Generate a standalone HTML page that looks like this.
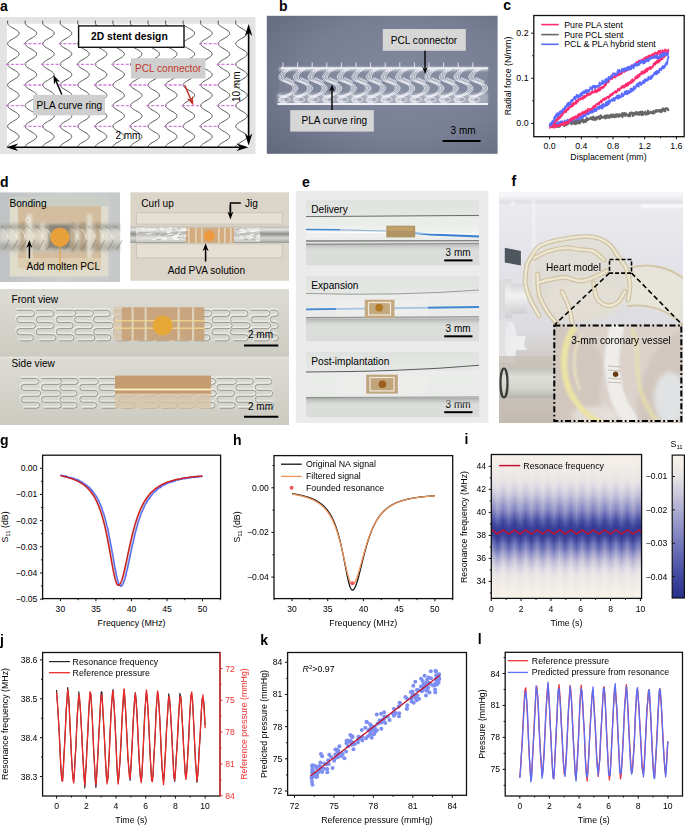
<!DOCTYPE html>
<html><head><meta charset="utf-8"><style>
html,body{margin:0;padding:0;background:#fff;width:685px;height:825px;overflow:hidden}
svg{display:block}
text{font-family:"Liberation Sans",sans-serif}
</style></head><body>
<svg width="685" height="825" viewBox="0 0 685 825">
<defs><radialGradient id="gb" cx="0.6" cy="0.45" r="0.8"><stop offset="0" stop-color="#82889e"/><stop offset="0.55" stop-color="#787e94"/><stop offset="1" stop-color="#62687d"/></radialGradient>
<filter id="bl05" x="-5%" y="-5%" width="110%" height="110%"><feGaussianBlur stdDeviation="0.5"/></filter>
<filter id="bl1" x="-10%" y="-10%" width="120%" height="120%"><feGaussianBlur stdDeviation="1"/></filter>
<filter id="bl2" x="-10%" y="-10%" width="120%" height="120%"><feGaussianBlur stdDeviation="2"/></filter>
<filter id="bl4" x="-20%" y="-20%" width="140%" height="140%"><feGaussianBlur stdDeviation="4"/></filter>
<linearGradient id="gd1" x1="0" y1="0" x2="1" y2="0"><stop offset="0" stop-color="#bfc1c3"/><stop offset="0.5" stop-color="#cdcfcf"/><stop offset="1" stop-color="#c6c8c9"/></linearGradient>
<linearGradient id="rod" x1="0" y1="0" x2="0" y2="1"><stop offset="0" stop-color="#b8b8b6"/><stop offset="0.2" stop-color="#e4e4e0"/><stop offset="0.45" stop-color="#8c8c8a"/><stop offset="0.7" stop-color="#d8d8d4"/><stop offset="1" stop-color="#9a9a98"/></linearGradient>
<linearGradient id="tube1" x1="0" y1="0" x2="0" y2="1"><stop offset="0" stop-color="#c4c4bc"/><stop offset="0.13" stop-color="#8f918a"/><stop offset="0.3" stop-color="#e0ddd0"/><stop offset="0.55" stop-color="#e6e2d4"/><stop offset="0.8" stop-color="#979890"/><stop offset="1" stop-color="#cacac2"/></linearGradient>
<linearGradient id="gd3" x1="0" y1="0" x2="0" y2="1"><stop offset="0" stop-color="#dddcd4"/><stop offset="1" stop-color="#cccbc2"/></linearGradient>
<linearGradient id="ge" x1="0" y1="0" x2="0" y2="1"><stop offset="0" stop-color="#e0e2e0"/><stop offset="0.3" stop-color="#e6e8e6"/><stop offset="0.65" stop-color="#dddfdd"/><stop offset="1" stop-color="#dadcda"/></linearGradient>
<linearGradient id="gtb" x1="0" y1="0" x2="0" y2="1"><stop offset="0" stop-color="#a4a6a4" stop-opacity="0.9"/><stop offset="1" stop-color="#d8dad8" stop-opacity="0"/></linearGradient>
<linearGradient id="gf" x1="0" y1="0" x2="0" y2="1"><stop offset="0" stop-color="#ececf0"/><stop offset="0.3" stop-color="#e3e3e9"/><stop offset="0.6" stop-color="#dcdbe0"/><stop offset="0.72" stop-color="#cfcac6"/><stop offset="1" stop-color="#c3bab2"/></linearGradient>
<linearGradient id="gcyl" x1="0" y1="0" x2="0" y2="1"><stop offset="0" stop-color="#bfc1ba"/><stop offset="0.3" stop-color="#dcdfd8"/><stop offset="0.7" stop-color="#d2d4cc"/><stop offset="1" stop-color="#b4b6ae"/></linearGradient>
<linearGradient id="gwc" x1="0" y1="0" x2="0" y2="1"><stop offset="0" stop-color="#d6d6d8"/><stop offset="0.4" stop-color="#f2f2f2"/><stop offset="1" stop-color="#cfcfd2"/></linearGradient>
<clipPath id="cf"><rect x="499" y="192.2" width="184" height="230.8"/></clipPath>
<clipPath id="cfi"><rect x="553.3" y="324.4" width="128.9" height="97.6"/></clipPath>
<linearGradient id="gi_lo" x1="0" y1="0" x2="0" y2="1"><stop offset="0" stop-color="#f6f1e8"/><stop offset="0.02" stop-color="#f5f0e8"/><stop offset="0.04" stop-color="#f4efe8"/><stop offset="0.06" stop-color="#f3efe8"/><stop offset="0.08" stop-color="#f2eee8"/><stop offset="0.1" stop-color="#f1ede7"/><stop offset="0.12" stop-color="#f0ece7"/><stop offset="0.15" stop-color="#efeae7"/><stop offset="0.17" stop-color="#ede9e7"/><stop offset="0.19" stop-color="#ebe7e7"/><stop offset="0.21" stop-color="#e9e5e7"/><stop offset="0.23" stop-color="#e4e1e5"/><stop offset="0.25" stop-color="#dfdbe3"/><stop offset="0.27" stop-color="#d8d5e1"/><stop offset="0.29" stop-color="#d0cdde"/><stop offset="0.31" stop-color="#c7c5da"/><stop offset="0.33" stop-color="#bdbbd7"/><stop offset="0.35" stop-color="#b2b0d3"/><stop offset="0.38" stop-color="#a5a5ce"/><stop offset="0.4" stop-color="#9798c9"/><stop offset="0.42" stop-color="#8789c3"/><stop offset="0.44" stop-color="#757abd"/><stop offset="0.46" stop-color="#656ab3"/><stop offset="0.48" stop-color="#545baa"/><stop offset="0.5" stop-color="#454da1"/><stop offset="0.52" stop-color="#3a429a"/><stop offset="0.54" stop-color="#343c95"/><stop offset="0.56" stop-color="#323a93"/><stop offset="0.58" stop-color="#353d95"/><stop offset="0.6" stop-color="#3e469c"/><stop offset="0.62" stop-color="#4e55a6"/><stop offset="0.65" stop-color="#6167b1"/><stop offset="0.67" stop-color="#7579bc"/><stop offset="0.69" stop-color="#898cc4"/><stop offset="0.71" stop-color="#9c9dcb"/><stop offset="0.73" stop-color="#acabd1"/><stop offset="0.75" stop-color="#bbb9d6"/><stop offset="0.77" stop-color="#c7c5da"/><stop offset="0.79" stop-color="#d2cfde"/><stop offset="0.81" stop-color="#dbd8e2"/><stop offset="0.83" stop-color="#e3dfe5"/><stop offset="0.85" stop-color="#e9e5e7"/><stop offset="0.88" stop-color="#ece8e7"/><stop offset="0.9" stop-color="#eeeae7"/><stop offset="0.92" stop-color="#f0ebe7"/><stop offset="0.94" stop-color="#f1ede7"/><stop offset="0.96" stop-color="#f3eee8"/><stop offset="0.98" stop-color="#f4f0e8"/><stop offset="1" stop-color="#f5f1e8"/></linearGradient>
<linearGradient id="gi_hi" x1="0" y1="0" x2="0" y2="1"><stop offset="0" stop-color="#f4efe8"/><stop offset="0.02" stop-color="#f3eee8"/><stop offset="0.04" stop-color="#f2ede8"/><stop offset="0.06" stop-color="#f1ece7"/><stop offset="0.08" stop-color="#efebe7"/><stop offset="0.1" stop-color="#eeeae7"/><stop offset="0.12" stop-color="#ece8e7"/><stop offset="0.15" stop-color="#ebe7e7"/><stop offset="0.17" stop-color="#e8e4e7"/><stop offset="0.19" stop-color="#e3dfe5"/><stop offset="0.21" stop-color="#dcd9e2"/><stop offset="0.23" stop-color="#d6d2e0"/><stop offset="0.25" stop-color="#cecbdd"/><stop offset="0.27" stop-color="#c4c2d9"/><stop offset="0.29" stop-color="#bab8d5"/><stop offset="0.31" stop-color="#aeadd1"/><stop offset="0.33" stop-color="#a1a1cc"/><stop offset="0.35" stop-color="#9293c7"/><stop offset="0.38" stop-color="#8184c1"/><stop offset="0.4" stop-color="#7075ba"/><stop offset="0.42" stop-color="#6065b0"/><stop offset="0.44" stop-color="#4f56a7"/><stop offset="0.46" stop-color="#41499e"/><stop offset="0.48" stop-color="#384098"/><stop offset="0.5" stop-color="#333b94"/><stop offset="0.52" stop-color="#323a93"/><stop offset="0.54" stop-color="#373f97"/><stop offset="0.56" stop-color="#424a9f"/><stop offset="0.58" stop-color="#535aa9"/><stop offset="0.6" stop-color="#676cb4"/><stop offset="0.62" stop-color="#7b7fbf"/><stop offset="0.65" stop-color="#8f91c6"/><stop offset="0.67" stop-color="#a1a1cd"/><stop offset="0.69" stop-color="#b1afd2"/><stop offset="0.71" stop-color="#bfbcd7"/><stop offset="0.73" stop-color="#cbc8dc"/><stop offset="0.75" stop-color="#d5d2df"/><stop offset="0.77" stop-color="#dddae3"/><stop offset="0.79" stop-color="#e5e1e5"/><stop offset="0.81" stop-color="#eae6e7"/><stop offset="0.83" stop-color="#ece8e7"/><stop offset="0.85" stop-color="#eeeae7"/><stop offset="0.88" stop-color="#f0ece7"/><stop offset="0.9" stop-color="#f2ede8"/><stop offset="0.92" stop-color="#f3efe8"/><stop offset="0.94" stop-color="#f4f0e8"/><stop offset="0.96" stop-color="#f6f1e8"/><stop offset="0.98" stop-color="#f7f2e8"/><stop offset="1" stop-color="#f7f3e8"/></linearGradient>
<linearGradient id="gcb" x1="0" y1="0" x2="0" y2="1"><stop offset="0" stop-color="#faf5e8"/><stop offset="0.03" stop-color="#f6f1e8"/><stop offset="0.07" stop-color="#f2eee8"/><stop offset="0.1" stop-color="#efeae7"/><stop offset="0.13" stop-color="#ebe7e7"/><stop offset="0.17" stop-color="#e5e1e5"/><stop offset="0.2" stop-color="#dcd9e2"/><stop offset="0.23" stop-color="#d4d1df"/><stop offset="0.27" stop-color="#cbc8dc"/><stop offset="0.3" stop-color="#c3c0d9"/><stop offset="0.33" stop-color="#bab8d6"/><stop offset="0.37" stop-color="#b2b0d3"/><stop offset="0.4" stop-color="#aaa9d0"/><stop offset="0.43" stop-color="#a1a1cd"/><stop offset="0.47" stop-color="#999aca"/><stop offset="0.5" stop-color="#9192c7"/><stop offset="0.53" stop-color="#898bc4"/><stop offset="0.57" stop-color="#8083c1"/><stop offset="0.6" stop-color="#787cbe"/><stop offset="0.63" stop-color="#7175ba"/><stop offset="0.67" stop-color="#696eb5"/><stop offset="0.7" stop-color="#6267b1"/><stop offset="0.73" stop-color="#5a60ad"/><stop offset="0.77" stop-color="#5359a9"/><stop offset="0.8" stop-color="#4b52a4"/><stop offset="0.83" stop-color="#444ba0"/><stop offset="0.87" stop-color="#3d459c"/><stop offset="0.9" stop-color="#373f97"/><stop offset="0.93" stop-color="#323a93"/><stop offset="0.97" stop-color="#2c348e"/><stop offset="1" stop-color="#262e8a"/></linearGradient>
<linearGradient id="gis" x1="491.9" y1="0" x2="503.18" y2="0" gradientUnits="userSpaceOnUse" spreadMethod="repeat"><stop offset="0" stop-color="#fff"/><stop offset="0.5" stop-color="#000"/><stop offset="1" stop-color="#fff"/></linearGradient>
<mask id="mis" maskUnits="userSpaceOnUse" x="491" y="454" width="151" height="145"><rect x="491.3" y="454.5" width="150.3" height="143.9" fill="url(#gis)"/></mask></defs>
<rect x="0" y="0" width="685" height="825" fill="#fff"/>
<text x="0" y="10.6" font-size="14" font-weight="bold" fill="#000">a</text>
<rect x="0" y="17" width="255.5" height="137" fill="#e3e3e3"/>
<rect x="7" y="23.7" width="242" height="123.5" fill="#ffffff"/>
<path d="M7.6 20.6 L7.6 23.05 L7.73 23.75 L8.11 24.45 L8.73 25.15 L9.56 25.85 L10.56 26.55 L11.69 27.25 L12.89 27.95 L14.11 28.65 L15.3 29.35 L16.4 30.05 L17.36 30.75 L18.14 31.45 L18.71 32.15 L19.03 32.85 L19.09 33.55 L18.9 34.25 L18.45 34.95 L17.78 35.65 L16.9 36.35 L15.86 37.05 L14.71 37.75 L13.5 38.45 L12.28 39.15 L11.11 39.85 L10.04 40.55 L9.13 41.25 L8.4 41.95 L7.89 42.65 L7.63 43.35 L7.63 44.05 L7.89 44.75 L8.4 45.45 L9.13 46.15 L10.04 46.85 L11.11 47.55 L12.28 48.25 L13.5 48.95 L14.71 49.65 L15.86 50.35 L16.9 51.05 L17.78 51.75 L18.45 52.45 L18.9 53.15 L19.09 53.85 L19.03 54.55 L18.71 55.25 L18.14 55.95 L17.36 56.65 L16.4 57.35 L15.3 58.05 L14.11 58.75 L12.89 59.45 L11.69 60.15 L10.56 60.85 L9.56 61.55 L8.73 62.25 L8.11 62.95 L7.73 63.65 L7.6 64.35 L7.73 65.05 L8.11 65.75 L8.73 66.45 L9.56 67.15 L10.56 67.85 L11.69 68.55 L12.89 69.25 L14.11 69.95 L15.3 70.65 L16.4 71.35 L17.36 72.05 L18.14 72.75 L18.71 73.45 L19.03 74.15 L19.09 74.85 L18.9 75.55 L18.45 76.25 L17.78 76.95 L16.9 77.65 L15.86 78.35 L14.71 79.05 L13.5 79.75 L12.28 80.45 L11.11 81.15 L10.04 81.85 L9.13 82.55 L8.4 83.25 L7.89 83.95 L7.63 84.65 L7.63 85.35 L7.89 86.05 L8.4 86.75 L9.13 87.45 L10.04 88.15 L11.11 88.85 L12.28 89.55 L13.5 90.25 L14.71 90.95 L15.86 91.65 L16.9 92.35 L17.78 93.05 L18.45 93.75 L18.9 94.45 L19.09 95.15 L19.03 95.85 L18.71 96.55 L18.14 97.25 L17.36 97.95 L16.4 98.65 L15.3 99.35 L14.11 100.05 L12.89 100.75 L11.69 101.45 L10.56 102.15 L9.56 102.85 L8.73 103.55 L8.11 104.25 L7.73 104.95 L7.6 105.65 L7.73 106.35 L8.11 107.05 L8.73 107.75 L9.56 108.45 L10.56 109.15 L11.69 109.85 L12.89 110.55 L14.11 111.25 L15.3 111.95 L16.4 112.65 L17.36 113.35 L18.14 114.05 L18.71 114.75 L19.03 115.45 L19.09 116.15 L18.9 116.85 L18.45 117.55 L17.78 118.25 L16.9 118.95 L15.86 119.65 L14.71 120.35 L13.5 121.05 L12.28 121.75 L11.11 122.45 L10.04 123.15 L9.13 123.85 L8.4 124.55 L7.89 125.25 L7.63 125.95 L7.63 126.65 L7.89 127.35 L8.4 128.05 L9.13 128.75 L10.04 129.45 L11.11 130.15 L12.28 130.85 L13.5 131.55 L14.71 132.25 L15.86 132.95 L16.9 133.65 L17.78 134.35 L18.45 135.05 L18.9 135.75 L19.09 136.45 L19.03 137.15 L18.71 137.85 L18.14 138.55 L17.36 139.25 L16.4 139.95 L15.3 140.65 L14.11 141.35 L12.89 142.05 L11.69 142.75 L10.56 143.45 L9.56 144.15 L8.73 144.85 L8.11 145.55 L7.73 146.25 L7.6 146.95 M25.15 20.6 L25.15 23.05 L25.28 23.75 L25.66 24.45 L26.28 25.15 L27.11 25.85 L28.11 26.55 L29.24 27.25 L30.44 27.95 L31.66 28.65 L32.85 29.35 L33.95 30.05 L34.91 30.75 L35.69 31.45 L36.26 32.15 L36.58 32.85 L36.64 33.55 L36.45 34.25 L36 34.95 L35.33 35.65 L34.45 36.35 L33.41 37.05 L32.26 37.75 L31.05 38.45 L29.83 39.15 L28.66 39.85 L27.59 40.55 L26.68 41.25 L25.95 41.95 L25.44 42.65 L25.18 43.35 L25.18 44.05 L25.44 44.75 L25.95 45.45 L26.68 46.15 L27.59 46.85 L28.66 47.55 L29.83 48.25 L31.05 48.95 L32.26 49.65 L33.41 50.35 L34.45 51.05 L35.33 51.75 L36 52.45 L36.45 53.15 L36.64 53.85 L36.58 54.55 L36.26 55.25 L35.69 55.95 L34.91 56.65 L33.95 57.35 L32.85 58.05 L31.66 58.75 L30.44 59.45 L29.24 60.15 L28.11 60.85 L27.11 61.55 L26.28 62.25 L25.66 62.95 L25.28 63.65 L25.15 64.35 L25.28 65.05 L25.66 65.75 L26.28 66.45 L27.11 67.15 L28.11 67.85 L29.24 68.55 L30.44 69.25 L31.66 69.95 L32.85 70.65 L33.95 71.35 L34.91 72.05 L35.69 72.75 L36.26 73.45 L36.58 74.15 L36.64 74.85 L36.45 75.55 L36 76.25 L35.33 76.95 L34.45 77.65 L33.41 78.35 L32.26 79.05 L31.05 79.75 L29.83 80.45 L28.66 81.15 L27.59 81.85 L26.68 82.55 L25.95 83.25 L25.44 83.95 L25.18 84.65 L25.18 85.35 L25.44 86.05 L25.95 86.75 L26.68 87.45 L27.59 88.15 L28.66 88.85 L29.83 89.55 L31.05 90.25 L32.26 90.95 L33.41 91.65 L34.45 92.35 L35.33 93.05 L36 93.75 L36.45 94.45 L36.64 95.15 L36.58 95.85 L36.26 96.55 L35.69 97.25 L34.91 97.95 L33.95 98.65 L32.85 99.35 L31.66 100.05 L30.44 100.75 L29.24 101.45 L28.11 102.15 L27.11 102.85 L26.28 103.55 L25.66 104.25 L25.28 104.95 L25.15 105.65 L25.28 106.35 L25.66 107.05 L26.28 107.75 L27.11 108.45 L28.11 109.15 L29.24 109.85 L30.44 110.55 L31.66 111.25 L32.85 111.95 L33.95 112.65 L34.91 113.35 L35.69 114.05 L36.26 114.75 L36.58 115.45 L36.64 116.15 L36.45 116.85 L36 117.55 L35.33 118.25 L34.45 118.95 L33.41 119.65 L32.26 120.35 L31.05 121.05 L29.83 121.75 L28.66 122.45 L27.59 123.15 L26.68 123.85 L25.95 124.55 L25.44 125.25 L25.18 125.95 L25.18 126.65 L25.44 127.35 L25.95 128.05 L26.68 128.75 L27.59 129.45 L28.66 130.15 L29.83 130.85 L31.05 131.55 L32.26 132.25 L33.41 132.95 L34.45 133.65 L35.33 134.35 L36 135.05 L36.45 135.75 L36.64 136.45 L36.58 137.15 L36.26 137.85 L35.69 138.55 L34.91 139.25 L33.95 139.95 L32.85 140.65 L31.66 141.35 L30.44 142.05 L29.24 142.75 L28.11 143.45 L27.11 144.15 L26.28 144.85 L25.66 145.55 L25.28 146.25 L25.15 146.95 M42.7 20.6 L42.7 23.05 L42.83 23.75 L43.21 24.45 L43.83 25.15 L44.66 25.85 L45.66 26.55 L46.79 27.25 L47.99 27.95 L49.21 28.65 L50.4 29.35 L51.5 30.05 L52.46 30.75 L53.24 31.45 L53.81 32.15 L54.13 32.85 L54.19 33.55 L54 34.25 L53.55 34.95 L52.88 35.65 L52 36.35 L50.96 37.05 L49.81 37.75 L48.6 38.45 L47.38 39.15 L46.21 39.85 L45.14 40.55 L44.23 41.25 L43.5 41.95 L42.99 42.65 L42.73 43.35 L42.73 44.05 L42.99 44.75 L43.5 45.45 L44.23 46.15 L45.14 46.85 L46.21 47.55 L47.38 48.25 L48.6 48.95 L49.81 49.65 L50.96 50.35 L52 51.05 L52.88 51.75 L53.55 52.45 L54 53.15 L54.19 53.85 L54.13 54.55 L53.81 55.25 L53.24 55.95 L52.46 56.65 L51.5 57.35 L50.4 58.05 L49.21 58.75 L47.99 59.45 L46.79 60.15 L45.66 60.85 L44.66 61.55 L43.83 62.25 L43.21 62.95 L42.83 63.65 L42.7 64.35 L42.83 65.05 L43.21 65.75 L43.83 66.45 L44.66 67.15 L45.66 67.85 L46.79 68.55 L47.99 69.25 L49.21 69.95 L50.4 70.65 L51.5 71.35 L52.46 72.05 L53.24 72.75 L53.81 73.45 L54.13 74.15 L54.19 74.85 L54 75.55 L53.55 76.25 L52.88 76.95 L52 77.65 L50.96 78.35 L49.81 79.05 L48.6 79.75 L47.38 80.45 L46.21 81.15 L45.14 81.85 L44.23 82.55 L43.5 83.25 L42.99 83.95 L42.73 84.65 L42.73 85.35 L42.99 86.05 L43.5 86.75 L44.23 87.45 L45.14 88.15 L46.21 88.85 L47.38 89.55 L48.6 90.25 L49.81 90.95 L50.96 91.65 L52 92.35 L52.88 93.05 L53.55 93.75 L54 94.45 L54.19 95.15 L54.13 95.85 L53.81 96.55 L53.24 97.25 L52.46 97.95 L51.5 98.65 L50.4 99.35 L49.21 100.05 L47.99 100.75 L46.79 101.45 L45.66 102.15 L44.66 102.85 L43.83 103.55 L43.21 104.25 L42.83 104.95 L42.7 105.65 L42.83 106.35 L43.21 107.05 L43.83 107.75 L44.66 108.45 L45.66 109.15 L46.79 109.85 L47.99 110.55 L49.21 111.25 L50.4 111.95 L51.5 112.65 L52.46 113.35 L53.24 114.05 L53.81 114.75 L54.13 115.45 L54.19 116.15 L54 116.85 L53.55 117.55 L52.88 118.25 L52 118.95 L50.96 119.65 L49.81 120.35 L48.6 121.05 L47.38 121.75 L46.21 122.45 L45.14 123.15 L44.23 123.85 L43.5 124.55 L42.99 125.25 L42.73 125.95 L42.73 126.65 L42.99 127.35 L43.5 128.05 L44.23 128.75 L45.14 129.45 L46.21 130.15 L47.38 130.85 L48.6 131.55 L49.81 132.25 L50.96 132.95 L52 133.65 L52.88 134.35 L53.55 135.05 L54 135.75 L54.19 136.45 L54.13 137.15 L53.81 137.85 L53.24 138.55 L52.46 139.25 L51.5 139.95 L50.4 140.65 L49.21 141.35 L47.99 142.05 L46.79 142.75 L45.66 143.45 L44.66 144.15 L43.83 144.85 L43.21 145.55 L42.83 146.25 L42.7 146.95 M60.25 20.6 L60.25 23.05 L60.38 23.75 L60.76 24.45 L61.38 25.15 L62.21 25.85 L63.21 26.55 L64.34 27.25 L65.54 27.95 L66.76 28.65 L67.95 29.35 L69.05 30.05 L70.01 30.75 L70.79 31.45 L71.36 32.15 L71.68 32.85 L71.74 33.55 L71.55 34.25 L71.1 34.95 L70.43 35.65 L69.55 36.35 L68.51 37.05 L67.36 37.75 L66.15 38.45 L64.93 39.15 L63.76 39.85 L62.69 40.55 L61.78 41.25 L61.05 41.95 L60.54 42.65 L60.28 43.35 L60.28 44.05 L60.54 44.75 L61.05 45.45 L61.78 46.15 L62.69 46.85 L63.76 47.55 L64.93 48.25 L66.15 48.95 L67.36 49.65 L68.51 50.35 L69.55 51.05 L70.43 51.75 L71.1 52.45 L71.55 53.15 L71.74 53.85 L71.68 54.55 L71.36 55.25 L70.79 55.95 L70.01 56.65 L69.05 57.35 L67.95 58.05 L66.76 58.75 L65.54 59.45 L64.34 60.15 L63.21 60.85 L62.21 61.55 L61.38 62.25 L60.76 62.95 L60.38 63.65 L60.25 64.35 L60.38 65.05 L60.76 65.75 L61.38 66.45 L62.21 67.15 L63.21 67.85 L64.34 68.55 L65.54 69.25 L66.76 69.95 L67.95 70.65 L69.05 71.35 L70.01 72.05 L70.79 72.75 L71.36 73.45 L71.68 74.15 L71.74 74.85 L71.55 75.55 L71.1 76.25 L70.43 76.95 L69.55 77.65 L68.51 78.35 L67.36 79.05 L66.15 79.75 L64.93 80.45 L63.76 81.15 L62.69 81.85 L61.78 82.55 L61.05 83.25 L60.54 83.95 L60.28 84.65 L60.28 85.35 L60.54 86.05 L61.05 86.75 L61.78 87.45 L62.69 88.15 L63.76 88.85 L64.93 89.55 L66.15 90.25 L67.36 90.95 L68.51 91.65 L69.55 92.35 L70.43 93.05 L71.1 93.75 L71.55 94.45 L71.74 95.15 L71.68 95.85 L71.36 96.55 L70.79 97.25 L70.01 97.95 L69.05 98.65 L67.95 99.35 L66.76 100.05 L65.54 100.75 L64.34 101.45 L63.21 102.15 L62.21 102.85 L61.38 103.55 L60.76 104.25 L60.38 104.95 L60.25 105.65 L60.38 106.35 L60.76 107.05 L61.38 107.75 L62.21 108.45 L63.21 109.15 L64.34 109.85 L65.54 110.55 L66.76 111.25 L67.95 111.95 L69.05 112.65 L70.01 113.35 L70.79 114.05 L71.36 114.75 L71.68 115.45 L71.74 116.15 L71.55 116.85 L71.1 117.55 L70.43 118.25 L69.55 118.95 L68.51 119.65 L67.36 120.35 L66.15 121.05 L64.93 121.75 L63.76 122.45 L62.69 123.15 L61.78 123.85 L61.05 124.55 L60.54 125.25 L60.28 125.95 L60.28 126.65 L60.54 127.35 L61.05 128.05 L61.78 128.75 L62.69 129.45 L63.76 130.15 L64.93 130.85 L66.15 131.55 L67.36 132.25 L68.51 132.95 L69.55 133.65 L70.43 134.35 L71.1 135.05 L71.55 135.75 L71.74 136.45 L71.68 137.15 L71.36 137.85 L70.79 138.55 L70.01 139.25 L69.05 139.95 L67.95 140.65 L66.76 141.35 L65.54 142.05 L64.34 142.75 L63.21 143.45 L62.21 144.15 L61.38 144.85 L60.76 145.55 L60.38 146.25 L60.25 146.95 M77.8 20.6 L77.8 23.05 L77.93 23.75 L78.31 24.45 L78.93 25.15 L79.76 25.85 L80.76 26.55 L81.89 27.25 L83.09 27.95 L84.31 28.65 L85.5 29.35 L86.6 30.05 L87.56 30.75 L88.34 31.45 L88.91 32.15 L89.23 32.85 L89.29 33.55 L89.1 34.25 L88.65 34.95 L87.98 35.65 L87.1 36.35 L86.06 37.05 L84.91 37.75 L83.7 38.45 L82.48 39.15 L81.31 39.85 L80.24 40.55 L79.33 41.25 L78.6 41.95 L78.09 42.65 L77.83 43.35 L77.83 44.05 L78.09 44.75 L78.6 45.45 L79.33 46.15 L80.24 46.85 L81.31 47.55 L82.48 48.25 L83.7 48.95 L84.91 49.65 L86.06 50.35 L87.1 51.05 L87.98 51.75 L88.65 52.45 L89.1 53.15 L89.29 53.85 L89.23 54.55 L88.91 55.25 L88.34 55.95 L87.56 56.65 L86.6 57.35 L85.5 58.05 L84.31 58.75 L83.09 59.45 L81.89 60.15 L80.76 60.85 L79.76 61.55 L78.93 62.25 L78.31 62.95 L77.93 63.65 L77.8 64.35 L77.93 65.05 L78.31 65.75 L78.93 66.45 L79.76 67.15 L80.76 67.85 L81.89 68.55 L83.09 69.25 L84.31 69.95 L85.5 70.65 L86.6 71.35 L87.56 72.05 L88.34 72.75 L88.91 73.45 L89.23 74.15 L89.29 74.85 L89.1 75.55 L88.65 76.25 L87.98 76.95 L87.1 77.65 L86.06 78.35 L84.91 79.05 L83.7 79.75 L82.48 80.45 L81.31 81.15 L80.24 81.85 L79.33 82.55 L78.6 83.25 L78.09 83.95 L77.83 84.65 L77.83 85.35 L78.09 86.05 L78.6 86.75 L79.33 87.45 L80.24 88.15 L81.31 88.85 L82.48 89.55 L83.7 90.25 L84.91 90.95 L86.06 91.65 L87.1 92.35 L87.98 93.05 L88.65 93.75 L89.1 94.45 L89.29 95.15 L89.23 95.85 L88.91 96.55 L88.34 97.25 L87.56 97.95 L86.6 98.65 L85.5 99.35 L84.31 100.05 L83.09 100.75 L81.89 101.45 L80.76 102.15 L79.76 102.85 L78.93 103.55 L78.31 104.25 L77.93 104.95 L77.8 105.65 L77.93 106.35 L78.31 107.05 L78.93 107.75 L79.76 108.45 L80.76 109.15 L81.89 109.85 L83.09 110.55 L84.31 111.25 L85.5 111.95 L86.6 112.65 L87.56 113.35 L88.34 114.05 L88.91 114.75 L89.23 115.45 L89.29 116.15 L89.1 116.85 L88.65 117.55 L87.98 118.25 L87.1 118.95 L86.06 119.65 L84.91 120.35 L83.7 121.05 L82.48 121.75 L81.31 122.45 L80.24 123.15 L79.33 123.85 L78.6 124.55 L78.09 125.25 L77.83 125.95 L77.83 126.65 L78.09 127.35 L78.6 128.05 L79.33 128.75 L80.24 129.45 L81.31 130.15 L82.48 130.85 L83.7 131.55 L84.91 132.25 L86.06 132.95 L87.1 133.65 L87.98 134.35 L88.65 135.05 L89.1 135.75 L89.29 136.45 L89.23 137.15 L88.91 137.85 L88.34 138.55 L87.56 139.25 L86.6 139.95 L85.5 140.65 L84.31 141.35 L83.09 142.05 L81.89 142.75 L80.76 143.45 L79.76 144.15 L78.93 144.85 L78.31 145.55 L77.93 146.25 L77.8 146.95 M95.35 20.6 L95.35 23.05 L95.48 23.75 L95.86 24.45 L96.48 25.15 L97.31 25.85 L98.31 26.55 L99.44 27.25 L100.64 27.95 L101.86 28.65 L103.05 29.35 L104.15 30.05 L105.11 30.75 L105.89 31.45 L106.46 32.15 L106.78 32.85 L106.84 33.55 L106.65 34.25 L106.2 34.95 L105.53 35.65 L104.65 36.35 L103.61 37.05 L102.46 37.75 L101.25 38.45 L100.03 39.15 L98.86 39.85 L97.79 40.55 L96.88 41.25 L96.15 41.95 L95.64 42.65 L95.38 43.35 L95.38 44.05 L95.64 44.75 L96.15 45.45 L96.88 46.15 L97.79 46.85 L98.86 47.55 L100.03 48.25 L101.25 48.95 L102.46 49.65 L103.61 50.35 L104.65 51.05 L105.53 51.75 L106.2 52.45 L106.65 53.15 L106.84 53.85 L106.78 54.55 L106.46 55.25 L105.89 55.95 L105.11 56.65 L104.15 57.35 L103.05 58.05 L101.86 58.75 L100.64 59.45 L99.44 60.15 L98.31 60.85 L97.31 61.55 L96.48 62.25 L95.86 62.95 L95.48 63.65 L95.35 64.35 L95.48 65.05 L95.86 65.75 L96.48 66.45 L97.31 67.15 L98.31 67.85 L99.44 68.55 L100.64 69.25 L101.86 69.95 L103.05 70.65 L104.15 71.35 L105.11 72.05 L105.89 72.75 L106.46 73.45 L106.78 74.15 L106.84 74.85 L106.65 75.55 L106.2 76.25 L105.53 76.95 L104.65 77.65 L103.61 78.35 L102.46 79.05 L101.25 79.75 L100.03 80.45 L98.86 81.15 L97.79 81.85 L96.88 82.55 L96.15 83.25 L95.64 83.95 L95.38 84.65 L95.38 85.35 L95.64 86.05 L96.15 86.75 L96.88 87.45 L97.79 88.15 L98.86 88.85 L100.03 89.55 L101.25 90.25 L102.46 90.95 L103.61 91.65 L104.65 92.35 L105.53 93.05 L106.2 93.75 L106.65 94.45 L106.84 95.15 L106.78 95.85 L106.46 96.55 L105.89 97.25 L105.11 97.95 L104.15 98.65 L103.05 99.35 L101.86 100.05 L100.64 100.75 L99.44 101.45 L98.31 102.15 L97.31 102.85 L96.48 103.55 L95.86 104.25 L95.48 104.95 L95.35 105.65 L95.48 106.35 L95.86 107.05 L96.48 107.75 L97.31 108.45 L98.31 109.15 L99.44 109.85 L100.64 110.55 L101.86 111.25 L103.05 111.95 L104.15 112.65 L105.11 113.35 L105.89 114.05 L106.46 114.75 L106.78 115.45 L106.84 116.15 L106.65 116.85 L106.2 117.55 L105.53 118.25 L104.65 118.95 L103.61 119.65 L102.46 120.35 L101.25 121.05 L100.03 121.75 L98.86 122.45 L97.79 123.15 L96.88 123.85 L96.15 124.55 L95.64 125.25 L95.38 125.95 L95.38 126.65 L95.64 127.35 L96.15 128.05 L96.88 128.75 L97.79 129.45 L98.86 130.15 L100.03 130.85 L101.25 131.55 L102.46 132.25 L103.61 132.95 L104.65 133.65 L105.53 134.35 L106.2 135.05 L106.65 135.75 L106.84 136.45 L106.78 137.15 L106.46 137.85 L105.89 138.55 L105.11 139.25 L104.15 139.95 L103.05 140.65 L101.86 141.35 L100.64 142.05 L99.44 142.75 L98.31 143.45 L97.31 144.15 L96.48 144.85 L95.86 145.55 L95.48 146.25 L95.35 146.95 M112.9 20.6 L112.9 23.05 L113.03 23.75 L113.41 24.45 L114.03 25.15 L114.86 25.85 L115.86 26.55 L116.99 27.25 L118.19 27.95 L119.41 28.65 L120.6 29.35 L121.7 30.05 L122.66 30.75 L123.44 31.45 L124.01 32.15 L124.33 32.85 L124.39 33.55 L124.2 34.25 L123.75 34.95 L123.08 35.65 L122.2 36.35 L121.16 37.05 L120.01 37.75 L118.8 38.45 L117.58 39.15 L116.41 39.85 L115.34 40.55 L114.43 41.25 L113.7 41.95 L113.19 42.65 L112.93 43.35 L112.93 44.05 L113.19 44.75 L113.7 45.45 L114.43 46.15 L115.34 46.85 L116.41 47.55 L117.58 48.25 L118.8 48.95 L120.01 49.65 L121.16 50.35 L122.2 51.05 L123.08 51.75 L123.75 52.45 L124.2 53.15 L124.39 53.85 L124.33 54.55 L124.01 55.25 L123.44 55.95 L122.66 56.65 L121.7 57.35 L120.6 58.05 L119.41 58.75 L118.19 59.45 L116.99 60.15 L115.86 60.85 L114.86 61.55 L114.03 62.25 L113.41 62.95 L113.03 63.65 L112.9 64.35 L113.03 65.05 L113.41 65.75 L114.03 66.45 L114.86 67.15 L115.86 67.85 L116.99 68.55 L118.19 69.25 L119.41 69.95 L120.6 70.65 L121.7 71.35 L122.66 72.05 L123.44 72.75 L124.01 73.45 L124.33 74.15 L124.39 74.85 L124.2 75.55 L123.75 76.25 L123.08 76.95 L122.2 77.65 L121.16 78.35 L120.01 79.05 L118.8 79.75 L117.58 80.45 L116.41 81.15 L115.34 81.85 L114.43 82.55 L113.7 83.25 L113.19 83.95 L112.93 84.65 L112.93 85.35 L113.19 86.05 L113.7 86.75 L114.43 87.45 L115.34 88.15 L116.41 88.85 L117.58 89.55 L118.8 90.25 L120.01 90.95 L121.16 91.65 L122.2 92.35 L123.08 93.05 L123.75 93.75 L124.2 94.45 L124.39 95.15 L124.33 95.85 L124.01 96.55 L123.44 97.25 L122.66 97.95 L121.7 98.65 L120.6 99.35 L119.41 100.05 L118.19 100.75 L116.99 101.45 L115.86 102.15 L114.86 102.85 L114.03 103.55 L113.41 104.25 L113.03 104.95 L112.9 105.65 L113.03 106.35 L113.41 107.05 L114.03 107.75 L114.86 108.45 L115.86 109.15 L116.99 109.85 L118.19 110.55 L119.41 111.25 L120.6 111.95 L121.7 112.65 L122.66 113.35 L123.44 114.05 L124.01 114.75 L124.33 115.45 L124.39 116.15 L124.2 116.85 L123.75 117.55 L123.08 118.25 L122.2 118.95 L121.16 119.65 L120.01 120.35 L118.8 121.05 L117.58 121.75 L116.41 122.45 L115.34 123.15 L114.43 123.85 L113.7 124.55 L113.19 125.25 L112.93 125.95 L112.93 126.65 L113.19 127.35 L113.7 128.05 L114.43 128.75 L115.34 129.45 L116.41 130.15 L117.58 130.85 L118.8 131.55 L120.01 132.25 L121.16 132.95 L122.2 133.65 L123.08 134.35 L123.75 135.05 L124.2 135.75 L124.39 136.45 L124.33 137.15 L124.01 137.85 L123.44 138.55 L122.66 139.25 L121.7 139.95 L120.6 140.65 L119.41 141.35 L118.19 142.05 L116.99 142.75 L115.86 143.45 L114.86 144.15 L114.03 144.85 L113.41 145.55 L113.03 146.25 L112.9 146.95 M130.45 20.6 L130.45 23.05 L130.58 23.75 L130.96 24.45 L131.58 25.15 L132.41 25.85 L133.41 26.55 L134.54 27.25 L135.74 27.95 L136.96 28.65 L138.15 29.35 L139.25 30.05 L140.21 30.75 L140.99 31.45 L141.56 32.15 L141.88 32.85 L141.94 33.55 L141.75 34.25 L141.3 34.95 L140.63 35.65 L139.75 36.35 L138.71 37.05 L137.56 37.75 L136.35 38.45 L135.13 39.15 L133.96 39.85 L132.89 40.55 L131.98 41.25 L131.25 41.95 L130.74 42.65 L130.48 43.35 L130.48 44.05 L130.74 44.75 L131.25 45.45 L131.98 46.15 L132.89 46.85 L133.96 47.55 L135.13 48.25 L136.35 48.95 L137.56 49.65 L138.71 50.35 L139.75 51.05 L140.63 51.75 L141.3 52.45 L141.75 53.15 L141.94 53.85 L141.88 54.55 L141.56 55.25 L140.99 55.95 L140.21 56.65 L139.25 57.35 L138.15 58.05 L136.96 58.75 L135.74 59.45 L134.54 60.15 L133.41 60.85 L132.41 61.55 L131.58 62.25 L130.96 62.95 L130.58 63.65 L130.45 64.35 L130.58 65.05 L130.96 65.75 L131.58 66.45 L132.41 67.15 L133.41 67.85 L134.54 68.55 L135.74 69.25 L136.96 69.95 L138.15 70.65 L139.25 71.35 L140.21 72.05 L140.99 72.75 L141.56 73.45 L141.88 74.15 L141.94 74.85 L141.75 75.55 L141.3 76.25 L140.63 76.95 L139.75 77.65 L138.71 78.35 L137.56 79.05 L136.35 79.75 L135.13 80.45 L133.96 81.15 L132.89 81.85 L131.98 82.55 L131.25 83.25 L130.74 83.95 L130.48 84.65 L130.48 85.35 L130.74 86.05 L131.25 86.75 L131.98 87.45 L132.89 88.15 L133.96 88.85 L135.13 89.55 L136.35 90.25 L137.56 90.95 L138.71 91.65 L139.75 92.35 L140.63 93.05 L141.3 93.75 L141.75 94.45 L141.94 95.15 L141.88 95.85 L141.56 96.55 L140.99 97.25 L140.21 97.95 L139.25 98.65 L138.15 99.35 L136.96 100.05 L135.74 100.75 L134.54 101.45 L133.41 102.15 L132.41 102.85 L131.58 103.55 L130.96 104.25 L130.58 104.95 L130.45 105.65 L130.58 106.35 L130.96 107.05 L131.58 107.75 L132.41 108.45 L133.41 109.15 L134.54 109.85 L135.74 110.55 L136.96 111.25 L138.15 111.95 L139.25 112.65 L140.21 113.35 L140.99 114.05 L141.56 114.75 L141.88 115.45 L141.94 116.15 L141.75 116.85 L141.3 117.55 L140.63 118.25 L139.75 118.95 L138.71 119.65 L137.56 120.35 L136.35 121.05 L135.13 121.75 L133.96 122.45 L132.89 123.15 L131.98 123.85 L131.25 124.55 L130.74 125.25 L130.48 125.95 L130.48 126.65 L130.74 127.35 L131.25 128.05 L131.98 128.75 L132.89 129.45 L133.96 130.15 L135.13 130.85 L136.35 131.55 L137.56 132.25 L138.71 132.95 L139.75 133.65 L140.63 134.35 L141.3 135.05 L141.75 135.75 L141.94 136.45 L141.88 137.15 L141.56 137.85 L140.99 138.55 L140.21 139.25 L139.25 139.95 L138.15 140.65 L136.96 141.35 L135.74 142.05 L134.54 142.75 L133.41 143.45 L132.41 144.15 L131.58 144.85 L130.96 145.55 L130.58 146.25 L130.45 146.95 M148 20.6 L148 23.05 L148.13 23.75 L148.51 24.45 L149.13 25.15 L149.96 25.85 L150.96 26.55 L152.09 27.25 L153.29 27.95 L154.51 28.65 L155.7 29.35 L156.8 30.05 L157.76 30.75 L158.54 31.45 L159.11 32.15 L159.43 32.85 L159.49 33.55 L159.3 34.25 L158.85 34.95 L158.18 35.65 L157.3 36.35 L156.26 37.05 L155.11 37.75 L153.9 38.45 L152.68 39.15 L151.51 39.85 L150.44 40.55 L149.53 41.25 L148.8 41.95 L148.29 42.65 L148.03 43.35 L148.03 44.05 L148.29 44.75 L148.8 45.45 L149.53 46.15 L150.44 46.85 L151.51 47.55 L152.68 48.25 L153.9 48.95 L155.11 49.65 L156.26 50.35 L157.3 51.05 L158.18 51.75 L158.85 52.45 L159.3 53.15 L159.49 53.85 L159.43 54.55 L159.11 55.25 L158.54 55.95 L157.76 56.65 L156.8 57.35 L155.7 58.05 L154.51 58.75 L153.29 59.45 L152.09 60.15 L150.96 60.85 L149.96 61.55 L149.13 62.25 L148.51 62.95 L148.13 63.65 L148 64.35 L148.13 65.05 L148.51 65.75 L149.13 66.45 L149.96 67.15 L150.96 67.85 L152.09 68.55 L153.29 69.25 L154.51 69.95 L155.7 70.65 L156.8 71.35 L157.76 72.05 L158.54 72.75 L159.11 73.45 L159.43 74.15 L159.49 74.85 L159.3 75.55 L158.85 76.25 L158.18 76.95 L157.3 77.65 L156.26 78.35 L155.11 79.05 L153.9 79.75 L152.68 80.45 L151.51 81.15 L150.44 81.85 L149.53 82.55 L148.8 83.25 L148.29 83.95 L148.03 84.65 L148.03 85.35 L148.29 86.05 L148.8 86.75 L149.53 87.45 L150.44 88.15 L151.51 88.85 L152.68 89.55 L153.9 90.25 L155.11 90.95 L156.26 91.65 L157.3 92.35 L158.18 93.05 L158.85 93.75 L159.3 94.45 L159.49 95.15 L159.43 95.85 L159.11 96.55 L158.54 97.25 L157.76 97.95 L156.8 98.65 L155.7 99.35 L154.51 100.05 L153.29 100.75 L152.09 101.45 L150.96 102.15 L149.96 102.85 L149.13 103.55 L148.51 104.25 L148.13 104.95 L148 105.65 L148.13 106.35 L148.51 107.05 L149.13 107.75 L149.96 108.45 L150.96 109.15 L152.09 109.85 L153.29 110.55 L154.51 111.25 L155.7 111.95 L156.8 112.65 L157.76 113.35 L158.54 114.05 L159.11 114.75 L159.43 115.45 L159.49 116.15 L159.3 116.85 L158.85 117.55 L158.18 118.25 L157.3 118.95 L156.26 119.65 L155.11 120.35 L153.9 121.05 L152.68 121.75 L151.51 122.45 L150.44 123.15 L149.53 123.85 L148.8 124.55 L148.29 125.25 L148.03 125.95 L148.03 126.65 L148.29 127.35 L148.8 128.05 L149.53 128.75 L150.44 129.45 L151.51 130.15 L152.68 130.85 L153.9 131.55 L155.11 132.25 L156.26 132.95 L157.3 133.65 L158.18 134.35 L158.85 135.05 L159.3 135.75 L159.49 136.45 L159.43 137.15 L159.11 137.85 L158.54 138.55 L157.76 139.25 L156.8 139.95 L155.7 140.65 L154.51 141.35 L153.29 142.05 L152.09 142.75 L150.96 143.45 L149.96 144.15 L149.13 144.85 L148.51 145.55 L148.13 146.25 L148 146.95 M165.55 20.6 L165.55 23.05 L165.68 23.75 L166.06 24.45 L166.68 25.15 L167.51 25.85 L168.51 26.55 L169.64 27.25 L170.84 27.95 L172.06 28.65 L173.25 29.35 L174.35 30.05 L175.31 30.75 L176.09 31.45 L176.66 32.15 L176.98 32.85 L177.04 33.55 L176.85 34.25 L176.4 34.95 L175.73 35.65 L174.85 36.35 L173.81 37.05 L172.66 37.75 L171.45 38.45 L170.23 39.15 L169.06 39.85 L167.99 40.55 L167.08 41.25 L166.35 41.95 L165.84 42.65 L165.58 43.35 L165.58 44.05 L165.84 44.75 L166.35 45.45 L167.08 46.15 L167.99 46.85 L169.06 47.55 L170.23 48.25 L171.45 48.95 L172.66 49.65 L173.81 50.35 L174.85 51.05 L175.73 51.75 L176.4 52.45 L176.85 53.15 L177.04 53.85 L176.98 54.55 L176.66 55.25 L176.09 55.95 L175.31 56.65 L174.35 57.35 L173.25 58.05 L172.06 58.75 L170.84 59.45 L169.64 60.15 L168.51 60.85 L167.51 61.55 L166.68 62.25 L166.06 62.95 L165.68 63.65 L165.55 64.35 L165.68 65.05 L166.06 65.75 L166.68 66.45 L167.51 67.15 L168.51 67.85 L169.64 68.55 L170.84 69.25 L172.06 69.95 L173.25 70.65 L174.35 71.35 L175.31 72.05 L176.09 72.75 L176.66 73.45 L176.98 74.15 L177.04 74.85 L176.85 75.55 L176.4 76.25 L175.73 76.95 L174.85 77.65 L173.81 78.35 L172.66 79.05 L171.45 79.75 L170.23 80.45 L169.06 81.15 L167.99 81.85 L167.08 82.55 L166.35 83.25 L165.84 83.95 L165.58 84.65 L165.58 85.35 L165.84 86.05 L166.35 86.75 L167.08 87.45 L167.99 88.15 L169.06 88.85 L170.23 89.55 L171.45 90.25 L172.66 90.95 L173.81 91.65 L174.85 92.35 L175.73 93.05 L176.4 93.75 L176.85 94.45 L177.04 95.15 L176.98 95.85 L176.66 96.55 L176.09 97.25 L175.31 97.95 L174.35 98.65 L173.25 99.35 L172.06 100.05 L170.84 100.75 L169.64 101.45 L168.51 102.15 L167.51 102.85 L166.68 103.55 L166.06 104.25 L165.68 104.95 L165.55 105.65 L165.68 106.35 L166.06 107.05 L166.68 107.75 L167.51 108.45 L168.51 109.15 L169.64 109.85 L170.84 110.55 L172.06 111.25 L173.25 111.95 L174.35 112.65 L175.31 113.35 L176.09 114.05 L176.66 114.75 L176.98 115.45 L177.04 116.15 L176.85 116.85 L176.4 117.55 L175.73 118.25 L174.85 118.95 L173.81 119.65 L172.66 120.35 L171.45 121.05 L170.23 121.75 L169.06 122.45 L167.99 123.15 L167.08 123.85 L166.35 124.55 L165.84 125.25 L165.58 125.95 L165.58 126.65 L165.84 127.35 L166.35 128.05 L167.08 128.75 L167.99 129.45 L169.06 130.15 L170.23 130.85 L171.45 131.55 L172.66 132.25 L173.81 132.95 L174.85 133.65 L175.73 134.35 L176.4 135.05 L176.85 135.75 L177.04 136.45 L176.98 137.15 L176.66 137.85 L176.09 138.55 L175.31 139.25 L174.35 139.95 L173.25 140.65 L172.06 141.35 L170.84 142.05 L169.64 142.75 L168.51 143.45 L167.51 144.15 L166.68 144.85 L166.06 145.55 L165.68 146.25 L165.55 146.95 M183.1 20.6 L183.1 23.05 L183.23 23.75 L183.61 24.45 L184.23 25.15 L185.06 25.85 L186.06 26.55 L187.19 27.25 L188.39 27.95 L189.61 28.65 L190.8 29.35 L191.9 30.05 L192.86 30.75 L193.64 31.45 L194.21 32.15 L194.53 32.85 L194.59 33.55 L194.4 34.25 L193.95 34.95 L193.28 35.65 L192.4 36.35 L191.36 37.05 L190.21 37.75 L189 38.45 L187.78 39.15 L186.61 39.85 L185.54 40.55 L184.63 41.25 L183.9 41.95 L183.39 42.65 L183.13 43.35 L183.13 44.05 L183.39 44.75 L183.9 45.45 L184.63 46.15 L185.54 46.85 L186.61 47.55 L187.78 48.25 L189 48.95 L190.21 49.65 L191.36 50.35 L192.4 51.05 L193.28 51.75 L193.95 52.45 L194.4 53.15 L194.59 53.85 L194.53 54.55 L194.21 55.25 L193.64 55.95 L192.86 56.65 L191.9 57.35 L190.8 58.05 L189.61 58.75 L188.39 59.45 L187.19 60.15 L186.06 60.85 L185.06 61.55 L184.23 62.25 L183.61 62.95 L183.23 63.65 L183.1 64.35 L183.23 65.05 L183.61 65.75 L184.23 66.45 L185.06 67.15 L186.06 67.85 L187.19 68.55 L188.39 69.25 L189.61 69.95 L190.8 70.65 L191.9 71.35 L192.86 72.05 L193.64 72.75 L194.21 73.45 L194.53 74.15 L194.59 74.85 L194.4 75.55 L193.95 76.25 L193.28 76.95 L192.4 77.65 L191.36 78.35 L190.21 79.05 L189 79.75 L187.78 80.45 L186.61 81.15 L185.54 81.85 L184.63 82.55 L183.9 83.25 L183.39 83.95 L183.13 84.65 L183.13 85.35 L183.39 86.05 L183.9 86.75 L184.63 87.45 L185.54 88.15 L186.61 88.85 L187.78 89.55 L189 90.25 L190.21 90.95 L191.36 91.65 L192.4 92.35 L193.28 93.05 L193.95 93.75 L194.4 94.45 L194.59 95.15 L194.53 95.85 L194.21 96.55 L193.64 97.25 L192.86 97.95 L191.9 98.65 L190.8 99.35 L189.61 100.05 L188.39 100.75 L187.19 101.45 L186.06 102.15 L185.06 102.85 L184.23 103.55 L183.61 104.25 L183.23 104.95 L183.1 105.65 L183.23 106.35 L183.61 107.05 L184.23 107.75 L185.06 108.45 L186.06 109.15 L187.19 109.85 L188.39 110.55 L189.61 111.25 L190.8 111.95 L191.9 112.65 L192.86 113.35 L193.64 114.05 L194.21 114.75 L194.53 115.45 L194.59 116.15 L194.4 116.85 L193.95 117.55 L193.28 118.25 L192.4 118.95 L191.36 119.65 L190.21 120.35 L189 121.05 L187.78 121.75 L186.61 122.45 L185.54 123.15 L184.63 123.85 L183.9 124.55 L183.39 125.25 L183.13 125.95 L183.13 126.65 L183.39 127.35 L183.9 128.05 L184.63 128.75 L185.54 129.45 L186.61 130.15 L187.78 130.85 L189 131.55 L190.21 132.25 L191.36 132.95 L192.4 133.65 L193.28 134.35 L193.95 135.05 L194.4 135.75 L194.59 136.45 L194.53 137.15 L194.21 137.85 L193.64 138.55 L192.86 139.25 L191.9 139.95 L190.8 140.65 L189.61 141.35 L188.39 142.05 L187.19 142.75 L186.06 143.45 L185.06 144.15 L184.23 144.85 L183.61 145.55 L183.23 146.25 L183.1 146.95 M200.65 20.6 L200.65 23.05 L200.78 23.75 L201.16 24.45 L201.78 25.15 L202.61 25.85 L203.61 26.55 L204.74 27.25 L205.94 27.95 L207.16 28.65 L208.35 29.35 L209.45 30.05 L210.41 30.75 L211.19 31.45 L211.76 32.15 L212.08 32.85 L212.14 33.55 L211.95 34.25 L211.5 34.95 L210.83 35.65 L209.95 36.35 L208.91 37.05 L207.76 37.75 L206.55 38.45 L205.33 39.15 L204.16 39.85 L203.09 40.55 L202.18 41.25 L201.45 41.95 L200.94 42.65 L200.68 43.35 L200.68 44.05 L200.94 44.75 L201.45 45.45 L202.18 46.15 L203.09 46.85 L204.16 47.55 L205.33 48.25 L206.55 48.95 L207.76 49.65 L208.91 50.35 L209.95 51.05 L210.83 51.75 L211.5 52.45 L211.95 53.15 L212.14 53.85 L212.08 54.55 L211.76 55.25 L211.19 55.95 L210.41 56.65 L209.45 57.35 L208.35 58.05 L207.16 58.75 L205.94 59.45 L204.74 60.15 L203.61 60.85 L202.61 61.55 L201.78 62.25 L201.16 62.95 L200.78 63.65 L200.65 64.35 L200.78 65.05 L201.16 65.75 L201.78 66.45 L202.61 67.15 L203.61 67.85 L204.74 68.55 L205.94 69.25 L207.16 69.95 L208.35 70.65 L209.45 71.35 L210.41 72.05 L211.19 72.75 L211.76 73.45 L212.08 74.15 L212.14 74.85 L211.95 75.55 L211.5 76.25 L210.83 76.95 L209.95 77.65 L208.91 78.35 L207.76 79.05 L206.55 79.75 L205.33 80.45 L204.16 81.15 L203.09 81.85 L202.18 82.55 L201.45 83.25 L200.94 83.95 L200.68 84.65 L200.68 85.35 L200.94 86.05 L201.45 86.75 L202.18 87.45 L203.09 88.15 L204.16 88.85 L205.33 89.55 L206.55 90.25 L207.76 90.95 L208.91 91.65 L209.95 92.35 L210.83 93.05 L211.5 93.75 L211.95 94.45 L212.14 95.15 L212.08 95.85 L211.76 96.55 L211.19 97.25 L210.41 97.95 L209.45 98.65 L208.35 99.35 L207.16 100.05 L205.94 100.75 L204.74 101.45 L203.61 102.15 L202.61 102.85 L201.78 103.55 L201.16 104.25 L200.78 104.95 L200.65 105.65 L200.78 106.35 L201.16 107.05 L201.78 107.75 L202.61 108.45 L203.61 109.15 L204.74 109.85 L205.94 110.55 L207.16 111.25 L208.35 111.95 L209.45 112.65 L210.41 113.35 L211.19 114.05 L211.76 114.75 L212.08 115.45 L212.14 116.15 L211.95 116.85 L211.5 117.55 L210.83 118.25 L209.95 118.95 L208.91 119.65 L207.76 120.35 L206.55 121.05 L205.33 121.75 L204.16 122.45 L203.09 123.15 L202.18 123.85 L201.45 124.55 L200.94 125.25 L200.68 125.95 L200.68 126.65 L200.94 127.35 L201.45 128.05 L202.18 128.75 L203.09 129.45 L204.16 130.15 L205.33 130.85 L206.55 131.55 L207.76 132.25 L208.91 132.95 L209.95 133.65 L210.83 134.35 L211.5 135.05 L211.95 135.75 L212.14 136.45 L212.08 137.15 L211.76 137.85 L211.19 138.55 L210.41 139.25 L209.45 139.95 L208.35 140.65 L207.16 141.35 L205.94 142.05 L204.74 142.75 L203.61 143.45 L202.61 144.15 L201.78 144.85 L201.16 145.55 L200.78 146.25 L200.65 146.95 M218.2 20.6 L218.2 23.05 L218.33 23.75 L218.71 24.45 L219.33 25.15 L220.16 25.85 L221.16 26.55 L222.29 27.25 L223.49 27.95 L224.71 28.65 L225.9 29.35 L227 30.05 L227.96 30.75 L228.74 31.45 L229.31 32.15 L229.63 32.85 L229.69 33.55 L229.5 34.25 L229.05 34.95 L228.38 35.65 L227.5 36.35 L226.46 37.05 L225.31 37.75 L224.1 38.45 L222.88 39.15 L221.71 39.85 L220.64 40.55 L219.73 41.25 L219 41.95 L218.49 42.65 L218.23 43.35 L218.23 44.05 L218.49 44.75 L219 45.45 L219.73 46.15 L220.64 46.85 L221.71 47.55 L222.88 48.25 L224.1 48.95 L225.31 49.65 L226.46 50.35 L227.5 51.05 L228.38 51.75 L229.05 52.45 L229.5 53.15 L229.69 53.85 L229.63 54.55 L229.31 55.25 L228.74 55.95 L227.96 56.65 L227 57.35 L225.9 58.05 L224.71 58.75 L223.49 59.45 L222.29 60.15 L221.16 60.85 L220.16 61.55 L219.33 62.25 L218.71 62.95 L218.33 63.65 L218.2 64.35 L218.33 65.05 L218.71 65.75 L219.33 66.45 L220.16 67.15 L221.16 67.85 L222.29 68.55 L223.49 69.25 L224.71 69.95 L225.9 70.65 L227 71.35 L227.96 72.05 L228.74 72.75 L229.31 73.45 L229.63 74.15 L229.69 74.85 L229.5 75.55 L229.05 76.25 L228.38 76.95 L227.5 77.65 L226.46 78.35 L225.31 79.05 L224.1 79.75 L222.88 80.45 L221.71 81.15 L220.64 81.85 L219.73 82.55 L219 83.25 L218.49 83.95 L218.23 84.65 L218.23 85.35 L218.49 86.05 L219 86.75 L219.73 87.45 L220.64 88.15 L221.71 88.85 L222.88 89.55 L224.1 90.25 L225.31 90.95 L226.46 91.65 L227.5 92.35 L228.38 93.05 L229.05 93.75 L229.5 94.45 L229.69 95.15 L229.63 95.85 L229.31 96.55 L228.74 97.25 L227.96 97.95 L227 98.65 L225.9 99.35 L224.71 100.05 L223.49 100.75 L222.29 101.45 L221.16 102.15 L220.16 102.85 L219.33 103.55 L218.71 104.25 L218.33 104.95 L218.2 105.65 L218.33 106.35 L218.71 107.05 L219.33 107.75 L220.16 108.45 L221.16 109.15 L222.29 109.85 L223.49 110.55 L224.71 111.25 L225.9 111.95 L227 112.65 L227.96 113.35 L228.74 114.05 L229.31 114.75 L229.63 115.45 L229.69 116.15 L229.5 116.85 L229.05 117.55 L228.38 118.25 L227.5 118.95 L226.46 119.65 L225.31 120.35 L224.1 121.05 L222.88 121.75 L221.71 122.45 L220.64 123.15 L219.73 123.85 L219 124.55 L218.49 125.25 L218.23 125.95 L218.23 126.65 L218.49 127.35 L219 128.05 L219.73 128.75 L220.64 129.45 L221.71 130.15 L222.88 130.85 L224.1 131.55 L225.31 132.25 L226.46 132.95 L227.5 133.65 L228.38 134.35 L229.05 135.05 L229.5 135.75 L229.69 136.45 L229.63 137.15 L229.31 137.85 L228.74 138.55 L227.96 139.25 L227 139.95 L225.9 140.65 L224.71 141.35 L223.49 142.05 L222.29 142.75 L221.16 143.45 L220.16 144.15 L219.33 144.85 L218.71 145.55 L218.33 146.25 L218.2 146.95 M235.75 20.6 L235.75 23.05 L235.88 23.75 L236.26 24.45 L236.88 25.15 L237.71 25.85 L238.71 26.55 L239.84 27.25 L241.04 27.95 L242.26 28.65 L243.45 29.35 L244.55 30.05 L245.51 30.75 L246.29 31.45 L246.86 32.15 L247.18 32.85 L247.24 33.55 L247.05 34.25 L246.6 34.95 L245.93 35.65 L245.05 36.35 L244.01 37.05 L242.86 37.75 L241.65 38.45 L240.43 39.15 L239.26 39.85 L238.19 40.55 L237.28 41.25 L236.55 41.95 L236.04 42.65 L235.78 43.35 L235.78 44.05 L236.04 44.75 L236.55 45.45 L237.28 46.15 L238.19 46.85 L239.26 47.55 L240.43 48.25 L241.65 48.95 L242.86 49.65 L244.01 50.35 L245.05 51.05 L245.93 51.75 L246.6 52.45 L247.05 53.15 L247.24 53.85 L247.18 54.55 L246.86 55.25 L246.29 55.95 L245.51 56.65 L244.55 57.35 L243.45 58.05 L242.26 58.75 L241.04 59.45 L239.84 60.15 L238.71 60.85 L237.71 61.55 L236.88 62.25 L236.26 62.95 L235.88 63.65 L235.75 64.35 L235.88 65.05 L236.26 65.75 L236.88 66.45 L237.71 67.15 L238.71 67.85 L239.84 68.55 L241.04 69.25 L242.26 69.95 L243.45 70.65 L244.55 71.35 L245.51 72.05 L246.29 72.75 L246.86 73.45 L247.18 74.15 L247.24 74.85 L247.05 75.55 L246.6 76.25 L245.93 76.95 L245.05 77.65 L244.01 78.35 L242.86 79.05 L241.65 79.75 L240.43 80.45 L239.26 81.15 L238.19 81.85 L237.28 82.55 L236.55 83.25 L236.04 83.95 L235.78 84.65 L235.78 85.35 L236.04 86.05 L236.55 86.75 L237.28 87.45 L238.19 88.15 L239.26 88.85 L240.43 89.55 L241.65 90.25 L242.86 90.95 L244.01 91.65 L245.05 92.35 L245.93 93.05 L246.6 93.75 L247.05 94.45 L247.24 95.15 L247.18 95.85 L246.86 96.55 L246.29 97.25 L245.51 97.95 L244.55 98.65 L243.45 99.35 L242.26 100.05 L241.04 100.75 L239.84 101.45 L238.71 102.15 L237.71 102.85 L236.88 103.55 L236.26 104.25 L235.88 104.95 L235.75 105.65 L235.88 106.35 L236.26 107.05 L236.88 107.75 L237.71 108.45 L238.71 109.15 L239.84 109.85 L241.04 110.55 L242.26 111.25 L243.45 111.95 L244.55 112.65 L245.51 113.35 L246.29 114.05 L246.86 114.75 L247.18 115.45 L247.24 116.15 L247.05 116.85 L246.6 117.55 L245.93 118.25 L245.05 118.95 L244.01 119.65 L242.86 120.35 L241.65 121.05 L240.43 121.75 L239.26 122.45 L238.19 123.15 L237.28 123.85 L236.55 124.55 L236.04 125.25 L235.78 125.95 L235.78 126.65 L236.04 127.35 L236.55 128.05 L237.28 128.75 L238.19 129.45 L239.26 130.15 L240.43 130.85 L241.65 131.55 L242.86 132.25 L244.01 132.95 L245.05 133.65 L245.93 134.35 L246.6 135.05 L247.05 135.75 L247.24 136.45 L247.18 137.15 L246.86 137.85 L246.29 138.55 L245.51 139.25 L244.55 139.95 L243.45 140.65 L242.26 141.35 L241.04 142.05 L239.84 142.75 L238.71 143.45 L237.71 144.15 L236.88 144.85 L236.26 145.55 L235.88 146.25 L235.75 146.95" fill="none" stroke="#4a4a4a" stroke-width="0.95"/>
<path d="M23.55 43.7 H43.9 M58.65 43.7 H79 M93.75 43.7 H114.1 M128.85 43.7 H149.2 M163.95 43.7 H184.3 M199.05 43.7 H219.4 M6 64.35 H26.35 M41.1 64.35 H61.45 M76.2 64.35 H96.55 M111.3 64.35 H131.65 M146.4 64.35 H166.75 M181.5 64.35 H201.85 M216.6 64.35 H236.95 M23.55 85 H43.9 M58.65 85 H79 M93.75 85 H114.1 M128.85 85 H149.2 M163.95 85 H184.3 M199.05 85 H219.4 M6 105.65 H26.35 M41.1 105.65 H61.45 M76.2 105.65 H96.55 M111.3 105.65 H131.65 M146.4 105.65 H166.75 M181.5 105.65 H201.85 M216.6 105.65 H236.95 M23.55 126.3 H43.9 M58.65 126.3 H79 M93.75 126.3 H114.1 M128.85 126.3 H149.2 M163.95 126.3 H184.3 M199.05 126.3 H219.4" stroke="#d57ddf" stroke-width="1.3" stroke-dasharray="3.2 1.6" fill="none"/>
<rect x="78.6" y="25.9" width="105.4" height="21.4" fill="#fff" stroke="#111" stroke-width="1.4"/>
<text x="91" y="40.4" font-size="10.3" font-weight="bold">2D stent design</text>
<rect x="131" y="58.2" width="74.5" height="20.3" fill="#cfcfcf"/>
<text x="135" y="71.8" font-size="10.1" fill="#c0392b">PCL connector</text>
<rect x="33" y="94.8" width="72" height="20.5" fill="#cfcfcf"/>
<text x="36.6" y="108.7" font-size="10.1">PLA curve ring</text>
<line x1="61.8" y1="94.5" x2="55.61" y2="79.97" stroke="#000" stroke-width="1.5"/>
<path d="M53.5 75 L60.06 81.99 L55.97 80.8 L53.99 84.57 Z" fill="#000"/>
<line x1="184.7" y1="85.1" x2="191.27" y2="100.44" stroke="#c0392b" stroke-width="1.5"/>
<path d="M193.4 105.4 L186.82 98.43 L190.92 99.61 L192.89 95.83 Z" fill="#c0392b"/>
<line x1="128" y1="147.2" x2="13.4" y2="147.2" stroke="#000" stroke-width="1.6"/>
<path d="M6.2 147.2 L18.2 143.5 L14.6 147.2 L18.2 150.9 Z" fill="#000"/>
<line x1="128" y1="147.2" x2="241.3" y2="147.2" stroke="#000" stroke-width="1.6"/>
<path d="M248.5 147.2 L236.5 150.9 L240.1 147.2 L236.5 143.5 Z" fill="#000"/>
<line x1="248.6" y1="85" x2="248.6" y2="31.2" stroke="#000" stroke-width="1.6"/>
<path d="M248.6 24 L252.3 36 L248.6 32.4 L244.9 36 Z" fill="#000"/>
<line x1="248.6" y1="85" x2="248.6" y2="138.3" stroke="#000" stroke-width="1.6"/>
<path d="M248.6 145.5 L244.9 133.5 L248.6 137.1 L252.3 133.5 Z" fill="#000"/>
<text x="115.4" y="138.7" font-size="10">2 mm</text>
<text x="239.6" y="86.8" font-size="10" text-anchor="middle" transform="rotate(-90 239.6 86.8)">10 mm</text>
<text x="279" y="10.5" font-size="14" font-weight="bold" fill="#000">b</text>
<rect x="266.8" y="15.8" width="230.8" height="138" fill="url(#gb)"/>
<rect x="279" y="68" width="209" height="37" fill="#ffffff" opacity="0.06"/>
<g filter="url(#bl1)" opacity="0.5">
<rect x="279" y="67" width="209" height="4" fill="#ffffff"/>
<rect x="277" y="93" width="211" height="11" fill="#ffffff" opacity="0.6"/>
</g>
<path d="M287.1 69 C282.1 71 278.1 75 279.1 78.5 C280.1 82 293.1 83 293.1 88 C293.1 93 285.1 95 281.1 97 C278.1 98.5 278.1 100 281.1 103 M288.7 69 C283.7 71 279.7 75 280.7 78.5 C281.7 82 294.7 83 294.7 88 C294.7 93 286.7 95 282.7 97 C279.7 98.5 279.7 100 282.7 103 M290.3 69 C285.3 71 281.3 75 282.3 78.5 C283.3 82 296.3 83 296.3 88 C296.3 93 288.3 95 284.3 97 C281.3 98.5 281.3 100 284.3 103 M291.9 69 C286.9 71 282.9 75 283.9 78.5 C284.9 82 297.9 83 297.9 88 C297.9 93 289.9 95 285.9 97 C282.9 98.5 282.9 100 285.9 103 M283 67.5 V62.5 M301.7 69 C296.7 71 292.7 75 293.7 78.5 C294.7 82 307.7 83 307.7 88 C307.7 93 299.7 95 295.7 97 C292.7 98.5 292.7 100 295.7 103 M303.3 69 C298.3 71 294.3 75 295.3 78.5 C296.3 82 309.3 83 309.3 88 C309.3 93 301.3 95 297.3 97 C294.3 98.5 294.3 100 297.3 103 M304.9 69 C299.9 71 295.9 75 296.9 78.5 C297.9 82 310.9 83 310.9 88 C310.9 93 302.9 95 298.9 97 C295.9 98.5 295.9 100 298.9 103 M306.5 69 C301.5 71 297.5 75 298.5 78.5 C299.5 82 312.5 83 312.5 88 C312.5 93 304.5 95 300.5 97 C297.5 98.5 297.5 100 300.5 103 M297.6 67.5 V62.5 M316.3 69 C311.3 71 307.3 75 308.3 78.5 C309.3 82 322.3 83 322.3 88 C322.3 93 314.3 95 310.3 97 C307.3 98.5 307.3 100 310.3 103 M317.9 69 C312.9 71 308.9 75 309.9 78.5 C310.9 82 323.9 83 323.9 88 C323.9 93 315.9 95 311.9 97 C308.9 98.5 308.9 100 311.9 103 M319.5 69 C314.5 71 310.5 75 311.5 78.5 C312.5 82 325.5 83 325.5 88 C325.5 93 317.5 95 313.5 97 C310.5 98.5 310.5 100 313.5 103 M321.1 69 C316.1 71 312.1 75 313.1 78.5 C314.1 82 327.1 83 327.1 88 C327.1 93 319.1 95 315.1 97 C312.1 98.5 312.1 100 315.1 103 M312.2 67.5 V62.5 M330.9 69 C325.9 71 321.9 75 322.9 78.5 C323.9 82 336.9 83 336.9 88 C336.9 93 328.9 95 324.9 97 C321.9 98.5 321.9 100 324.9 103 M332.5 69 C327.5 71 323.5 75 324.5 78.5 C325.5 82 338.5 83 338.5 88 C338.5 93 330.5 95 326.5 97 C323.5 98.5 323.5 100 326.5 103 M334.1 69 C329.1 71 325.1 75 326.1 78.5 C327.1 82 340.1 83 340.1 88 C340.1 93 332.1 95 328.1 97 C325.1 98.5 325.1 100 328.1 103 M335.7 69 C330.7 71 326.7 75 327.7 78.5 C328.7 82 341.7 83 341.7 88 C341.7 93 333.7 95 329.7 97 C326.7 98.5 326.7 100 329.7 103 M326.8 67.5 V62.5 M345.5 69 C340.5 71 336.5 75 337.5 78.5 C338.5 82 351.5 83 351.5 88 C351.5 93 343.5 95 339.5 97 C336.5 98.5 336.5 100 339.5 103 M347.1 69 C342.1 71 338.1 75 339.1 78.5 C340.1 82 353.1 83 353.1 88 C353.1 93 345.1 95 341.1 97 C338.1 98.5 338.1 100 341.1 103 M348.7 69 C343.7 71 339.7 75 340.7 78.5 C341.7 82 354.7 83 354.7 88 C354.7 93 346.7 95 342.7 97 C339.7 98.5 339.7 100 342.7 103 M350.3 69 C345.3 71 341.3 75 342.3 78.5 C343.3 82 356.3 83 356.3 88 C356.3 93 348.3 95 344.3 97 C341.3 98.5 341.3 100 344.3 103 M341.4 67.5 V62.5 M360.1 69 C355.1 71 351.1 75 352.1 78.5 C353.1 82 366.1 83 366.1 88 C366.1 93 358.1 95 354.1 97 C351.1 98.5 351.1 100 354.1 103 M361.7 69 C356.7 71 352.7 75 353.7 78.5 C354.7 82 367.7 83 367.7 88 C367.7 93 359.7 95 355.7 97 C352.7 98.5 352.7 100 355.7 103 M363.3 69 C358.3 71 354.3 75 355.3 78.5 C356.3 82 369.3 83 369.3 88 C369.3 93 361.3 95 357.3 97 C354.3 98.5 354.3 100 357.3 103 M364.9 69 C359.9 71 355.9 75 356.9 78.5 C357.9 82 370.9 83 370.9 88 C370.9 93 362.9 95 358.9 97 C355.9 98.5 355.9 100 358.9 103 M356 67.5 V62.5 M374.7 69 C369.7 71 365.7 75 366.7 78.5 C367.7 82 380.7 83 380.7 88 C380.7 93 372.7 95 368.7 97 C365.7 98.5 365.7 100 368.7 103 M376.3 69 C371.3 71 367.3 75 368.3 78.5 C369.3 82 382.3 83 382.3 88 C382.3 93 374.3 95 370.3 97 C367.3 98.5 367.3 100 370.3 103 M377.9 69 C372.9 71 368.9 75 369.9 78.5 C370.9 82 383.9 83 383.9 88 C383.9 93 375.9 95 371.9 97 C368.9 98.5 368.9 100 371.9 103 M379.5 69 C374.5 71 370.5 75 371.5 78.5 C372.5 82 385.5 83 385.5 88 C385.5 93 377.5 95 373.5 97 C370.5 98.5 370.5 100 373.5 103 M370.6 67.5 V62.5 M389.3 69 C384.3 71 380.3 75 381.3 78.5 C382.3 82 395.3 83 395.3 88 C395.3 93 387.3 95 383.3 97 C380.3 98.5 380.3 100 383.3 103 M390.9 69 C385.9 71 381.9 75 382.9 78.5 C383.9 82 396.9 83 396.9 88 C396.9 93 388.9 95 384.9 97 C381.9 98.5 381.9 100 384.9 103 M392.5 69 C387.5 71 383.5 75 384.5 78.5 C385.5 82 398.5 83 398.5 88 C398.5 93 390.5 95 386.5 97 C383.5 98.5 383.5 100 386.5 103 M394.1 69 C389.1 71 385.1 75 386.1 78.5 C387.1 82 400.1 83 400.1 88 C400.1 93 392.1 95 388.1 97 C385.1 98.5 385.1 100 388.1 103 M385.2 67.5 V62.5 M403.9 69 C398.9 71 394.9 75 395.9 78.5 C396.9 82 409.9 83 409.9 88 C409.9 93 401.9 95 397.9 97 C394.9 98.5 394.9 100 397.9 103 M405.5 69 C400.5 71 396.5 75 397.5 78.5 C398.5 82 411.5 83 411.5 88 C411.5 93 403.5 95 399.5 97 C396.5 98.5 396.5 100 399.5 103 M407.1 69 C402.1 71 398.1 75 399.1 78.5 C400.1 82 413.1 83 413.1 88 C413.1 93 405.1 95 401.1 97 C398.1 98.5 398.1 100 401.1 103 M408.7 69 C403.7 71 399.7 75 400.7 78.5 C401.7 82 414.7 83 414.7 88 C414.7 93 406.7 95 402.7 97 C399.7 98.5 399.7 100 402.7 103 M399.8 67.5 V62.5 M418.5 69 C413.5 71 409.5 75 410.5 78.5 C411.5 82 424.5 83 424.5 88 C424.5 93 416.5 95 412.5 97 C409.5 98.5 409.5 100 412.5 103 M420.1 69 C415.1 71 411.1 75 412.1 78.5 C413.1 82 426.1 83 426.1 88 C426.1 93 418.1 95 414.1 97 C411.1 98.5 411.1 100 414.1 103 M421.7 69 C416.7 71 412.7 75 413.7 78.5 C414.7 82 427.7 83 427.7 88 C427.7 93 419.7 95 415.7 97 C412.7 98.5 412.7 100 415.7 103 M423.3 69 C418.3 71 414.3 75 415.3 78.5 C416.3 82 429.3 83 429.3 88 C429.3 93 421.3 95 417.3 97 C414.3 98.5 414.3 100 417.3 103 M414.4 67.5 V62.5 M433.1 69 C428.1 71 424.1 75 425.1 78.5 C426.1 82 439.1 83 439.1 88 C439.1 93 431.1 95 427.1 97 C424.1 98.5 424.1 100 427.1 103 M434.7 69 C429.7 71 425.7 75 426.7 78.5 C427.7 82 440.7 83 440.7 88 C440.7 93 432.7 95 428.7 97 C425.7 98.5 425.7 100 428.7 103 M436.3 69 C431.3 71 427.3 75 428.3 78.5 C429.3 82 442.3 83 442.3 88 C442.3 93 434.3 95 430.3 97 C427.3 98.5 427.3 100 430.3 103 M437.9 69 C432.9 71 428.9 75 429.9 78.5 C430.9 82 443.9 83 443.9 88 C443.9 93 435.9 95 431.9 97 C428.9 98.5 428.9 100 431.9 103 M429 67.5 V62.5 M447.7 69 C442.7 71 438.7 75 439.7 78.5 C440.7 82 453.7 83 453.7 88 C453.7 93 445.7 95 441.7 97 C438.7 98.5 438.7 100 441.7 103 M449.3 69 C444.3 71 440.3 75 441.3 78.5 C442.3 82 455.3 83 455.3 88 C455.3 93 447.3 95 443.3 97 C440.3 98.5 440.3 100 443.3 103 M450.9 69 C445.9 71 441.9 75 442.9 78.5 C443.9 82 456.9 83 456.9 88 C456.9 93 448.9 95 444.9 97 C441.9 98.5 441.9 100 444.9 103 M452.5 69 C447.5 71 443.5 75 444.5 78.5 C445.5 82 458.5 83 458.5 88 C458.5 93 450.5 95 446.5 97 C443.5 98.5 443.5 100 446.5 103 M443.6 67.5 V62.5 M462.3 69 C457.3 71 453.3 75 454.3 78.5 C455.3 82 468.3 83 468.3 88 C468.3 93 460.3 95 456.3 97 C453.3 98.5 453.3 100 456.3 103 M463.9 69 C458.9 71 454.9 75 455.9 78.5 C456.9 82 469.9 83 469.9 88 C469.9 93 461.9 95 457.9 97 C454.9 98.5 454.9 100 457.9 103 M465.5 69 C460.5 71 456.5 75 457.5 78.5 C458.5 82 471.5 83 471.5 88 C471.5 93 463.5 95 459.5 97 C456.5 98.5 456.5 100 459.5 103 M467.1 69 C462.1 71 458.1 75 459.1 78.5 C460.1 82 473.1 83 473.1 88 C473.1 93 465.1 95 461.1 97 C458.1 98.5 458.1 100 461.1 103 M458.2 67.5 V62.5 M476.9 69 C471.9 71 467.9 75 468.9 78.5 C469.9 82 482.9 83 482.9 88 C482.9 93 474.9 95 470.9 97 C467.9 98.5 467.9 100 470.9 103 M478.5 69 C473.5 71 469.5 75 470.5 78.5 C471.5 82 484.5 83 484.5 88 C484.5 93 476.5 95 472.5 97 C469.5 98.5 469.5 100 472.5 103 M480.1 69 C475.1 71 471.1 75 472.1 78.5 C473.1 82 486.1 83 486.1 88 C486.1 93 478.1 95 474.1 97 C471.1 98.5 471.1 100 474.1 103 M481.7 69 C476.7 71 472.7 75 473.7 78.5 C474.7 82 487.7 83 487.7 88 C487.7 93 479.7 95 475.7 97 C472.7 98.5 472.7 100 475.7 103 M472.8 67.5 V62.5" fill="none" stroke="#f2f3f8" stroke-width="0.9" opacity="0.95"/>
<path d="M285.5 78 L294.5 82 M278.5 95.5 L286.5 96.5 M300.1 78 L309.1 82 M293.1 95.5 L301.1 96.5 M314.7 78 L323.7 82 M307.7 95.5 L315.7 96.5 M329.3 78 L338.3 82 M322.3 95.5 L330.3 96.5 M343.9 78 L352.9 82 M336.9 95.5 L344.9 96.5 M358.5 78 L367.5 82 M351.5 95.5 L359.5 96.5 M373.1 78 L382.1 82 M366.1 95.5 L374.1 96.5 M387.7 78 L396.7 82 M380.7 95.5 L388.7 96.5 M402.3 78 L411.3 82 M395.3 95.5 L403.3 96.5 M416.9 78 L425.9 82 M409.9 95.5 L417.9 96.5 M431.5 78 L440.5 82 M424.5 95.5 L432.5 96.5 M446.1 78 L455.1 82 M439.1 95.5 L447.1 96.5 M460.7 78 L469.7 82 M453.7 95.5 L461.7 96.5 M475.3 78 L484.3 82 M468.3 95.5 L476.3 96.5" fill="none" stroke="#f6f7fb" stroke-width="2.2" opacity="0.6" filter="url(#bl05)"/>
<g fill="none" stroke="#eef0f6" stroke-width="1" opacity="0.85"><ellipse cx="284.5" cy="99.5" rx="5.5" ry="2.6"/><ellipse cx="299.1" cy="99.5" rx="5.5" ry="2.6"/><ellipse cx="313.7" cy="99.5" rx="5.5" ry="2.6"/><ellipse cx="328.3" cy="99.5" rx="5.5" ry="2.6"/><ellipse cx="342.9" cy="99.5" rx="5.5" ry="2.6"/><ellipse cx="357.5" cy="99.5" rx="5.5" ry="2.6"/><ellipse cx="372.1" cy="99.5" rx="5.5" ry="2.6"/><ellipse cx="386.7" cy="99.5" rx="5.5" ry="2.6"/><ellipse cx="401.3" cy="99.5" rx="5.5" ry="2.6"/><ellipse cx="415.9" cy="99.5" rx="5.5" ry="2.6"/><ellipse cx="430.5" cy="99.5" rx="5.5" ry="2.6"/><ellipse cx="445.1" cy="99.5" rx="5.5" ry="2.6"/><ellipse cx="459.7" cy="99.5" rx="5.5" ry="2.6"/><ellipse cx="474.3" cy="99.5" rx="5.5" ry="2.6"/></g>
<line x1="281" y1="68.3" x2="488" y2="68.3" stroke="#eef0f6" stroke-width="2.0"/>
<line x1="277.5" y1="104" x2="488" y2="104" stroke="#eef0f6" stroke-width="2.2"/>
<rect x="382.8" y="29" width="83" height="21.8" fill="#d6d6d6"/>
<text x="390.8" y="43.8" font-size="10.1">PCL connector</text>
<line x1="425" y1="50.8" x2="425" y2="69.6" stroke="#000" stroke-width="1.4"/>
<path d="M425 73.8 L422.2 66.8 L425 68.9 L427.8 66.8 Z" fill="#000"/>
<rect x="290.2" y="110.1" width="83.6" height="21.5" fill="#d6d6d6"/>
<text x="301.5" y="124.2" font-size="10.1">PLA curve ring</text>
<line x1="332" y1="110.1" x2="332" y2="88.6" stroke="#000" stroke-width="1.4"/>
<path d="M332 84.4 L334.8 91.4 L332 89.3 L329.2 91.4 Z" fill="#000"/>
<text x="450.6" y="133.7" font-size="10">3 mm</text>
<line x1="442.6" y1="141" x2="480.6" y2="141" stroke="#000" stroke-width="2.0"/>
<text x="503.3" y="10.3" font-size="14" font-weight="bold" fill="#000">c</text>
<polyline points="549.6,126.26 550,125.02 550.39,125.73 550.79,124.78 551.19,124.69 551.58,126.96 551.98,127.17 552.38,123.83 552.77,126.17 553.17,126.28 553.56,123.19 553.96,125.32 554.36,123.83 554.75,125.29 555.15,124.63 555.55,126.62 555.94,124.65 556.34,123.7 556.73,125.1 557.13,124.22 557.53,124.5 557.92,126.92 558.32,124.06 558.72,124.69 559.11,125.82 559.51,126.88 559.9,123.44 560.3,124.99 560.7,123.95 561.09,123.25 561.49,123.88 561.89,122.99 562.28,125.08 562.68,123.39 563.07,124.79 563.47,122.75 563.87,122.94 564.26,126.07 564.66,125.86 565.06,125.49 565.45,122.41 565.85,124.48 566.24,123.62 566.64,124.87 567.04,123.95 567.43,124.36 567.83,124.43 568.23,123.4 568.62,123.32 569.02,121.94 569.41,122.77 569.81,121.69 570.21,121.9 570.6,121.28 571,122.5 571.4,124.48 571.79,121.57 572.19,121.07 572.58,121.23 572.98,122.52 573.38,121.85 573.77,123.81 574.17,121.21 574.57,122.18 574.96,123.27 575.36,124.09 575.75,120.81 576.15,120.18 576.55,123.76 576.94,120.79 577.34,122.29 577.74,123.27 578.13,122.61 578.53,120.6 578.92,120.1 579.32,123.38 579.72,120.99 580.11,123.22 580.51,120.41 580.91,121.9 581.3,119.59 581.7,119.1 582.09,120.94 582.49,118.84 582.89,121.55 583.28,122.4 583.68,120.19 584.08,122.41 584.47,121.65 584.87,120.7 585.26,119.79 585.66,121.54 586.06,121.91 586.45,118.47 586.85,120.63 587.25,117.92 587.64,118.08 588.04,120.1 588.43,119.68 588.83,119.34 589.23,118.75 589.62,118.86 590.02,118.91 590.42,118.58 590.81,117.18 591.21,118.85 591.6,119.07 592,117.81 592.4,119.68 592.79,119.33 593.19,116.49 593.59,118.26 593.98,118.06 594.38,120.14 594.77,118.42 595.17,117.66 595.57,119.84 595.96,117.33 596.36,117.17 596.76,119.41 597.15,117.01 597.55,117.63 597.94,116.72 598.34,118 598.74,116.52 599.13,116.36 599.53,119.22 599.93,119.02 600.32,116.48 600.72,115.28 601.11,118.13 601.51,117.25 601.91,116.66 602.3,117.72 602.7,117.5 603.1,117.67 603.49,117.4 603.89,116.44 604.28,117.59 604.68,117.24 605.08,115.59 605.47,118.58 605.87,116.34 606.27,115.62 606.66,117.3 607.06,117.62 607.45,115.22 607.85,117.47 608.25,117.64 608.64,116.59 609.04,115.48 609.44,117.86 609.83,116.92 610.23,116.84 610.62,114.77 611.02,116.34 611.42,114.62 611.81,117.37 612.21,116.65 612.61,115.34 613,114.36 613.4,116.08 613.79,116.97 614.19,117.35 614.59,115.66 614.98,117 615.38,114.47 615.78,114.3 616.17,116.93 616.57,116.51 616.96,114.33 617.36,114.96 617.76,114.26 618.15,116.1 618.55,116.94 618.95,116.24 619.34,114.17 619.74,116.26 620.13,115.92 620.53,115.6 620.93,115.55 621.32,115.56 621.72,113.45 622.12,116.52 622.51,117.1 622.91,113.25 623.3,113.48 623.7,113.01 624.1,115.21 624.49,113.09 624.89,113.14 625.29,115.97 625.68,113.81 626.08,113.41 626.47,114.08 626.87,114.63 627.27,115.53 627.66,115.28 628.06,115.71 628.46,116.32 628.85,114.17 629.25,115.36 629.64,113.2 630.04,116.27 630.44,112.75 630.83,113.57 631.23,112.59 631.63,112.66 632.02,112.6 632.42,113.87 632.81,116.11 633.21,113.1 633.61,115.38 634,114.82 634.4,113.3 634.8,113.82 635.19,114.23 635.59,112.05 635.98,113.34 636.38,114.39 636.78,114.71 637.17,112.19 637.57,113.71 637.97,112.43 638.36,114.13 638.76,114.72 639.15,113.3 639.55,112.11 639.95,114.69 640.34,112.13 640.74,111.56 641.14,111.99 641.53,111.87 641.93,115.14 642.32,112.58 642.72,111.58 643.12,114.84 643.51,113.9 643.91,113.86 644.31,112.77 644.7,113.15 645.1,112.9 645.49,111.63 645.89,114.73 646.29,114.47 646.68,114.14 647.08,114.1 647.48,114.29 647.87,110.56 648.27,111.01 648.66,114.08 649.06,112.35 649.46,113.06 649.85,113.03 650.25,112.83 650.65,111.59 651.04,111.79 651.44,112.66 651.83,113.28 652.23,112.66 652.63,113.43 653.02,111.62 653.42,110.9 653.82,112.2 654.21,113.36 654.61,112.9 655,112.05 655.4,111.04 655.8,110.26 656.19,111.83 656.59,110.06 656.99,110.72 657.38,111.43 657.78,111.61 658.17,111.05 658.57,110.15 658.97,111.23 659.36,110.06 659.76,110.94 660.16,111.76 660.55,110.51 660.95,109.8 661.34,112.27 661.74,110.78 662.14,110.71 662.53,108.8 662.93,108.51 663.33,110.73 663.72,108.54 664.12,108.92 664.51,111 664.91,110.12 665.31,111.44 665.7,108.58 666.1,109.13 666.5,108.15 666.89,108.47 667.29,108.92 667.68,108.59 668.08,109.21 668.48,111.02" fill="none" stroke="#666666" stroke-width="2.0" stroke-linejoin="round"/>
<polyline points="668.48,55.9 668.11,58.37 667.73,59.1 667.36,62 666.99,64.28 666.62,64.36 666.25,62.62 665.88,63.46 665.51,63.96 665.13,66.52 664.76,65.6 664.39,67.02 664.02,67.8 663.65,68.42 663.28,68.34 662.9,65.81 662.53,66.56 662.16,67.01 661.79,67.4 661.42,70.19 661.05,70.01 660.68,69.01 660.3,68.88 659.93,68.68 659.56,68.87 659.19,72.38 658.82,70.56 658.45,70.59 658.08,71.55 657.7,73.18 657.33,72.27 656.96,74.12 656.59,70.99 656.22,71.56 655.85,73.14 655.47,74.44 655.1,72.26 654.73,73.92 654.36,72.95 653.99,73.39 653.62,75.06 653.25,75.73 652.87,75.28 652.5,76.25 652.13,77.64 651.76,77.35 651.39,75.58 651.02,78.95 650.65,79.16 650.27,77.04 649.9,78.67 649.53,77.87 649.16,78.35 648.79,79.1 648.42,76.67 648.05,80.15 647.67,79.5 647.3,80.58 646.93,79.06 646.56,80.74 646.19,80.64 645.82,79.28 645.44,81.24 645.07,80.5 644.7,79.32 644.33,82.81 643.96,83.2 643.59,82.75 643.22,80.8 642.84,81.64 642.47,83.4 642.1,83.25 641.73,84.1 641.36,83.18 640.99,85.1 640.62,82.7 640.24,82.16 639.87,82.18 639.5,83.33 639.13,82.68 638.76,86.76 638.39,85.92 638.02,83.43 637.64,84.47 637.27,86.21 636.9,84.31 636.53,85.88 636.16,85.33 635.79,87.72 635.41,88.4 635.04,87.63 634.67,89.14 634.3,88.41 633.93,86.31 633.56,89.13 633.19,90.7 632.81,90.82 632.44,90.57 632.07,88.34 631.7,90.31 631.33,90.86 630.96,91.9 630.59,88.56 630.21,91.02 629.84,92.09 629.47,92.89 629.1,93.1 628.73,92.83 628.36,90.97 627.99,93.3 627.61,93.94 627.24,92.31 626.87,93.48 626.5,90.64 626.13,94.39 625.76,92.93 625.38,92.13 625.01,93.81 624.64,91.66 624.27,93.92 623.9,95.07 623.53,94.58 623.16,96.3 622.78,94.93 622.41,95.83 622.04,93.42 621.67,93.85 621.3,95.4 620.93,97.49 620.56,96.78 620.18,97.03 619.81,97.38 619.44,97.5 619.07,95.12 618.7,98.29 618.33,98.86 617.96,95.52 617.58,97.2 617.21,95.69 616.84,98.28 616.47,96.47 616.1,97.69 615.73,97.34 615.35,97.74 614.98,98.97 614.61,100.81 614.24,100.54 613.87,98.06 613.5,98.17 613.13,98.28 612.75,100.88 612.38,99.79 612.01,99.42 611.64,100.27 611.27,99.78 610.9,101.16 610.53,100.86 610.15,100.94 609.78,102.85 609.41,100.42 609.04,100.5 608.67,104.31 608.3,100.89 607.93,101.15 607.55,102.56 607.18,105.31 606.81,102.07 606.44,105.42 606.07,102.23 605.7,103.67 605.32,106.36 604.95,106.14 604.58,104.47 604.21,104.96 603.84,104.46 603.47,103.94 603.1,107.04 602.72,108.14 602.35,104.63 601.98,108.54 601.61,105.24 601.24,108.49 600.87,105.83 600.5,106.1 600.12,105.88 599.75,107.37 599.38,106.2 599.01,109.11 598.64,107.37 598.27,108.92 597.9,106.8 597.52,107.44 597.15,108.83 596.78,108.77 596.41,110.96 596.04,111.1 595.67,108.98 595.29,109.58 594.92,108.21 594.55,109.42 594.18,111.48 593.81,110.74 593.44,109.26 593.07,110.41 592.69,112.66 592.32,109.46 591.95,109.66 591.58,112.84 591.21,111.17 590.84,112.04 590.47,110.61 590.09,112.75 589.72,113.28 589.35,112.46 588.98,110.73 588.61,114.47 588.24,114.61 587.87,112.76 587.49,111.9 587.12,113.63 586.75,114.16 586.38,112.65 586.01,113.19 585.64,116.28 585.26,113.19 584.89,116.18 584.52,115.96 584.15,114 583.78,115.89 583.41,114.58 583.04,117.35 582.66,114.69 582.29,117.74 581.92,118.06 581.55,116.87 581.18,117.71 580.81,117.01 580.44,115.66 580.06,116.56 579.69,119.53 579.32,118.4 578.95,117.57 578.58,117.92 578.21,117.1 577.84,118.16 577.46,119.93 577.09,119.35 576.72,117.02 576.35,119.13 575.98,117.58 575.61,116.8 575.23,118.38 574.86,118.29 574.49,118.67 574.12,119.99 573.75,117.67 573.38,119.59 573.01,117.9 572.63,120.48 572.26,118.31 571.89,118.75 571.52,119.57 571.15,120.38 570.78,121.71 570.41,119.27 570.03,121.04 569.66,119.94 569.29,122.2 568.92,122.52 568.55,122.38 568.18,119.8 567.81,122.48 567.43,119.65 567.06,121.91 566.69,121.2 566.32,122.23 565.95,121.25 565.58,123.5 565.2,122.36 564.83,120.31 564.46,123.49 564.09,121.68 563.72,123.12 563.35,123.34 562.98,124.58 562.6,124.71 562.23,121.05 561.86,121.65 561.49,121.88 561.12,121.97 560.75,121.49 560.38,124.82 560,123.19 559.63,123.65 559.26,123.42 558.89,122.04 558.52,122.86 558.15,122.11 557.78,125.66 557.4,123.59 557.03,123.59 556.66,123.4 556.29,124.01 555.92,123.24 555.55,125.49 555.17,123.04 554.8,125.26 554.43,124.57 554.06,123.46 553.69,124.34 553.32,125.97 552.95,126.29 552.57,125.9 552.2,124.68 551.83,123.18 551.46,123.58 551.09,125.6 550.72,125.6 550.35,123.91 549.97,126.08 549.6,125.56" fill="none" stroke="#5a6cff" stroke-width="1.8" stroke-linejoin="round"/>
<polyline points="668.48,51.74 668.11,51.7 667.73,51.87 667.36,51.75 666.99,52.73 666.62,52.49 666.25,55.65 665.88,54.62 665.51,53.45 665.13,54.72 664.76,54.26 664.39,57.09 664.02,56.31 663.65,57.35 663.28,56.75 662.9,57 662.53,59.11 662.16,58.8 661.79,58.95 661.42,57.26 661.05,58.05 660.68,60.27 660.3,58.57 659.93,60.95 659.56,59.75 659.19,61.61 658.82,62.31 658.45,59.88 658.08,62.28 657.7,62.57 657.33,60.45 656.96,61.11 656.59,63.26 656.22,61.45 655.85,63.09 655.47,62.96 655.1,64.76 654.73,62.75 654.36,63.85 653.99,63.28 653.62,63.82 653.25,66.01 652.87,66.12 652.5,67.05 652.13,67.42 651.76,67.98 651.39,67.55 651.02,66.86 650.65,69 650.27,67.11 649.9,68.43 649.53,68.76 649.16,67.4 648.79,68.71 648.42,69.47 648.05,69.19 647.67,68.73 647.3,71.02 646.93,68.37 646.56,71.62 646.19,69.57 645.82,69.51 645.44,72.36 645.07,70.18 644.7,71.75 644.33,71.33 643.96,73.37 643.59,73.49 643.22,73.31 642.84,71.11 642.47,73.75 642.1,72.23 641.73,71.93 641.36,72.13 640.99,74.26 640.62,74.54 640.24,74.31 639.87,73.83 639.5,76.24 639.13,74.53 638.76,74.68 638.39,74.8 638.02,77.7 637.64,75.14 637.27,78.15 636.9,77.67 636.53,77.13 636.16,76.47 635.79,78.6 635.41,77.06 635.04,78.57 634.67,79.61 634.3,79.91 633.93,80.66 633.56,81.28 633.19,81.37 632.81,79.97 632.44,79.31 632.07,82.25 631.7,82.92 631.33,80.27 630.96,82.01 630.59,82.7 630.21,83.46 629.84,82.56 629.47,82.05 629.1,83.45 628.73,83.79 628.36,85.17 627.99,82.68 627.61,85.7 627.24,84.47 626.87,83.61 626.5,86.07 626.13,84.4 625.76,83.94 625.38,85.18 625.01,84.91 624.64,87.29 624.27,86.48 623.9,87.61 623.53,85.64 623.16,87.6 622.78,87.33 622.41,85.83 622.04,86.53 621.67,86.36 621.3,88.24 620.93,88.36 620.56,87.83 620.18,88.86 619.81,89.71 619.44,89.62 619.07,90.69 618.7,90.22 618.33,88.55 617.96,88.9 617.58,90.21 617.21,90.88 616.84,91.65 616.47,92.69 616.1,92.38 615.73,91.03 615.35,91.02 614.98,92.87 614.61,91.79 614.24,92.09 613.87,92.6 613.5,92.96 613.13,92.92 612.75,94.43 612.38,93.61 612.01,95.21 611.64,94.82 611.27,94.19 610.9,94.7 610.53,96.21 610.15,94.41 609.78,95.6 609.41,96.06 609.04,98.11 608.67,96.66 608.3,97.85 607.93,96.76 607.55,97.67 607.18,96.8 606.81,97.58 606.44,97.36 606.07,99.02 605.7,98.34 605.32,98.29 604.95,98.25 604.58,100.01 604.21,98.7 603.84,98.86 603.47,99.68 603.1,99.02 602.72,99.33 602.35,100.96 601.98,101.17 601.61,102.56 601.24,100.7 600.87,100.62 600.5,102.32 600.12,101.9 599.75,102.05 599.38,102.27 599.01,104.28 598.64,102.6 598.27,103.48 597.9,103.46 597.52,104.48 597.15,104.09 596.78,103.86 596.41,104.53 596.04,104.5 595.67,106.91 595.29,106.72 594.92,106.06 594.55,105.63 594.18,107.22 593.81,105.97 593.44,106.38 593.07,108.46 592.69,107.33 592.32,108.34 591.95,109.11 591.58,109.08 591.21,108.73 590.84,109.39 590.47,109.58 590.09,110.3 589.72,109.18 589.35,109.67 588.98,109.17 588.61,109.46 588.24,110.8 587.87,108.93 587.49,112.01 587.12,110.96 586.75,111.59 586.38,111.4 586.01,112.55 585.64,110.5 585.26,112.15 584.89,113.43 584.52,111.82 584.15,113.67 583.78,112.46 583.41,113.32 583.04,112.77 582.66,111.79 582.29,112.44 581.92,113.91 581.55,112.88 581.18,113.63 580.81,114.71 580.44,115.63 580.06,114.41 579.69,114.73 579.32,113.7 578.95,113.87 578.58,115.22 578.21,116.24 577.84,114.74 577.46,117.77 577.09,117.65 576.72,116.41 576.35,116.47 575.98,118.18 575.61,116.86 575.23,116.26 574.86,118.11 574.49,118.17 574.12,119.04 573.75,119.06 573.38,117.14 573.01,119.24 572.63,117.63 572.26,118.01 571.89,119.24 571.52,120.53 571.15,118.48 570.78,120.24 570.41,120.72 570.03,121.25 569.66,119.38 569.29,121.16 568.92,122.04 568.55,121.67 568.18,123.01 567.81,121.66 567.43,122.45 567.06,123.16 566.69,121.84 566.32,121.93 565.95,124.72 565.58,123.3 565.2,124.22 564.83,122.24 564.46,122.82 564.09,124.62 563.72,124.66 563.35,125.12 562.98,122.59 562.6,124.89 562.23,124 561.86,124.52 561.49,124.09 561.12,124.32 560.75,123.98 560.38,126.06 560,124.14 559.63,125.69 559.26,125.06 558.89,125.79 558.52,126.01 558.15,125.38 557.78,125.69 557.4,126.11 557.03,124.96 556.66,125.51 556.29,127.32 555.92,126.71 555.55,126.13 555.17,124.74 554.8,124.89 554.43,126.03 554.06,127.77 553.69,125.43 553.32,126.6 552.95,126.19 552.57,125.84 552.2,126.14 551.83,126.68 551.46,125.39 551.09,127.11 550.72,127.15 550.35,125.76 549.97,127.9 549.6,127.64" fill="none" stroke="#ff2d6f" stroke-width="1.8" stroke-linejoin="round"/>
<polyline points="549.6,126.08 549.97,125.62 550.35,126.32 550.72,126.67 551.09,127.13 551.46,124.67 551.83,124.92 552.2,123.64 552.57,124.5 552.95,122.88 553.32,124.09 553.69,122.06 554.06,121.92 554.43,122.55 554.8,121.8 555.17,120.98 555.55,122.16 555.92,120.66 556.29,119.5 556.66,120.84 557.03,118.78 557.4,118.79 557.78,117.92 558.15,119.15 558.52,119.54 558.89,116.93 559.26,116.54 559.63,117.3 560,118.03 560.38,117.33 560.75,115.58 561.12,116.29 561.49,113.83 561.86,114.6 562.23,115.44 562.6,113.63 562.98,114.19 563.35,112.01 563.72,111.71 564.09,112.58 564.46,111.79 564.83,111.25 565.2,110.53 565.58,109.62 565.95,112.24 566.32,110.81 566.69,109.67 567.06,110.24 567.43,108.96 567.81,110.17 568.18,107.29 568.55,108.04 568.92,108.95 569.29,106.85 569.66,107.59 570.03,107.58 570.41,106.29 570.78,107.01 571.15,106.51 571.52,104.19 571.89,104.47 572.26,106.38 572.63,103.71 573.01,105.87 573.38,104.62 573.75,102.56 574.12,103.21 574.49,103.95 574.86,103.48 575.23,103.19 575.61,103.77 575.98,100.76 576.35,103.49 576.72,102.08 577.09,100.81 577.46,101.66 577.84,99.56 578.21,101.64 578.58,99.07 578.95,99.09 579.32,99.54 579.69,98.6 580.06,99.75 580.44,98.28 580.81,98.14 581.18,98.77 581.55,98.67 581.92,97.68 582.29,98.36 582.66,99.13 583.04,96.8 583.41,98.06 583.78,97.11 584.15,95.92 584.52,97.61 584.89,97.83 585.26,97.26 585.64,95.54 586.01,96.01 586.38,96.12 586.75,95.33 587.12,93.66 587.49,95.61 587.87,94.94 588.24,93.29 588.61,93.96 588.98,94.88 589.35,94.05 589.72,93.87 590.09,94.76 590.47,93.84 590.84,93.89 591.21,92.15 591.58,93.49 591.95,92.26 592.32,91.1 592.69,91.08 593.07,92.64 593.44,91.75 593.81,92.47 594.18,92.05 594.55,91.59 594.92,90.46 595.29,89.83 595.67,91.7 596.04,92.42 596.41,90.85 596.78,91.92 597.15,91.83 597.52,89.31 597.9,91.23 598.27,89.14 598.64,90.09 599.01,88.1 599.38,88.19 599.75,90.52 600.12,89.94 600.5,87.38 600.87,88.26 601.24,88.69 601.61,87.38 601.98,86.97 602.35,87.58 602.72,87.25 603.1,88.01 603.47,86.78 603.84,87.07 604.21,85.15 604.58,84.8 604.95,85.86 605.32,83.93 605.7,85.2 606.07,84.77 606.44,82.67 606.81,82.84 607.18,81.06 607.55,81.51 607.93,80.88 608.3,82.29 608.67,79.66 609.04,81.62 609.41,79.53 609.78,78.2 610.15,77.85 610.53,77.67 610.9,78.83 611.27,77.84 611.64,77.31 612.01,79.15 612.38,76.37 612.75,76.25 613.13,77.5 613.5,76.21 613.87,77.03 614.24,77.34 614.61,75.73 614.98,77.56 615.35,75 615.73,74.21 616.1,76.17 616.47,73.88 616.84,76.35 617.21,73.68 617.58,75.28 617.96,72.88 618.33,74.35 618.7,72.57 619.07,75.15 619.44,74.75 619.81,72.22 620.18,72.55 620.56,72.66 620.93,74.03 621.3,73.38 621.67,72.55 622.04,73.34 622.41,70.16 622.78,70.66 623.16,69.87 623.53,70.45 623.9,71.36 624.27,71.99 624.64,69.71 625.01,71.45 625.38,69.87 625.76,69.92 626.13,69.62 626.5,70.73 626.87,70.52 627.24,68.9 627.61,70.24 627.99,68.46 628.36,69.43 628.73,68.81 629.1,69.01 629.47,67.48 629.84,67.84 630.21,68.15 630.59,67.94 630.96,66.64 631.33,65.31 631.7,66.64 632.07,67.22 632.44,66.51 632.81,66.52 633.19,65.24 633.56,64.34 633.93,64.8 634.3,65.77 634.67,65.11 635.04,64.71 635.41,64.29 635.79,64.2 636.16,62.08 636.53,63.26 636.9,62.68 637.27,62.28 637.64,62.28 638.02,61.55 638.39,62.69 638.76,61.53 639.13,60.34 639.5,62.66 639.87,60.98 640.24,61.51 640.62,62.3 640.99,62.14 641.36,59.69 641.73,61.55 642.1,59.49 642.47,61.24 642.84,60.21 643.22,61.1 643.59,59.3 643.96,58.36 644.33,59.95 644.7,58.7 645.07,57.39 645.44,59.2 645.82,58.46 646.19,57.48 646.56,56.86 646.93,58.88 647.3,57.14 647.67,58.67 648.05,58.52 648.42,55.59 648.79,58.36 649.16,55.43 649.53,55.79 649.9,55.84 650.27,55.49 650.65,55.56 651.02,56.53 651.39,55.87 651.76,56.46 652.13,54.23 652.5,54.32 652.87,54.13 653.25,55.78 653.62,54.42 653.99,55.32 654.36,53.47 654.73,53.45 655.1,52.5 655.47,53.24 655.85,53.15 656.22,52.7 656.59,54.69 656.96,52.95 657.33,54.56 657.7,53.34 658.08,53.97 658.45,51.18 658.82,53.92 659.19,50.94 659.56,50.69 659.93,52.15 660.3,50.73 660.68,53.04 661.05,52.6 661.42,52.84 661.79,52.57 662.16,52.76 662.53,50.13 662.9,52.44 663.28,50.83 663.65,51.8 664.02,52.23 664.39,51.3 664.76,52.02 665.13,49.48 665.51,51.33 665.88,50.65 666.25,50.72 666.62,50.49 666.99,50.93 667.36,51.57 667.73,51.97 668.11,49.57 668.48,51.74" fill="none" stroke="#ff2d6f" stroke-width="1.8" stroke-linejoin="round"/>
<polyline points="549.6,125.91 549.97,126.09 550.34,123.53 550.71,125.35 551.09,122.94 551.46,123.11 551.83,123.83 552.2,121.48 552.57,122.86 552.94,120.72 553.31,121.67 553.68,121.06 554.05,119.17 554.42,117.01 554.79,119.34 555.16,118.41 555.53,116.34 555.9,114.69 556.28,115.83 556.65,116.21 557.02,113.5 557.39,116.92 557.76,113.26 558.13,115.22 558.5,115.45 558.87,115.2 559.24,114.07 559.61,111.65 559.98,113.87 560.35,111.89 560.72,111.3 561.1,112.02 561.47,110.95 561.84,112.57 562.21,112.22 562.58,111.27 562.95,108.99 563.32,109.66 563.69,109.76 564.06,108.3 564.43,108.48 564.8,108.75 565.17,106.38 565.54,106.41 565.91,107.9 566.29,106.2 566.66,106.05 567.03,104.27 567.4,104.5 567.77,105.94 568.14,102.77 568.51,105.91 568.88,104.34 569.25,102.6 569.62,104.7 569.99,102.98 570.36,104.45 570.73,101.54 571.11,100.79 571.48,101.21 571.85,99.62 572.22,101.55 572.59,99.64 572.96,99.69 573.33,99.4 573.7,99.54 574.07,97.63 574.44,96.84 574.81,98.4 575.18,97.27 575.55,99.36 575.92,96.41 576.3,96.42 576.67,94.8 577.04,95.29 577.41,97.26 577.78,96.63 578.15,95.27 578.52,97.69 578.89,95.69 579.26,96.67 579.63,96.67 580,96.69 580.37,93.6 580.74,95.99 581.12,95.3 581.49,94.5 581.86,92.34 582.23,95.34 582.6,93.63 582.97,93.02 583.34,91.45 583.71,91.5 584.08,91.11 584.45,93.27 584.82,92.51 585.19,92.52 585.56,90.18 585.93,89.67 586.31,92.73 586.68,92.42 587.05,91.98 587.42,91.77 587.79,90.53 588.16,89.9 588.53,91.01 588.9,91.85 589.27,89.96 589.64,89.95 590.01,88.94 590.38,87.16 590.75,88.01 591.13,88.51 591.5,87.89 591.87,87.44 592.24,89.75 592.61,86.11 592.98,86.38 593.35,85.79 593.72,85.89 594.09,87.32 594.46,87.09 594.83,88.07 595.2,85.71 595.57,87.82 595.94,87.59 596.32,86.8 596.69,86.79 597.06,85.88 597.43,86.85 597.8,86.87 598.17,86.07 598.54,86.08 598.91,84.82 599.28,86 599.65,82.36 600.02,83.23 600.39,84.93 600.76,84.31 601.14,83.74 601.51,83.48 601.88,84.26 602.25,81.12 602.62,80.35 602.99,82.29 603.36,82.03 603.73,83.45 604.1,83.2 604.47,82.03 604.84,82.15 605.21,79.67 605.58,82.19 605.95,82.56 606.33,78.6 606.7,80.12 607.07,81.46 607.44,79.56 607.81,81.37 608.18,79.05 608.55,76.93 608.92,77.11 609.29,77.51 609.66,78.99 610.03,78.27 610.4,78.79 610.77,76.05 611.15,76.74 611.52,75.45 611.89,76.99 612.26,77.13 612.63,74.46 613,73.47 613.37,73.72 613.74,73.62 614.11,73.28 614.48,73.31 614.85,75.11 615.22,73.66 615.59,74.13 615.96,75.26 616.34,75.08 616.71,73.86 617.08,73.75 617.45,71.8 617.82,70.54 618.19,72.41 618.56,70.23 618.93,69.84 619.3,69.78 619.67,71.98 620.04,72.38 620.41,72.17 620.78,72.18 621.16,72.03 621.53,70.21 621.9,68.98 622.27,69.11 622.64,70.46 623.01,69.64 623.38,68.93 623.75,71.72 624.12,69.27 624.49,68.14 624.86,68.55 625.23,68.57 625.6,69.56 625.97,70.66 626.35,68.07 626.72,69.81 627.09,67.79 627.46,66.98 627.83,69.21 628.2,69.07 628.57,66.74 628.94,67.53 629.31,69.67 629.68,69.73 630.05,69.52 630.42,66.35 630.79,66.61 631.17,69.09 631.54,66.14 631.91,65.32 632.28,66.43 632.65,67.48 633.02,66.48 633.39,67.98 633.76,68.26 634.13,64.19 634.5,65.29 634.87,65.6 635.24,63.75 635.61,65.59 635.98,63.61 636.36,63.6 636.73,65.91 637.1,65.55 637.47,65.18 637.84,65.2 638.21,63.6 638.58,64.74 638.95,63.89 639.32,64.87 639.69,61.51 640.06,63.57 640.43,62.96 640.8,62.25 641.18,60.78 641.55,62.6 641.92,60.43 642.29,61.98 642.66,61.71 643.03,61.6 643.4,63.5 643.77,61.64 644.14,62.54 644.51,63.12 644.88,59.75 645.25,62.15 645.62,60.78 645.99,59.61 646.37,60.15 646.74,60.94 647.11,60.01 647.48,59.71 647.85,58.64 648.22,61.25 648.59,59.26 648.96,60.38 649.33,60.11 649.7,57.96 650.07,58.89 650.44,58.52 650.81,57.57 651.19,56.8 651.56,58.6 651.93,57.81 652.3,58.15 652.67,58.03 653.04,57.2 653.41,58.07 653.78,57.65 654.15,57.78 654.52,55.8 654.89,56.68 655.26,55.87 655.63,55.5 656,58.18 656.38,56.86 656.75,55.21 657.12,55.53 657.49,58.28 657.86,58.25 658.23,56.85 658.6,58.25 658.97,57.47 659.34,58.06 659.71,55.54 660.08,54.98 660.45,54.42 660.82,57.34 661.2,54.96 661.57,55.09 661.94,57.04 662.31,53.89 662.68,53.39 663.05,56.28 663.42,53.15 663.79,55.25 664.16,54.74 664.53,52.55 664.9,53.04 665.27,55.61 665.64,54.36 666.01,53.87 666.39,54.43 666.76,54.87 667.13,54.22 667.5,52.43 667.87,55.13 668.24,52.81" fill="none" stroke="#5a6cff" stroke-width="1.8" stroke-linejoin="round"/>
<rect x="533.8" y="15.5" width="150.4" height="121.2" fill="none" stroke="#111" stroke-width="1.3"/>
<line x1="549.6" y1="136.7" x2="549.6" y2="139.3" stroke="#111" stroke-width="1.0"/>
<line x1="581.3" y1="136.7" x2="581.3" y2="139.3" stroke="#111" stroke-width="1.0"/>
<line x1="613" y1="136.7" x2="613" y2="139.3" stroke="#111" stroke-width="1.0"/>
<line x1="644.7" y1="136.7" x2="644.7" y2="139.3" stroke="#111" stroke-width="1.0"/>
<line x1="676.4" y1="136.7" x2="676.4" y2="139.3" stroke="#111" stroke-width="1.0"/>
<line x1="565.45" y1="136.7" x2="565.45" y2="138.26" stroke="#111" stroke-width="1.0"/>
<line x1="597.15" y1="136.7" x2="597.15" y2="138.26" stroke="#111" stroke-width="1.0"/>
<line x1="628.85" y1="136.7" x2="628.85" y2="138.26" stroke="#111" stroke-width="1.0"/>
<line x1="660.55" y1="136.7" x2="660.55" y2="138.26" stroke="#111" stroke-width="1.0"/>
<text x="549.6" y="148.6" font-size="8.8" text-anchor="middle">0.0</text>
<text x="581.3" y="148.6" font-size="8.8" text-anchor="middle">0.4</text>
<text x="613" y="148.6" font-size="8.8" text-anchor="middle">0.8</text>
<text x="644.7" y="148.6" font-size="8.8" text-anchor="middle">1.2</text>
<text x="676.4" y="148.6" font-size="8.8" text-anchor="middle">1.6</text>
<line x1="531.2" y1="123.39" x2="533.8" y2="123.39" stroke="#111" stroke-width="1.0"/>
<line x1="531.2" y1="78.29" x2="533.8" y2="78.29" stroke="#111" stroke-width="1.0"/>
<line x1="531.2" y1="33.18" x2="533.8" y2="33.18" stroke="#111" stroke-width="1.0"/>
<line x1="532.24" y1="100.84" x2="533.8" y2="100.84" stroke="#111" stroke-width="1.0"/>
<line x1="532.24" y1="55.73" x2="533.8" y2="55.73" stroke="#111" stroke-width="1.0"/>
<text x="528.6" y="126.47" font-size="8.8" text-anchor="end">0.0</text>
<text x="528.6" y="81.37" font-size="8.8" text-anchor="end">0.1</text>
<text x="528.6" y="36.26" font-size="8.8" text-anchor="end">0.2</text>
<text x="608.5" y="160.3" font-size="8.8" text-anchor="middle">Displacement (mm)</text>
<text x="510.6" y="76" font-size="8.8" text-anchor="middle" transform="rotate(-90 510.6 76)">Radial force (N/mm)</text>
<line x1="541.2" y1="24.6" x2="558.7" y2="24.6" stroke="#ff2d6f" stroke-width="1.6"/>
<line x1="541.2" y1="34.6" x2="558.7" y2="34.6" stroke="#666666" stroke-width="1.6"/>
<line x1="541.2" y1="44.3" x2="558.7" y2="44.3" stroke="#5a6cff" stroke-width="1.6"/>
<text x="564.2" y="27.9" font-size="8.8">Pure PLA stent</text>
<text x="564.2" y="37.6" font-size="8.8">Pure PCL stent</text>
<text x="564.2" y="47.4" font-size="8.8">PCL &amp; PLA hybrid stent</text>
<text x="0" y="187" font-size="14" font-weight="bold" fill="#000">d</text>
<rect x="0" y="192.4" width="120" height="89.6" fill="url(#gd1)"/>
<g filter="url(#bl05)">
<rect x="9.8" y="197.5" width="98.7" height="78.9" fill="#e0dccb"/>
<rect x="9.8" y="197.5" width="98.7" height="8.6" fill="#c9cfc6"/>
<rect x="17.9" y="206.1" width="83.1" height="52" fill="#d3bd9e"/>
<rect x="17.9" y="258" width="83.1" height="10.3" fill="#dccdb0"/>
</g>
<g filter="url(#bl1)">
<rect x="0" y="222.8" width="120" height="29.9" fill="url(#tube1)" opacity="0.62"/>
<rect x="27" y="214" width="5.3" height="45" fill="#e6e2d4" opacity="0.8"/>
<rect x="87.2" y="214" width="4.6" height="44" fill="#e6e2d4" opacity="0.8"/>
<rect x="40.3" y="223" width="4.7" height="27" fill="#e6e2d4" opacity="0.6"/>
<rect x="20.5" y="222" width="4" height="30" fill="#a88e6c" opacity="0.55"/>
<rect x="71" y="222" width="4" height="30" fill="#a88e6c" opacity="0.55"/>
<rect x="79.8" y="222" width="6.2" height="30" fill="#a88e6c" opacity="0.55"/>
<rect x="95.3" y="222" width="4.6" height="30" fill="#a88e6c" opacity="0.55"/>
<rect x="48.4" y="224.5" width="21.9" height="23.7" fill="#8a8274" opacity="0.9"/>
</g>
<circle cx="28" cy="220" r="2.3" fill="none" stroke="#f0f0ea" stroke-width="1"/>
<path d="M1 226 q4 2 6 8 M3 250 q3 -3 6 -10 M9.7 226 q4 2 6 8 M11.7 250 q3 -3 6 -10 M18.4 226 q4 2 6 8 M20.4 250 q3 -3 6 -10 M27.1 226 q4 2 6 8 M29.1 250 q3 -3 6 -10 M35.8 226 q4 2 6 8 M37.8 250 q3 -3 6 -10 M44.5 226 q4 2 6 8 M46.5 250 q3 -3 6 -10 M53.2 226 q4 2 6 8 M55.2 250 q3 -3 6 -10 M61.9 226 q4 2 6 8 M63.9 250 q3 -3 6 -10 M70.6 226 q4 2 6 8 M72.6 250 q3 -3 6 -10 M79.3 226 q4 2 6 8 M81.3 250 q3 -3 6 -10 M88 226 q4 2 6 8 M90 250 q3 -3 6 -10 M96.7 226 q4 2 6 8 M98.7 250 q3 -3 6 -10 M105.4 226 q4 2 6 8 M107.4 250 q3 -3 6 -10 M114.1 226 q4 2 6 8 M116.1 250 q3 -3 6 -10" stroke="#6f6f68" stroke-width="0.9" fill="none" opacity="0.55"/>
<path d="M3 229 q4 3 5 9 M11.7 229 q4 3 5 9 M20.4 229 q4 3 5 9 M29.1 229 q4 3 5 9 M37.8 229 q4 3 5 9 M46.5 229 q4 3 5 9 M55.2 229 q4 3 5 9 M63.9 229 q4 3 5 9 M72.6 229 q4 3 5 9 M81.3 229 q4 3 5 9 M90 229 q4 3 5 9 M98.7 229 q4 3 5 9 M107.4 229 q4 3 5 9 M116.1 229 q4 3 5 9" stroke="#fafaf6" stroke-width="1.2" fill="none" opacity="0.6"/>
<line x1="59.9" y1="246" x2="59.9" y2="272" stroke="#e2a23c" stroke-width="1.0"/>
<circle cx="59.9" cy="237.3" r="9.6" fill="#e8a13a"/>
<text x="9.5" y="206.8" font-size="10.1">Bonding</text>
<text x="26.5" y="270.1" font-size="10.1">Add molten PCL</text>
<line x1="29.4" y1="258.4" x2="29.4" y2="244.8" stroke="#000" stroke-width="1.5"/>
<path d="M29.4 240 L32.4 248 L29.4 245.6 L26.4 248 Z" fill="#000"/>
<rect x="130.4" y="192.3" width="158.6" height="88.5" fill="#dbd4c8"/>
<g filter="url(#bl05)">
<rect x="136.4" y="212.8" width="145.8" height="11.3" fill="#e6e0d4" stroke="#cbc3b6" stroke-width="1"/>
<rect x="136.4" y="243.9" width="145.8" height="14" fill="#e6e0d4" stroke="#cbc3b6" stroke-width="1"/>
<rect x="130.4" y="226.5" width="158.6" height="16.5" fill="url(#rod)"/>
<rect x="136" y="227.5" width="124" height="14.5" fill="#f2f0ec" opacity="0.45"/>
<rect x="185.8" y="227.5" width="48.2" height="15.5" fill="#d2ab80"/>
<rect x="188" y="227.5" width="1.6" height="15.5" fill="#eadfcc" opacity="0.75"/>
<rect x="195" y="227.5" width="1.6" height="15.5" fill="#eadfcc" opacity="0.75"/>
<rect x="201" y="227.5" width="1.6" height="15.5" fill="#eadfcc" opacity="0.75"/>
<rect x="218" y="227.5" width="1.6" height="15.5" fill="#eadfcc" opacity="0.75"/>
<rect x="224" y="227.5" width="1.6" height="15.5" fill="#eadfcc" opacity="0.75"/>
<rect x="230" y="227.5" width="1.6" height="15.5" fill="#eadfcc" opacity="0.75"/>
</g>
<path d="M160.41 230.32 h2.99 M166.64 232.98 h4.74 M250.48 234.36 h3.69 M162.44 239.73 h3.5 M183.35 236.87 h2.61 M239.7 232.4 h5.79 M168.87 228.1 h2.82 M256.73 234.95 h3.85 M245.83 235.87 h5.91 M179.62 230.81 h5.68 M155.62 238.29 h4.38 M255.91 240.27 h4.64 M140.52 228.3 h3.89 M236 229.06 h3.7 M146.49 232.03 h2.02 M176.22 234.8 h2.8 M142.76 230.75 h3.03 M179.16 237.03 h5.69 M151.97 239.23 h4.4 M147.77 229.87 h2.7 M157.67 229.89 h2.83 M239.23 229.52 h5.29 M158.69 228.94 h3.15 M141.82 230.81 h3.6 M236.33 233.19 h3.66 M181.26 229.2 h5.52 M248.61 237.38 h3.59 M173.99 236.51 h4.61 M173.9 239.36 h4.88 M162.67 238.52 h4.7 M166.47 231.85 h5.01 M145.78 233.69 h5.86 M167.26 234.54 h5.63 M242.7 238.25 h4.13 M249.44 231.34 h5.53 M170.44 236.82 h4.42 M256.45 236.67 h3.76 M182.34 239.54 h3.38 M253.69 230.51 h4.66 M156.94 236.32 h4.63 M241.69 231.01 h5.44 M178.16 233.2 h2.45 M136.16 232.04 h4.69 M156.42 238.2 h3.78 M161.05 237.73 h4.96 M160.43 228.27 h2.42 M173.52 235.55 h5.84 M181.05 235.24 h5.79 M172.01 237.84 h5.97 M184.61 230.24 h3.84 M151.67 229.7 h3.79 M239.73 237.12 h3.67 M252.43 230.32 h3" stroke="#ffffff" stroke-width="1.1" opacity="0.8" fill="none"/>
<path d="M169.38 235.44 h4.67 M182.68 238.75 h4.81 M244.94 239.56 h3.43 M156.68 228.97 h2.72 M137.88 232.29 h3.48 M176.96 237.54 h3.71 M156.25 235.65 h2.14 M140.41 232.45 h2.69 M155.34 233.71 h4.09 M234.25 229.52 h2.52 M169.61 232.75 h3.68 M160.19 235.27 h4.11 M235.45 229.06 h4.03 M236.66 229.95 h2.26 M156.32 239.32 h4.15 M177.49 228.69 h3.03 M158.93 230.33 h2.33 M253.93 237.5 h2.04 M181.97 236.87 h2.29 M164.71 233.77 h4.38 M242.65 229.04 h4.45 M242.8 238.9 h4.32 M181.52 232.07 h2.14 M184.38 231.91 h2.48 M251.12 239.45 h4.43 M172.08 229.61 h3.28 M144.82 232.6 h3.82 M174.71 232.35 h2.98 M237.14 228.45 h4.44" stroke="#8a8a86" stroke-width="0.8" opacity="0.6" fill="none"/>
<circle cx="209.4" cy="235.7" r="5.2" fill="#ee9a3a"/>
<text x="141.3" y="207.3" font-size="10.1">Curl up</text>
<text x="244.9" y="207.3" font-size="10.1">Jig</text>
<text x="167.8" y="273.5" font-size="10.1">Add PVA solution</text>
<path d="M240.8 203 H230.4 V213" fill="none" stroke="#000" stroke-width="1.4"/>
<line x1="230.4" y1="205" x2="230.4" y2="214.7" stroke="#000" stroke-width="1.5"/>
<path d="M230.4 219.5 L227.4 211.5 L230.4 213.9 L233.4 211.5 Z" fill="#000"/>
<line x1="205.6" y1="261.5" x2="205.6" y2="248" stroke="#000" stroke-width="1.5"/>
<path d="M205.6 243.2 L208.6 251.2 L205.6 248.8 L202.6 251.2 Z" fill="#000"/>
<rect x="0" y="289" width="289" height="68" fill="url(#gd3)"/>
<rect x="0" y="357" width="289" height="68" fill="url(#gd3)"/>
<line x1="0" y1="357.2" x2="289" y2="357.2" stroke="#e6e6e2" stroke-width="1.0"/>
<g filter="url(#bl05)">
<rect x="15.9" y="307.2" width="260.8" height="34.5" fill="#deded8" opacity="0.35" rx="4"/>
<path d="M16.18 309.2 H30.88 A3.05 3.05 0 0 1 30.88 315.3 H19.18 A3.05 3.05 0 0 0 19.18 321.4 H31.76 A3.05 3.05 0 0 1 31.76 327.5 H19.18 A3.05 3.05 0 0 0 19.18 333.6 H29.75 A3.05 3.05 0 0 1 29.75 339.7 H19.18 M35.65 309.2 H49.98 A3.05 3.05 0 0 1 49.98 315.3 H38.65 A3.05 3.05 0 0 0 38.65 321.4 H49.98 A3.05 3.05 0 0 1 49.98 327.5 H38.65 A3.05 3.05 0 0 0 38.65 333.6 H52.13 A3.05 3.05 0 0 1 52.13 339.7 H38.65 M55.72 309.2 H72.06 A3.05 3.05 0 0 1 72.06 315.3 H58.72 A3.05 3.05 0 0 0 58.72 321.4 H69.4 A3.05 3.05 0 0 1 69.4 327.5 H58.72 A3.05 3.05 0 0 0 58.72 333.6 H70.22 A3.05 3.05 0 0 1 70.22 339.7 H58.72 M74.19 309.2 H89.73 A3.05 3.05 0 0 1 89.73 315.3 H77.19 A3.05 3.05 0 0 0 77.19 321.4 H88.96 A3.05 3.05 0 0 1 88.96 327.5 H77.19 A3.05 3.05 0 0 0 77.19 333.6 H91.23 A3.05 3.05 0 0 1 91.23 339.7 H77.19 M92.93 309.2 H106.55 A3.05 3.05 0 0 1 106.55 315.3 H95.93 A3.05 3.05 0 0 0 95.93 321.4 H109.47 A3.05 3.05 0 0 1 109.47 327.5 H95.93 A3.05 3.05 0 0 0 95.93 333.6 H107.29 A3.05 3.05 0 0 1 107.29 339.7 H95.93 M112.68 309.2 H129.35 A3.05 3.05 0 0 1 129.35 315.3 H115.68 A3.05 3.05 0 0 0 115.68 321.4 H129.38 A3.05 3.05 0 0 1 129.38 327.5 H115.68 A3.05 3.05 0 0 0 115.68 333.6 H127.35 A3.05 3.05 0 0 1 127.35 339.7 H115.68 M133.73 309.2 H150.19 A3.05 3.05 0 0 1 150.19 315.3 H136.73 A3.05 3.05 0 0 0 136.73 321.4 H148.38 A3.05 3.05 0 0 1 148.38 327.5 H136.73 A3.05 3.05 0 0 0 136.73 333.6 H150.13 A3.05 3.05 0 0 1 150.13 339.7 H136.73 M152.68 309.2 H168.38 A3.05 3.05 0 0 1 168.38 315.3 H155.68 A3.05 3.05 0 0 0 155.68 321.4 H170.06 A3.05 3.05 0 0 1 170.06 327.5 H155.68 A3.05 3.05 0 0 0 155.68 333.6 H166.85 A3.05 3.05 0 0 1 166.85 339.7 H155.68 M170.92 309.2 H188.03 A3.05 3.05 0 0 1 188.03 315.3 H173.92 A3.05 3.05 0 0 0 173.92 321.4 H188.38 A3.05 3.05 0 0 1 188.38 327.5 H173.92 A3.05 3.05 0 0 0 173.92 333.6 H187.71 A3.05 3.05 0 0 1 187.71 339.7 H173.92 M190.59 309.2 H208.07 A3.05 3.05 0 0 1 208.07 315.3 H193.59 A3.05 3.05 0 0 0 193.59 321.4 H207.84 A3.05 3.05 0 0 1 207.84 327.5 H193.59 A3.05 3.05 0 0 0 193.59 333.6 H206.2 A3.05 3.05 0 0 1 206.2 339.7 H193.59 M211.4 309.2 H226.1 A3.05 3.05 0 0 1 226.1 315.3 H214.4 A3.05 3.05 0 0 0 214.4 321.4 H228.54 A3.05 3.05 0 0 1 228.54 327.5 H214.4 A3.05 3.05 0 0 0 214.4 333.6 H225.67 A3.05 3.05 0 0 1 225.67 339.7 H214.4 M229.87 309.2 H244.2 A3.05 3.05 0 0 1 244.2 315.3 H232.87 A3.05 3.05 0 0 0 232.87 321.4 H246.31 A3.05 3.05 0 0 1 246.31 327.5 H232.87 A3.05 3.05 0 0 0 232.87 333.6 H244.55 A3.05 3.05 0 0 1 244.55 339.7 H232.87 M250.43 309.2 H266.24 A3.05 3.05 0 0 1 266.24 315.3 H253.43 A3.05 3.05 0 0 0 253.43 321.4 H267.01 A3.05 3.05 0 0 1 267.01 327.5 H253.43 A3.05 3.05 0 0 0 253.43 333.6 H265.96 A3.05 3.05 0 0 1 265.96 339.7 H253.43 M269.68 309.2 H274.7 A3.05 3.05 0 0 1 274.7 315.3 H272.68 A3.05 3.05 0 0 0 272.68 321.4 H274.7 A3.05 3.05 0 0 1 274.7 327.5 H272.68 A3.05 3.05 0 0 0 272.68 333.6 H274.7 A3.05 3.05 0 0 1 274.7 339.7 H272.68" stroke="#f4f4f0" stroke-width="2.0" fill="none" opacity="0.7"/>
<path d="M16.18 309.2 H30.88 A3.05 3.05 0 0 1 30.88 315.3 H19.18 A3.05 3.05 0 0 0 19.18 321.4 H31.76 A3.05 3.05 0 0 1 31.76 327.5 H19.18 A3.05 3.05 0 0 0 19.18 333.6 H29.75 A3.05 3.05 0 0 1 29.75 339.7 H19.18 M35.65 309.2 H49.98 A3.05 3.05 0 0 1 49.98 315.3 H38.65 A3.05 3.05 0 0 0 38.65 321.4 H49.98 A3.05 3.05 0 0 1 49.98 327.5 H38.65 A3.05 3.05 0 0 0 38.65 333.6 H52.13 A3.05 3.05 0 0 1 52.13 339.7 H38.65 M55.72 309.2 H72.06 A3.05 3.05 0 0 1 72.06 315.3 H58.72 A3.05 3.05 0 0 0 58.72 321.4 H69.4 A3.05 3.05 0 0 1 69.4 327.5 H58.72 A3.05 3.05 0 0 0 58.72 333.6 H70.22 A3.05 3.05 0 0 1 70.22 339.7 H58.72 M74.19 309.2 H89.73 A3.05 3.05 0 0 1 89.73 315.3 H77.19 A3.05 3.05 0 0 0 77.19 321.4 H88.96 A3.05 3.05 0 0 1 88.96 327.5 H77.19 A3.05 3.05 0 0 0 77.19 333.6 H91.23 A3.05 3.05 0 0 1 91.23 339.7 H77.19 M92.93 309.2 H106.55 A3.05 3.05 0 0 1 106.55 315.3 H95.93 A3.05 3.05 0 0 0 95.93 321.4 H109.47 A3.05 3.05 0 0 1 109.47 327.5 H95.93 A3.05 3.05 0 0 0 95.93 333.6 H107.29 A3.05 3.05 0 0 1 107.29 339.7 H95.93 M112.68 309.2 H129.35 A3.05 3.05 0 0 1 129.35 315.3 H115.68 A3.05 3.05 0 0 0 115.68 321.4 H129.38 A3.05 3.05 0 0 1 129.38 327.5 H115.68 A3.05 3.05 0 0 0 115.68 333.6 H127.35 A3.05 3.05 0 0 1 127.35 339.7 H115.68 M133.73 309.2 H150.19 A3.05 3.05 0 0 1 150.19 315.3 H136.73 A3.05 3.05 0 0 0 136.73 321.4 H148.38 A3.05 3.05 0 0 1 148.38 327.5 H136.73 A3.05 3.05 0 0 0 136.73 333.6 H150.13 A3.05 3.05 0 0 1 150.13 339.7 H136.73 M152.68 309.2 H168.38 A3.05 3.05 0 0 1 168.38 315.3 H155.68 A3.05 3.05 0 0 0 155.68 321.4 H170.06 A3.05 3.05 0 0 1 170.06 327.5 H155.68 A3.05 3.05 0 0 0 155.68 333.6 H166.85 A3.05 3.05 0 0 1 166.85 339.7 H155.68 M170.92 309.2 H188.03 A3.05 3.05 0 0 1 188.03 315.3 H173.92 A3.05 3.05 0 0 0 173.92 321.4 H188.38 A3.05 3.05 0 0 1 188.38 327.5 H173.92 A3.05 3.05 0 0 0 173.92 333.6 H187.71 A3.05 3.05 0 0 1 187.71 339.7 H173.92 M190.59 309.2 H208.07 A3.05 3.05 0 0 1 208.07 315.3 H193.59 A3.05 3.05 0 0 0 193.59 321.4 H207.84 A3.05 3.05 0 0 1 207.84 327.5 H193.59 A3.05 3.05 0 0 0 193.59 333.6 H206.2 A3.05 3.05 0 0 1 206.2 339.7 H193.59 M211.4 309.2 H226.1 A3.05 3.05 0 0 1 226.1 315.3 H214.4 A3.05 3.05 0 0 0 214.4 321.4 H228.54 A3.05 3.05 0 0 1 228.54 327.5 H214.4 A3.05 3.05 0 0 0 214.4 333.6 H225.67 A3.05 3.05 0 0 1 225.67 339.7 H214.4 M229.87 309.2 H244.2 A3.05 3.05 0 0 1 244.2 315.3 H232.87 A3.05 3.05 0 0 0 232.87 321.4 H246.31 A3.05 3.05 0 0 1 246.31 327.5 H232.87 A3.05 3.05 0 0 0 232.87 333.6 H244.55 A3.05 3.05 0 0 1 244.55 339.7 H232.87 M250.43 309.2 H266.24 A3.05 3.05 0 0 1 266.24 315.3 H253.43 A3.05 3.05 0 0 0 253.43 321.4 H267.01 A3.05 3.05 0 0 1 267.01 327.5 H253.43 A3.05 3.05 0 0 0 253.43 333.6 H265.96 A3.05 3.05 0 0 1 265.96 339.7 H253.43 M269.68 309.2 H274.7 A3.05 3.05 0 0 1 274.7 315.3 H272.68 A3.05 3.05 0 0 0 272.68 321.4 H274.7 A3.05 3.05 0 0 1 274.7 327.5 H272.68 A3.05 3.05 0 0 0 272.68 333.6 H274.7 A3.05 3.05 0 0 1 274.7 339.7 H272.68" stroke="#6e6e6a" stroke-width="0.85" fill="none" opacity="0.75" transform="translate(0.6 1.1)"/>
<rect x="21" y="375.3" width="253.3" height="33.8" fill="#deded8" opacity="0.35" rx="4"/>
<path d="M20.47 377.3 H34.97 A2.98 2.98 0 0 1 34.97 383.26 H23.47 A2.98 2.98 0 0 0 23.47 389.22 H37.08 A2.98 2.98 0 0 1 37.08 395.18 H23.47 A2.98 2.98 0 0 0 23.47 401.14 H36.05 A2.98 2.98 0 0 1 36.05 407.1 H23.47 M40.73 377.3 H57.75 A2.98 2.98 0 0 1 57.75 383.26 H43.73 A2.98 2.98 0 0 0 43.73 389.22 H56.92 A2.98 2.98 0 0 1 56.92 395.18 H43.73 A2.98 2.98 0 0 0 43.73 401.14 H57.62 A2.98 2.98 0 0 1 57.62 407.1 H43.73 M59.17 377.3 H74.51 A2.98 2.98 0 0 1 74.51 383.26 H62.17 A2.98 2.98 0 0 0 62.17 389.22 H73.1 A2.98 2.98 0 0 1 73.1 395.18 H62.17 A2.98 2.98 0 0 0 62.17 401.14 H73.55 A2.98 2.98 0 0 1 73.55 407.1 H62.17 M79.16 377.3 H94.78 A2.98 2.98 0 0 1 94.78 383.26 H82.16 A2.98 2.98 0 0 0 82.16 389.22 H94.23 A2.98 2.98 0 0 1 94.23 395.18 H82.16 A2.98 2.98 0 0 0 82.16 401.14 H92.9 A2.98 2.98 0 0 1 92.9 407.1 H82.16 M98.28 377.3 H114.66 A2.98 2.98 0 0 1 114.66 383.26 H101.28 A2.98 2.98 0 0 0 101.28 389.22 H112.14 A2.98 2.98 0 0 1 112.14 395.18 H101.28 A2.98 2.98 0 0 0 101.28 401.14 H114.99 A2.98 2.98 0 0 1 114.99 407.1 H101.28 M118.06 377.3 H133.56 A2.98 2.98 0 0 1 133.56 383.26 H121.06 A2.98 2.98 0 0 0 121.06 389.22 H132.35 A2.98 2.98 0 0 1 132.35 395.18 H121.06 A2.98 2.98 0 0 0 121.06 401.14 H131.64 A2.98 2.98 0 0 1 131.64 407.1 H121.06 M138.83 377.3 H155.64 A2.98 2.98 0 0 1 155.64 383.26 H141.83 A2.98 2.98 0 0 0 141.83 389.22 H154.72 A2.98 2.98 0 0 1 154.72 395.18 H141.83 A2.98 2.98 0 0 0 141.83 401.14 H155.36 A2.98 2.98 0 0 1 155.36 407.1 H141.83 M158.25 377.3 H175.52 A2.98 2.98 0 0 1 175.52 383.26 H161.25 A2.98 2.98 0 0 0 161.25 389.22 H172.83 A2.98 2.98 0 0 1 172.83 395.18 H161.25 A2.98 2.98 0 0 0 161.25 401.14 H173.46 A2.98 2.98 0 0 1 173.46 407.1 H161.25 M176.28 377.3 H193.53 A2.98 2.98 0 0 1 193.53 383.26 H179.28 A2.98 2.98 0 0 0 179.28 389.22 H190.59 A2.98 2.98 0 0 1 190.59 395.18 H179.28 A2.98 2.98 0 0 0 179.28 401.14 H191.29 A2.98 2.98 0 0 1 191.29 407.1 H179.28 M197 377.3 H211.93 A2.98 2.98 0 0 1 211.93 383.26 H200 A2.98 2.98 0 0 0 200 389.22 H212.68 A2.98 2.98 0 0 1 212.68 395.18 H200 A2.98 2.98 0 0 0 200 401.14 H211.28 A2.98 2.98 0 0 1 211.28 407.1 H200 M216.35 377.3 H232.77 A2.98 2.98 0 0 1 232.77 383.26 H219.35 A2.98 2.98 0 0 0 219.35 389.22 H230.81 A2.98 2.98 0 0 1 230.81 395.18 H219.35 A2.98 2.98 0 0 0 219.35 401.14 H231.53 A2.98 2.98 0 0 1 231.53 407.1 H219.35 M235.1 377.3 H249.6 A2.98 2.98 0 0 1 249.6 383.26 H238.1 A2.98 2.98 0 0 0 238.1 389.22 H252.49 A2.98 2.98 0 0 1 252.49 395.18 H238.1 A2.98 2.98 0 0 0 238.1 401.14 H249.01 A2.98 2.98 0 0 1 249.01 407.1 H238.1 M254.57 377.3 H268.16 A2.98 2.98 0 0 1 268.16 383.26 H257.57 A2.98 2.98 0 0 0 257.57 389.22 H269.16 A2.98 2.98 0 0 1 269.16 395.18 H257.57 A2.98 2.98 0 0 0 257.57 401.14 H270.19 A2.98 2.98 0 0 1 270.19 407.1 H257.57" stroke="#f4f4f0" stroke-width="2.0" fill="none" opacity="0.7"/>
<path d="M20.47 377.3 H34.97 A2.98 2.98 0 0 1 34.97 383.26 H23.47 A2.98 2.98 0 0 0 23.47 389.22 H37.08 A2.98 2.98 0 0 1 37.08 395.18 H23.47 A2.98 2.98 0 0 0 23.47 401.14 H36.05 A2.98 2.98 0 0 1 36.05 407.1 H23.47 M40.73 377.3 H57.75 A2.98 2.98 0 0 1 57.75 383.26 H43.73 A2.98 2.98 0 0 0 43.73 389.22 H56.92 A2.98 2.98 0 0 1 56.92 395.18 H43.73 A2.98 2.98 0 0 0 43.73 401.14 H57.62 A2.98 2.98 0 0 1 57.62 407.1 H43.73 M59.17 377.3 H74.51 A2.98 2.98 0 0 1 74.51 383.26 H62.17 A2.98 2.98 0 0 0 62.17 389.22 H73.1 A2.98 2.98 0 0 1 73.1 395.18 H62.17 A2.98 2.98 0 0 0 62.17 401.14 H73.55 A2.98 2.98 0 0 1 73.55 407.1 H62.17 M79.16 377.3 H94.78 A2.98 2.98 0 0 1 94.78 383.26 H82.16 A2.98 2.98 0 0 0 82.16 389.22 H94.23 A2.98 2.98 0 0 1 94.23 395.18 H82.16 A2.98 2.98 0 0 0 82.16 401.14 H92.9 A2.98 2.98 0 0 1 92.9 407.1 H82.16 M98.28 377.3 H114.66 A2.98 2.98 0 0 1 114.66 383.26 H101.28 A2.98 2.98 0 0 0 101.28 389.22 H112.14 A2.98 2.98 0 0 1 112.14 395.18 H101.28 A2.98 2.98 0 0 0 101.28 401.14 H114.99 A2.98 2.98 0 0 1 114.99 407.1 H101.28 M118.06 377.3 H133.56 A2.98 2.98 0 0 1 133.56 383.26 H121.06 A2.98 2.98 0 0 0 121.06 389.22 H132.35 A2.98 2.98 0 0 1 132.35 395.18 H121.06 A2.98 2.98 0 0 0 121.06 401.14 H131.64 A2.98 2.98 0 0 1 131.64 407.1 H121.06 M138.83 377.3 H155.64 A2.98 2.98 0 0 1 155.64 383.26 H141.83 A2.98 2.98 0 0 0 141.83 389.22 H154.72 A2.98 2.98 0 0 1 154.72 395.18 H141.83 A2.98 2.98 0 0 0 141.83 401.14 H155.36 A2.98 2.98 0 0 1 155.36 407.1 H141.83 M158.25 377.3 H175.52 A2.98 2.98 0 0 1 175.52 383.26 H161.25 A2.98 2.98 0 0 0 161.25 389.22 H172.83 A2.98 2.98 0 0 1 172.83 395.18 H161.25 A2.98 2.98 0 0 0 161.25 401.14 H173.46 A2.98 2.98 0 0 1 173.46 407.1 H161.25 M176.28 377.3 H193.53 A2.98 2.98 0 0 1 193.53 383.26 H179.28 A2.98 2.98 0 0 0 179.28 389.22 H190.59 A2.98 2.98 0 0 1 190.59 395.18 H179.28 A2.98 2.98 0 0 0 179.28 401.14 H191.29 A2.98 2.98 0 0 1 191.29 407.1 H179.28 M197 377.3 H211.93 A2.98 2.98 0 0 1 211.93 383.26 H200 A2.98 2.98 0 0 0 200 389.22 H212.68 A2.98 2.98 0 0 1 212.68 395.18 H200 A2.98 2.98 0 0 0 200 401.14 H211.28 A2.98 2.98 0 0 1 211.28 407.1 H200 M216.35 377.3 H232.77 A2.98 2.98 0 0 1 232.77 383.26 H219.35 A2.98 2.98 0 0 0 219.35 389.22 H230.81 A2.98 2.98 0 0 1 230.81 395.18 H219.35 A2.98 2.98 0 0 0 219.35 401.14 H231.53 A2.98 2.98 0 0 1 231.53 407.1 H219.35 M235.1 377.3 H249.6 A2.98 2.98 0 0 1 249.6 383.26 H238.1 A2.98 2.98 0 0 0 238.1 389.22 H252.49 A2.98 2.98 0 0 1 252.49 395.18 H238.1 A2.98 2.98 0 0 0 238.1 401.14 H249.01 A2.98 2.98 0 0 1 249.01 407.1 H238.1 M254.57 377.3 H268.16 A2.98 2.98 0 0 1 268.16 383.26 H257.57 A2.98 2.98 0 0 0 257.57 389.22 H269.16 A2.98 2.98 0 0 1 269.16 395.18 H257.57 A2.98 2.98 0 0 0 257.57 401.14 H270.19 A2.98 2.98 0 0 1 270.19 407.1 H257.57" stroke="#6e6e6a" stroke-width="0.85" fill="none" opacity="0.75" transform="translate(0.6 1.1)"/>
<rect x="113.5" y="307.3" width="9" height="33.2" fill="#d8c6ac" opacity="0.8"/>
<rect x="121.8" y="307.3" width="82.6" height="33.2" fill="#c8a57e"/>
<rect x="131.5" y="307.3" width="2.2" height="33.2" fill="#e2d8c6" opacity="0.85"/>
<rect x="144.5" y="307.3" width="2.2" height="33.2" fill="#e2d8c6" opacity="0.85"/>
<rect x="177.5" y="307.3" width="2.2" height="33.2" fill="#e2d8c6" opacity="0.85"/>
<rect x="192" y="307.3" width="2.2" height="33.2" fill="#e2d8c6" opacity="0.85"/>
<rect x="115" y="320" width="90" height="1.5" fill="#f2d890" opacity="0.8"/>
<rect x="115" y="327.5" width="90" height="1.5" fill="#f2d890" opacity="0.8"/>
<rect x="115" y="375.6" width="96" height="18.1" fill="#c49c70"/>
<rect x="115" y="393.7" width="96" height="15" fill="#d8c4a8" opacity="0.8"/>
<rect x="115" y="388.6" width="97" height="1.8" fill="#fff0c8"/>
</g>
<circle cx="162.6" cy="325.4" r="9.9" fill="#e8a838"/>
<text x="11.6" y="303.3" font-size="10.1">Front view</text>
<text x="11.6" y="367.4" font-size="10.1">Side view</text>
<text x="248" y="338" font-size="10">2 mm</text>
<line x1="244" y1="345.4" x2="278.3" y2="345.4" stroke="#000" stroke-width="2"/>
<text x="248" y="410.4" font-size="10">2 mm</text>
<line x1="244" y1="416.7" x2="278.3" y2="416.7" stroke="#000" stroke-width="2"/>
<text x="301.9" y="186.9" font-size="14" font-weight="bold" fill="#000">e</text>
<rect x="295.8" y="190.8" width="192.7" height="232.2" fill="#ebebeb"/>
<rect x="306" y="200.2" width="173.2" height="65.1" fill="url(#ge)"/>
<text x="311.3" y="212.8" font-size="10.1">Delivery</text>
<text x="445.6" y="256.1" font-size="10">3 mm</text>
<line x1="444.2" y1="260.4" x2="472.5" y2="260.4" stroke="#000" stroke-width="2"/>
<rect x="306" y="276.1" width="173.2" height="65.1" fill="url(#ge)"/>
<text x="311.3" y="288.7" font-size="10.1">Expansion</text>
<text x="445.6" y="332" font-size="10">3 mm</text>
<line x1="444.2" y1="336.3" x2="472.5" y2="336.3" stroke="#000" stroke-width="2"/>
<rect x="306" y="352" width="173.2" height="65.1" fill="url(#ge)"/>
<text x="311.3" y="364.6" font-size="10.1">Post-implantation</text>
<text x="445.6" y="407.9" font-size="10">3 mm</text>
<line x1="444.2" y1="412.2" x2="472.5" y2="412.2" stroke="#000" stroke-width="2"/>
<rect x="306" y="245" width="173.2" height="7" fill="url(#gtb)" opacity="0.6"/>
<rect x="306" y="318.5" width="173.2" height="8" fill="url(#gtb)"/>
<rect x="306" y="398" width="173.2" height="8" fill="url(#gtb)"/>
<g filter="url(#bl05)">
<rect x="306" y="217" width="173.2" height="24" fill="#eceeec" opacity="0.85"/>
<line x1="306" y1="216.6" x2="479" y2="215.4" stroke="#6a6c6a" stroke-width="1.0"/>
<line x1="306" y1="241" x2="479" y2="240.6" stroke="#7f817f" stroke-width="1.3"/>
<line x1="306" y1="244.2" x2="479" y2="243.8" stroke="#6f716f" stroke-width="1.1"/>
<rect x="306" y="226" width="173" height="12" fill="#f2f3f2" opacity="0.6"/>
<path d="M306 229.5 L340 229.8" stroke="#3f86d0" stroke-width="1.6" fill="none"/>
<path d="M340 229.8 L386 231" stroke="#6a9ad0" stroke-width="1.2" fill="none" opacity="0.7"/>
<path d="M415 233 L430 234.5 L479 236.5" stroke="#3a80d0" stroke-width="2" fill="none"/>
<path d="M306 232 L479 233.5" stroke="#ffffff" stroke-width="1.2" fill="none" opacity="0.9"/>
<rect x="386.3" y="225.7" width="28.9" height="11.7" fill="#b09464"/>
<rect x="388" y="227" width="25" height="4" fill="#c4a46c" opacity="0.8"/>
</g>
<g filter="url(#bl05)">
<rect x="306" y="294" width="173.2" height="24" fill="#eceeec" opacity="0.8"/>
<path d="M306 293.5 Q400 296 479 290" stroke="#9a9c9a" stroke-width="1.0" fill="none"/>
<line x1="306" y1="317.5" x2="479" y2="316.8" stroke="#8a8c8a" stroke-width="1.2"/>
<path d="M306 309.3 L479 307" stroke="#3f86d0" stroke-width="1.8" fill="none"/>
<rect x="336" y="300" width="92" height="16" fill="#f0f0ee" opacity="0.6"/>
<rect x="364.8" y="299.7" width="29.7" height="18.3" fill="#c4a880"/>
<rect x="368.5" y="302.5" width="22" height="12.5" fill="none" stroke="#f2ece0" stroke-width="1.2"/>
</g>
<circle cx="379.2" cy="307.6" r="3.9" fill="#b47a22"/>
<g filter="url(#bl05)">
<rect x="306" y="371" width="173.2" height="27" fill="#eceeec" opacity="0.8"/>
<path d="M306 372 Q400 372 479 365.3" stroke="#5a5c5a" stroke-width="1.1" fill="none"/>
<line x1="306" y1="397.5" x2="479" y2="397" stroke="#8a8c8a" stroke-width="1.2"/>
<rect x="336.5" y="376" width="90.5" height="17" fill="#f0f0ee" opacity="0.7"/>
<rect x="366.2" y="374.7" width="31.6" height="18.9" fill="#c0a47c"/>
<rect x="370" y="377.5" width="24" height="13.4" fill="none" stroke="#f2ece0" stroke-width="1.2"/>
</g>
<circle cx="382.4" cy="384.2" r="3.8" fill="#9a5e1a"/>
<text x="511.4" y="186.4" font-size="14" font-weight="bold" fill="#000">f</text>
<rect x="499" y="192.2" width="184" height="230.8" fill="url(#gf)"/>
<g clip-path="url(#cf)">
<g filter="url(#bl1)">
<rect x="499" y="192.2" width="184" height="4.5" fill="#f8f8fa"/>
<rect x="499" y="201" width="184" height="1.5" fill="#d2d2d8"/>
<rect x="641" y="204.4" width="42" height="3.4" fill="#fafafc"/>
<rect x="532.7" y="200" width="2.2" height="95" fill="#f4f4f8" opacity="0.9"/>
<rect x="511" y="202" width="4" height="3" fill="#f8f8fa"/>
</g>
<g filter="url(#bl2)">
<ellipse cx="578" cy="280" rx="53" ry="43" fill="#ddd6c0" opacity="0.45"/>
<ellipse cx="585" cy="300" rx="40" ry="20" fill="#e6e2d6" opacity="0.5"/>
<path d="M626 270 C645 262 668 266 683 276 L683 327 C670 312 650 305 628 308 Z" fill="#e7e4d9" opacity="0.95"/>
</g>
<g filter="url(#bl05)">
<rect x="499" y="281" width="8" height="35" fill="#dcdcde"/>
<rect x="505" y="279" width="7" height="39" fill="url(#gwc)"/>
<rect x="511" y="284" width="16" height="30" fill="url(#gwc)"/>
<rect x="499" y="321" width="16" height="42" fill="#e2e2e4"/>
<ellipse cx="511" cy="342" rx="6" ry="20" fill="#ececee"/>
<rect x="510" y="336" width="17" height="14" fill="#eeeeee"/>
<ellipse cx="527" cy="343" rx="2.5" ry="7" fill="#d6d6d8"/>
<rect x="499" y="356" width="54" height="12" fill="#c8c0b8" opacity="0.8"/>
<rect x="499" y="368" width="54" height="30" fill="url(#gcyl)"/>
<ellipse cx="504" cy="383" rx="3.5" ry="14.5" fill="none" stroke="#3a3a38" stroke-width="2.2"/>
</g>
<g filter="url(#bl05)" fill="none" stroke-linecap="round">
<path d="M527.9 262.6 C529.5 260.13 533.57 251.3 537.5 247.8 C541.43 244.3 546.25 243.22 551.5 241.6 C556.75 239.98 563.17 238.97 569 238.1 C574.83 237.23 581.23 236.25 586.5 236.4 C591.77 236.55 596.52 237.4 600.6 239 C604.68 240.6 608.1 243.08 611 246 C613.9 248.92 616.83 254.75 618 256.5 M534 258.3 C536.33 257.13 542.75 253.05 548 251.3 C553.25 249.55 560.25 248.1 565.5 247.8 C570.75 247.5 574.83 248.92 579.5 249.5 C584.17 250.08 589.42 249.55 593.5 251.3 C597.58 253.05 602.25 258.55 604 260 M537.5 282.8 C539.83 282.22 546.83 280.18 551.5 279.3 C556.17 278.42 560.83 277.22 565.5 277.5 C570.17 277.78 574.83 281 579.5 281 C584.17 281 588.82 279.25 593.5 277.5 C598.18 275.75 605.25 271.67 607.6 270.5 M537.5 274 C537.8 277.5 537.55 288.57 539.3 295 C541.05 301.43 544.8 307.6 548 312.6 C551.2 317.6 556.75 322.93 558.5 325 M562 291.5 C563.17 294.13 567.25 301.72 569 307.3 C570.75 312.88 571.92 322.05 572.5 325 M593.5 282.8 C594.08 285.42 594.65 294.7 597 298.5 C599.35 302.3 604.1 305.02 607.6 305.6 C611.1 306.18 615.1 304.35 618 302 C620.9 299.65 623.83 293.25 625 291.5 M527 263.5 C526.72 266.72 524.72 276.67 525.3 282.8 C525.88 288.93 528.17 294.77 530.5 300.3 C532.83 305.83 537.83 313.38 539.3 316 M618 256.5 C619.33 258.42 624 263.25 626 268 C628 272.75 629.67 279.67 630 285 C630.33 290.33 628.33 297.5 628 300" stroke="#c9b88e" stroke-width="4.8" opacity="0.75"/>
<path d="M527.9 262.6 C529.5 260.13 533.57 251.3 537.5 247.8 C541.43 244.3 546.25 243.22 551.5 241.6 C556.75 239.98 563.17 238.97 569 238.1 C574.83 237.23 581.23 236.25 586.5 236.4 C591.77 236.55 596.52 237.4 600.6 239 C604.68 240.6 608.1 243.08 611 246 C613.9 248.92 616.83 254.75 618 256.5 M534 258.3 C536.33 257.13 542.75 253.05 548 251.3 C553.25 249.55 560.25 248.1 565.5 247.8 C570.75 247.5 574.83 248.92 579.5 249.5 C584.17 250.08 589.42 249.55 593.5 251.3 C597.58 253.05 602.25 258.55 604 260 M537.5 282.8 C539.83 282.22 546.83 280.18 551.5 279.3 C556.17 278.42 560.83 277.22 565.5 277.5 C570.17 277.78 574.83 281 579.5 281 C584.17 281 588.82 279.25 593.5 277.5 C598.18 275.75 605.25 271.67 607.6 270.5 M537.5 274 C537.8 277.5 537.55 288.57 539.3 295 C541.05 301.43 544.8 307.6 548 312.6 C551.2 317.6 556.75 322.93 558.5 325 M562 291.5 C563.17 294.13 567.25 301.72 569 307.3 C570.75 312.88 571.92 322.05 572.5 325 M593.5 282.8 C594.08 285.42 594.65 294.7 597 298.5 C599.35 302.3 604.1 305.02 607.6 305.6 C611.1 306.18 615.1 304.35 618 302 C620.9 299.65 623.83 293.25 625 291.5 M527 263.5 C526.72 266.72 524.72 276.67 525.3 282.8 C525.88 288.93 528.17 294.77 530.5 300.3 C532.83 305.83 537.83 313.38 539.3 316 M618 256.5 C619.33 258.42 624 263.25 626 268 C628 272.75 629.67 279.67 630 285 C630.33 290.33 628.33 297.5 628 300" stroke="#f0ebdc" stroke-width="2.4" opacity="0.9"/>
</g>
<g filter="url(#bl05)" fill="none" stroke="#cbbd96" stroke-linecap="round" opacity="0.8">
<path d="M630 268 C650 262 670 268 683 278" stroke-width="1.8"/>
<path d="M628 306 C648 303 668 310 683 325" stroke-width="1.8"/>
</g>
<path d="M504.8 247.7 L520.9 251 L520.9 265.5 L504.8 262.5 Z" fill="#50565e"/>
</g>
<g clip-path="url(#cfi)">
<rect x="553.3" y="324.4" width="128.9" height="97.6" fill="#d2c7be"/>
<g filter="url(#bl2)">
<path d="M572 330 C590 340 603 350 603 365 C603 380 596 400 604 422 L640 422 C632 400 642 380 650 360 C660 345 670 335 683 330 L683 324 L560 324 Z" fill="#ddd6d0" opacity="0.75"/>
<ellipse cx="670" cy="398" rx="16" ry="26" fill="#e4e8ec" opacity="0.8"/>
<ellipse cx="595" cy="416" rx="24" ry="10" fill="#e8e4e0" opacity="0.7"/>
</g>
<g filter="url(#bl1)" fill="none">
<path d="M575 327 C562 342 561 372 570 392 C578 408 590 418 602 424" stroke="#ebe3a4" stroke-width="6"/>
<path d="M582 334 C572 350 572 372 580 390" stroke="#efe9c0" stroke-width="2.5" opacity="0.8"/>
<path d="M632 328 C642 350 632 380 646 404 C651 414 656 420 660 424" stroke="#e6deae" stroke-width="4.5" opacity="0.8"/>
<path d="M617 322 C616 340 610 352 612 368 C614 384 616 398 624 410 C628 416 630 420 631 424" stroke="#efeeeb" stroke-width="15" opacity="0.95"/>
</g>
<g opacity="0.5" stroke="#9a8e80" stroke-width="1.2">
<line x1="608" y1="366" x2="621" y2="367"/>
<line x1="608" y1="370" x2="621" y2="371"/>
<line x1="608" y1="378" x2="621" y2="379"/>
<line x1="608" y1="382" x2="621" y2="383"/>
</g>
<circle cx="615.6" cy="374.3" r="2.7" fill="#6a3a10"/>
</g>
<rect x="554.3" y="325.4" width="127" height="95.6" fill="none" stroke="#000" stroke-width="2" stroke-dasharray="6 2.5 1.8 2.5"/>
<rect x="609.5" y="259.5" width="22" height="13.6" fill="none" stroke="#000" stroke-width="1.6" stroke-dasharray="4 2"/>
<path d="M609.5 273 L555 324.5 M631.5 273 L682 324.5" stroke="#000" stroke-width="1.6" stroke-dasharray="5 3" fill="none"/>
<text x="546" y="271.4" font-size="10.1">Heart model</text>
<text x="571.3" y="344.2" font-size="10.1">3-mm coronary vessel</text>
<text x="0" y="445.4" font-size="14" font-weight="bold" fill="#000">g</text>
<polygon points="60.4,475.72 60.75,475.79 61.11,475.86 61.46,475.94 61.82,476.01 62.17,476.09 62.53,476.16 62.88,476.24 63.24,476.32 63.59,476.4 63.95,476.49 64.3,476.57 64.66,476.66 65.01,476.74 65.37,476.83 65.72,476.92 66.08,477.01 66.44,477.11 66.79,477.2 67.15,477.3 67.5,477.4 67.86,477.5 68.21,477.6 68.57,477.7 68.92,477.81 69.28,477.92 69.63,478.03 69.99,478.14 70.34,478.25 70.7,478.37 71.05,478.49 71.41,478.61 71.76,478.73 72.12,478.86 72.47,478.99 72.83,479.12 73.18,479.25 73.54,479.39 73.89,479.53 74.25,479.67 74.61,479.81 74.96,479.96 75.32,480.11 75.67,480.27 76.03,480.43 76.38,480.59 76.74,480.75 77.09,480.92 77.45,481.09 77.8,481.27 78.16,481.45 78.51,481.63 78.87,481.82 79.22,482.02 79.58,482.21 79.93,482.42 80.29,482.62 80.64,482.83 81,483.05 81.35,483.27 81.71,483.5 82.06,483.73 82.42,483.97 82.78,484.22 83.13,484.47 83.49,484.72 83.84,484.99 84.2,485.26 84.55,485.53 84.91,485.82 85.26,486.11 85.62,486.41 85.97,486.72 86.33,487.03 86.68,487.35 87.04,487.69 87.39,488.03 87.75,488.38 88.1,488.74 88.46,489.11 88.81,489.49 89.17,489.88 89.52,490.29 89.88,490.7 90.23,491.13 90.59,491.57 90.95,492.02 91.3,492.48 91.66,492.96 92.01,493.45 92.37,493.96 92.72,494.48 93.08,495.02 93.43,495.57 93.79,496.15 94.14,496.74 94.5,497.34 94.85,497.97 95.21,498.61 95.56,499.28 95.92,499.97 96.27,500.68 96.63,501.41 96.98,502.16 97.34,502.94 97.69,503.74 98.05,504.57 98.4,505.43 98.76,506.31 99.12,507.22 99.47,508.16 99.83,509.13 100.18,510.14 100.54,511.17 100.89,512.24 101.25,513.34 101.6,514.48 101.96,515.65 102.31,516.86 102.67,518.11 103.02,519.39 103.38,520.72 103.73,522.08 104.09,523.49 104.44,524.93 104.8,526.42 105.15,527.95 105.51,529.52 105.86,531.14 106.22,532.79 106.57,534.49 106.93,536.22 107.29,538 107.64,539.81 108,541.65 108.35,543.53 108.71,545.45 109.06,547.39 109.42,549.35 109.77,551.33 110.13,553.33 110.48,555.34 110.84,557.35 111.19,559.36 111.55,561.36 111.9,563.34 112.26,565.3 112.61,567.22 112.97,569.1 113.32,570.93 113.68,572.69 114.03,574.38 114.39,575.98 114.74,577.49 115.1,578.89 115.46,580.17 115.81,581.33 116.17,582.36 116.52,583.25 116.88,583.98 117.23,584.56 117.59,584.98 117.94,585.23 118.3,585.32 118.65,585.27 119.01,585.1 119.36,584.81 119.72,584.41 120.07,583.89 120.43,583.27 120.78,582.54 121.14,581.7 121.49,580.78 121.85,579.76 122.2,578.65 122.56,577.47 122.91,576.21 123.27,574.88 123.63,573.49 123.98,572.05 124.34,570.56 124.69,569.02 125.05,567.45 125.4,565.85 125.76,564.22 126.11,562.57 126.47,560.9 126.82,559.23 127.18,557.55 127.53,555.86 127.89,554.18 128.24,552.51 128.6,550.84 128.95,549.19 129.31,547.55 129.66,545.93 130.02,544.33 130.37,542.75 130.73,541.19 131.08,539.66 131.44,538.15 131.8,536.67 132.15,535.21 132.51,533.79 132.86,532.39 133.22,531.02 133.57,529.68 133.93,528.38 134.28,527.1 134.64,525.85 134.99,524.63 135.35,523.43 135.7,522.27 136.06,521.14 136.41,520.03 136.77,518.95 137.12,517.9 137.48,516.88 137.83,515.88 138.19,514.91 138.54,513.96 138.9,513.04 139.25,512.15 139.61,511.27 139.97,510.42 140.32,509.6 140.68,508.79 141.03,508.01 141.39,507.24 141.74,506.5 142.1,505.78 142.45,505.07 142.81,504.39 143.16,503.72 143.52,503.07 143.87,502.44 144.23,501.82 144.58,501.23 144.94,500.64 145.29,500.07 145.65,499.52 146,498.98 146.36,498.46 146.71,497.95 147.07,497.45 147.42,496.96 147.78,496.49 148.14,496.03 148.49,495.58 148.85,495.14 149.2,494.72 149.56,494.3 149.91,493.89 150.27,493.5 150.62,493.11 150.98,492.74 151.33,492.37 151.69,492.01 152.04,491.66 152.4,491.32 152.75,490.99 153.11,490.67 153.46,490.35 153.82,490.04 154.17,489.74 154.53,489.44 154.88,489.16 155.24,488.87 155.6,488.6 155.95,488.33 156.31,488.07 156.66,487.81 157.02,487.56 157.37,487.32 157.73,487.08 158.08,486.84 158.44,486.62 158.79,486.39 159.15,486.17 159.5,485.96 159.86,485.75 160.21,485.55 160.57,485.34 160.92,485.15 161.28,484.96 161.63,484.77 161.99,484.59 162.34,484.41 162.7,484.23 163.05,484.06 163.41,483.89 163.77,483.72 164.12,483.56 164.48,483.4 164.83,483.25 165.19,483.09 165.54,482.95 165.9,482.8 166.25,482.66 166.61,482.52 166.96,482.38 167.32,482.24 167.67,482.11 168.03,481.98 168.38,481.85 168.74,481.73 169.09,481.61 169.45,481.49 169.8,481.37 170.16,481.25 170.51,481.14 170.87,481.03 171.22,480.92 171.58,480.81 171.94,480.71 172.29,480.61 172.65,480.5 173,480.41 173.36,480.31 173.71,480.21 174.07,480.12 174.42,480.03 174.78,479.94 175.13,479.85 175.49,479.76 175.84,479.67 176.2,479.59 176.55,479.51 176.91,479.42 177.26,479.34 177.62,479.27 177.97,479.19 178.33,479.11 178.68,479.04 179.04,478.96 179.39,478.89 179.75,478.82 180.11,478.75 180.46,478.68 180.82,478.62 181.17,478.55 181.53,478.49 181.88,478.42 182.24,478.36 182.59,478.3 182.95,478.24 183.3,478.18 183.66,478.12 184.01,478.06 184.37,478 184.72,477.95 185.08,477.89 185.43,477.84 185.79,477.78 186.14,477.73 186.5,477.68 186.85,477.63 187.21,477.58 187.56,477.53 187.92,477.48 188.28,477.43 188.63,477.39 188.99,477.34 189.34,477.29 189.7,477.25 190.05,477.21 190.41,477.16 190.76,477.12 191.12,477.08 191.47,477.04 191.83,477 192.18,476.96 192.54,476.92 192.89,476.88 193.25,476.84 193.6,476.8 193.96,476.76 194.31,476.73 194.67,476.69 195.02,476.66 195.38,476.62 195.73,476.59 196.09,476.55 196.45,476.52 196.8,476.49 197.16,476.45 197.51,476.42 197.87,476.39 198.22,476.36 198.58,476.33 198.93,476.3 199.29,476.27 199.64,476.24 200,476.21 200.35,476.18 200.71,476.15 201.06,476.13 201.42,476.1 201.77,476.07 202.13,476.05 202.48,476.02 202.48,476.1 202.13,476.14 201.77,476.62 201.42,476.69 201.06,476.34 200.71,476.49 200.35,476.56 200,476.53 199.64,476.46 199.29,476.84 198.93,476.82 198.58,476.58 198.22,477.02 197.87,476.42 197.51,477.11 197.16,476.61 196.8,476.92 196.45,476.99 196.09,476.65 195.73,477.17 195.38,477.24 195.02,477.46 194.67,476.71 194.31,477.43 193.96,476.64 193.6,477 193.25,477.49 192.89,477.4 192.54,477.28 192.18,476.88 191.83,477.01 191.47,477.46 191.12,477.83 190.76,477.51 190.41,477.77 190.05,477.14 189.7,477.15 189.34,477.77 188.99,477.69 188.63,478.24 188.28,477.64 187.92,477.9 187.56,477.88 187.21,477.69 186.85,478.16 186.5,478.1 186.14,477.68 185.79,478.73 185.43,478.18 185.08,478.35 184.72,478.38 184.37,478.79 184.01,478.47 183.66,478.59 183.3,478.19 182.95,478.38 182.59,479.12 182.24,478.47 181.88,478.6 181.53,479.15 181.17,479.3 180.82,479.12 180.46,478.9 180.11,479.31 179.75,479.27 179.39,479.25 179.04,479.8 178.68,479.63 178.33,480.04 177.97,480.26 177.62,479.45 177.26,480.02 176.91,479.63 176.55,480 176.2,479.93 175.84,480.15 175.49,480.47 175.13,480.95 174.78,481.06 174.42,480.49 174.07,481.07 173.71,481.35 173.36,480.8 173,481.68 172.65,481.02 172.29,481.95 171.94,481.59 171.58,481.42 171.22,481.77 170.87,482.01 170.51,482.51 170.16,482.36 169.8,481.97 169.45,482.05 169.09,482.8 168.74,482.45 168.38,482.86 168.03,482.55 167.67,482.7 167.32,482.93 166.96,483.81 166.61,483.44 166.25,483.69 165.9,483.67 165.54,483.94 165.19,484.65 164.83,484.36 164.48,484.74 164.12,484.42 163.77,484.77 163.41,484.88 163.05,485.4 162.7,485.8 162.34,485.45 161.99,485.96 161.63,486.36 161.28,486.91 160.92,486.52 160.57,486.53 160.21,487.65 159.86,487.04 159.5,487.4 159.15,488.07 158.79,487.95 158.44,488.37 158.08,488.73 157.73,488.83 157.37,489.48 157.02,489.85 156.66,490.24 156.31,489.99 155.95,490.55 155.6,491.35 155.24,491.51 154.88,491.53 154.53,492.16 154.17,492.01 153.82,492.08 153.46,492.61 153.11,493.15 152.75,493.57 152.4,494.16 152.04,494.37 151.69,495.4 151.33,495.74 150.98,496.08 150.62,495.91 150.27,497.22 149.91,497.24 149.56,498.07 149.2,498.69 148.85,498.4 148.49,499.43 148.14,499.7 147.78,500.12 147.42,501.39 147.07,501.11 146.71,502.59 146.36,503.17 146,503.41 145.65,503.51 145.29,504.34 144.94,505.58 144.58,506.1 144.23,506.69 143.87,507.66 143.52,508.64 143.16,509.37 142.81,510 142.45,511.13 142.1,511.87 141.74,512.05 141.39,513.21 141.03,513.99 140.68,514.96 140.32,516.29 139.97,517.68 139.61,518.52 139.25,519.3 138.9,520.6 138.54,521.2 138.19,522.31 137.83,523.59 137.48,525.19 137.12,526.66 136.77,527.43 136.41,529.08 136.06,529.81 135.7,531.63 135.35,532.78 134.99,533.94 134.64,536.15 134.28,537.58 133.93,538.58 133.57,540.49 133.22,542.34 132.86,543.66 132.51,544.56 132.15,546.49 131.8,548.25 131.44,549.7 131.08,551.85 130.73,553.27 130.37,554.84 130.02,557.13 129.66,558.08 129.31,560.47 128.95,561.37 128.6,563.47 128.24,564.98 127.89,566.47 127.53,568.45 127.18,569.68 126.82,571.07 126.47,572.46 126.11,574.29 125.76,576.27 125.4,577.06 125.05,578.36 124.69,579.76 124.34,580.62 123.98,581.71 123.63,582.34 123.27,583.25 122.91,584.38 122.56,584.54 122.2,585.02 121.85,585.66 121.49,586.3 121.14,585.88 120.78,586.06 120.43,586.07 120.07,585.77 119.72,585.18 119.36,584.77 119.01,584.23 118.65,583.83 118.3,581.82 117.94,581.36 117.59,579.63 117.23,578.48 116.88,576.8 116.52,575.82 116.17,573.14 115.81,571.63 115.46,569.57 115.1,568.61 114.74,566.65 114.39,564.57 114.03,562.1 113.68,559.97 113.32,557.98 112.97,555.61 112.61,553.68 112.26,552.21 111.9,550.45 111.55,548.01 111.19,546.27 110.84,544.54 110.48,542.76 110.13,540.5 109.77,538.85 109.42,537.33 109.06,535.38 108.71,532.92 108.35,531.92 108,529.94 107.64,528.11 107.29,526.87 106.93,525.71 106.57,524.42 106.22,522.32 105.86,521.51 105.51,520.05 105.15,518.44 104.8,516.94 104.44,516.31 104.09,514.66 103.73,514 103.38,512.13 103.02,512.02 102.67,510.91 102.31,509.57 101.96,508.4 101.6,507.15 101.25,506.16 100.89,506.06 100.54,504.42 100.18,503.79 99.83,503.56 99.47,502.71 99.12,501.35 98.76,500.52 98.4,500.6 98.05,499.87 97.69,498.49 97.34,498.14 96.98,497.6 96.63,496.49 96.27,496.43 95.92,495.94 95.56,495.14 95.21,494.97 94.85,494.09 94.5,494.09 94.14,493.61 93.79,492.9 93.43,492.39 93.08,491.47 92.72,491.57 92.37,491.19 92.01,489.95 91.66,490.48 91.3,489.52 90.95,488.91 90.59,489.02 90.23,488.85 89.88,487.79 89.52,488.05 89.17,487.19 88.81,486.69 88.46,487.1 88.1,486.85 87.75,486.33 87.39,486.36 87.04,485.52 86.68,485.78 86.33,484.88 85.97,485.18 85.62,484.65 85.26,484.28 84.91,484.43 84.55,483.54 84.2,484.08 83.84,483.81 83.49,483.43 83.13,483.35 82.78,482.46 82.42,482.04 82.06,482.5 81.71,482.55 81.35,482.17 81,481.45 80.64,481.42 80.29,481.82 79.93,481.3 79.58,480.52 79.22,480.88 78.87,480.25 78.51,480.82 78.16,480.88 77.8,479.84 77.45,479.57 77.09,480.02 76.74,479.39 76.38,479.72 76.03,479.19 75.67,479.78 75.32,479.42 74.96,479.35 74.61,479.13 74.25,478.59 73.89,478.33 73.54,478.04 73.18,477.92 72.83,478.56 72.47,478.25 72.12,477.93 71.76,477.99 71.41,477.73 71.05,477.75 70.7,477.31 70.34,477.62 69.99,477.5 69.63,477.85 69.28,477.53 68.92,477.49 68.57,477.54 68.21,476.95 67.86,477.4 67.5,477.16 67.15,476.59 66.79,476.47 66.44,476.06 66.08,475.96 65.72,476.86 65.37,476.1 65.01,475.9 64.66,476.57 64.3,476.27 63.95,476.41 63.59,475.61 63.24,475.71 62.88,475.76 62.53,476.03 62.17,475.54 61.82,475.55 61.46,475.53 61.11,474.98 60.75,475.3 60.4,475.35" fill="#c8c8c8" opacity="0.9"/>
<polyline points="60.4,475.35 60.75,475.3 61.11,474.98 61.46,475.53 61.82,475.55 62.17,475.54 62.53,476.03 62.88,475.76 63.24,475.71 63.59,475.61 63.95,476.41 64.3,476.27 64.66,476.57 65.01,475.9 65.37,476.1 65.72,476.86 66.08,475.96 66.44,476.06 66.79,476.47 67.15,476.59 67.5,477.16 67.86,477.4 68.21,476.95 68.57,477.54 68.92,477.49 69.28,477.53 69.63,477.85 69.99,477.5 70.34,477.62 70.7,477.31 71.05,477.75 71.41,477.73 71.76,477.99 72.12,477.93 72.47,478.25 72.83,478.56 73.18,477.92 73.54,478.04 73.89,478.33 74.25,478.59 74.61,479.13 74.96,479.35 75.32,479.42 75.67,479.78 76.03,479.19 76.38,479.72 76.74,479.39 77.09,480.02 77.45,479.57 77.8,479.84 78.16,480.88 78.51,480.82 78.87,480.25 79.22,480.88 79.58,480.52 79.93,481.3 80.29,481.82 80.64,481.42 81,481.45 81.35,482.17 81.71,482.55 82.06,482.5 82.42,482.04 82.78,482.46 83.13,483.35 83.49,483.43 83.84,483.81 84.2,484.08 84.55,483.54 84.91,484.43 85.26,484.28 85.62,484.65 85.97,485.18 86.33,484.88 86.68,485.78 87.04,485.52 87.39,486.36 87.75,486.33 88.1,486.85 88.46,487.1 88.81,486.69 89.17,487.19 89.52,488.05 89.88,487.79 90.23,488.85 90.59,489.02 90.95,488.91 91.3,489.52 91.66,490.48 92.01,489.95 92.37,491.19 92.72,491.57 93.08,491.47 93.43,492.39 93.79,492.9 94.14,493.61 94.5,494.09 94.85,494.09 95.21,494.97 95.56,495.14 95.92,495.94 96.27,496.43 96.63,496.49 96.98,497.6 97.34,498.14 97.69,498.49 98.05,499.87 98.4,500.6 98.76,500.52 99.12,501.35 99.47,502.71 99.83,503.56 100.18,503.79 100.54,504.42 100.89,506.06 101.25,506.16 101.6,507.15 101.96,508.4 102.31,509.57 102.67,510.91 103.02,512.02 103.38,512.13 103.73,514 104.09,514.66 104.44,516.31 104.8,516.94 105.15,518.44 105.51,520.05 105.86,521.51 106.22,522.32 106.57,524.42 106.93,525.71 107.29,526.87 107.64,528.11 108,529.94 108.35,531.92 108.71,532.92 109.06,535.38 109.42,537.33 109.77,538.85 110.13,540.5 110.48,542.76 110.84,544.54 111.19,546.27 111.55,548.01 111.9,550.45 112.26,552.21 112.61,553.68 112.97,555.61 113.32,557.98 113.68,559.97 114.03,562.1 114.39,564.57 114.74,566.65 115.1,568.61 115.46,569.57 115.81,571.63 116.17,573.14 116.52,575.82 116.88,576.8 117.23,578.48 117.59,579.63 117.94,581.36 118.3,581.82 118.65,583.83 119.01,584.23 119.36,584.77 119.72,585.18 120.07,585.77 120.43,586.07 120.78,586.06 121.14,585.88 121.49,586.3 121.85,585.66 122.2,585.02 122.56,584.54 122.91,584.38 123.27,583.25 123.63,582.34 123.98,581.71 124.34,580.62 124.69,579.76 125.05,578.36 125.4,577.06 125.76,576.27 126.11,574.29 126.47,572.46 126.82,571.07 127.18,569.68 127.53,568.45 127.89,566.47 128.24,564.98 128.6,563.47 128.95,561.37 129.31,560.47 129.66,558.08 130.02,557.13 130.37,554.84 130.73,553.27 131.08,551.85 131.44,549.7 131.8,548.25 132.15,546.49 132.51,544.56 132.86,543.66 133.22,542.34 133.57,540.49 133.93,538.58 134.28,537.58 134.64,536.15 134.99,533.94 135.35,532.78 135.7,531.63 136.06,529.81 136.41,529.08 136.77,527.43 137.12,526.66 137.48,525.19 137.83,523.59 138.19,522.31 138.54,521.2 138.9,520.6 139.25,519.3 139.61,518.52 139.97,517.68 140.32,516.29 140.68,514.96 141.03,513.99 141.39,513.21 141.74,512.05 142.1,511.87 142.45,511.13 142.81,510 143.16,509.37 143.52,508.64 143.87,507.66 144.23,506.69 144.58,506.1 144.94,505.58 145.29,504.34 145.65,503.51 146,503.41 146.36,503.17 146.71,502.59 147.07,501.11 147.42,501.39 147.78,500.12 148.14,499.7 148.49,499.43 148.85,498.4 149.2,498.69 149.56,498.07 149.91,497.24 150.27,497.22 150.62,495.91 150.98,496.08 151.33,495.74 151.69,495.4 152.04,494.37 152.4,494.16 152.75,493.57 153.11,493.15 153.46,492.61 153.82,492.08 154.17,492.01 154.53,492.16 154.88,491.53 155.24,491.51 155.6,491.35 155.95,490.55 156.31,489.99 156.66,490.24 157.02,489.85 157.37,489.48 157.73,488.83 158.08,488.73 158.44,488.37 158.79,487.95 159.15,488.07 159.5,487.4 159.86,487.04 160.21,487.65 160.57,486.53 160.92,486.52 161.28,486.91 161.63,486.36 161.99,485.96 162.34,485.45 162.7,485.8 163.05,485.4 163.41,484.88 163.77,484.77 164.12,484.42 164.48,484.74 164.83,484.36 165.19,484.65 165.54,483.94 165.9,483.67 166.25,483.69 166.61,483.44 166.96,483.81 167.32,482.93 167.67,482.7 168.03,482.55 168.38,482.86 168.74,482.45 169.09,482.8 169.45,482.05 169.8,481.97 170.16,482.36 170.51,482.51 170.87,482.01 171.22,481.77 171.58,481.42 171.94,481.59 172.29,481.95 172.65,481.02 173,481.68 173.36,480.8 173.71,481.35 174.07,481.07 174.42,480.49 174.78,481.06 175.13,480.95 175.49,480.47 175.84,480.15 176.2,479.93 176.55,480 176.91,479.63 177.26,480.02 177.62,479.45 177.97,480.26 178.33,480.04 178.68,479.63 179.04,479.8 179.39,479.25 179.75,479.27 180.11,479.31 180.46,478.9 180.82,479.12 181.17,479.3 181.53,479.15 181.88,478.6 182.24,478.47 182.59,479.12 182.95,478.38 183.3,478.19 183.66,478.59 184.01,478.47 184.37,478.79 184.72,478.38 185.08,478.35 185.43,478.18 185.79,478.73 186.14,477.68 186.5,478.1 186.85,478.16 187.21,477.69 187.56,477.88 187.92,477.9 188.28,477.64 188.63,478.24 188.99,477.69 189.34,477.77 189.7,477.15 190.05,477.14 190.41,477.77 190.76,477.51 191.12,477.83 191.47,477.46 191.83,477.01 192.18,476.88 192.54,477.28 192.89,477.4 193.25,477.49 193.6,477 193.96,476.64 194.31,477.43 194.67,476.71 195.02,477.46 195.38,477.24 195.73,477.17 196.09,476.65 196.45,476.99 196.8,476.92 197.16,476.61 197.51,477.11 197.87,476.42 198.22,477.02 198.58,476.58 198.93,476.82 199.29,476.84 199.64,476.46 200,476.53 200.35,476.56 200.71,476.49 201.06,476.34 201.42,476.69 201.77,476.62 202.13,476.14 202.48,476.1" fill="none" stroke="#5b6ef5" stroke-width="1.5" stroke-linejoin="round"/>
<polyline points="60.4,475.72 60.75,475.79 61.11,475.86 61.46,475.94 61.82,476.01 62.17,476.09 62.53,476.16 62.88,476.24 63.24,476.32 63.59,476.4 63.95,476.49 64.3,476.57 64.66,476.66 65.01,476.74 65.37,476.83 65.72,476.92 66.08,477.01 66.44,477.11 66.79,477.2 67.15,477.3 67.5,477.4 67.86,477.5 68.21,477.6 68.57,477.7 68.92,477.81 69.28,477.92 69.63,478.03 69.99,478.14 70.34,478.25 70.7,478.37 71.05,478.49 71.41,478.61 71.76,478.73 72.12,478.86 72.47,478.99 72.83,479.12 73.18,479.25 73.54,479.39 73.89,479.53 74.25,479.67 74.61,479.81 74.96,479.96 75.32,480.11 75.67,480.27 76.03,480.43 76.38,480.59 76.74,480.75 77.09,480.92 77.45,481.09 77.8,481.27 78.16,481.45 78.51,481.63 78.87,481.82 79.22,482.02 79.58,482.21 79.93,482.42 80.29,482.62 80.64,482.83 81,483.05 81.35,483.27 81.71,483.5 82.06,483.73 82.42,483.97 82.78,484.22 83.13,484.47 83.49,484.72 83.84,484.99 84.2,485.26 84.55,485.53 84.91,485.82 85.26,486.11 85.62,486.41 85.97,486.72 86.33,487.03 86.68,487.35 87.04,487.69 87.39,488.03 87.75,488.38 88.1,488.74 88.46,489.11 88.81,489.49 89.17,489.88 89.52,490.29 89.88,490.7 90.23,491.13 90.59,491.57 90.95,492.02 91.3,492.48 91.66,492.96 92.01,493.45 92.37,493.96 92.72,494.48 93.08,495.02 93.43,495.57 93.79,496.15 94.14,496.74 94.5,497.34 94.85,497.97 95.21,498.61 95.56,499.28 95.92,499.97 96.27,500.68 96.63,501.41 96.98,502.16 97.34,502.94 97.69,503.74 98.05,504.57 98.4,505.43 98.76,506.31 99.12,507.22 99.47,508.16 99.83,509.13 100.18,510.14 100.54,511.17 100.89,512.24 101.25,513.34 101.6,514.48 101.96,515.65 102.31,516.86 102.67,518.11 103.02,519.39 103.38,520.72 103.73,522.08 104.09,523.49 104.44,524.93 104.8,526.42 105.15,527.95 105.51,529.52 105.86,531.14 106.22,532.79 106.57,534.49 106.93,536.22 107.29,538 107.64,539.81 108,541.65 108.35,543.53 108.71,545.45 109.06,547.39 109.42,549.35 109.77,551.33 110.13,553.33 110.48,555.34 110.84,557.35 111.19,559.36 111.55,561.36 111.9,563.34 112.26,565.3 112.61,567.22 112.97,569.1 113.32,570.93 113.68,572.69 114.03,574.38 114.39,575.98 114.74,577.49 115.1,578.89 115.46,580.17 115.81,581.33 116.17,582.36 116.52,583.25 116.88,583.98 117.23,584.56 117.59,584.98 117.94,585.23 118.3,585.32 118.65,585.27 119.01,585.1 119.36,584.81 119.72,584.41 120.07,583.89 120.43,583.27 120.78,582.54 121.14,581.7 121.49,580.78 121.85,579.76 122.2,578.65 122.56,577.47 122.91,576.21 123.27,574.88 123.63,573.49 123.98,572.05 124.34,570.56 124.69,569.02 125.05,567.45 125.4,565.85 125.76,564.22 126.11,562.57 126.47,560.9 126.82,559.23 127.18,557.55 127.53,555.86 127.89,554.18 128.24,552.51 128.6,550.84 128.95,549.19 129.31,547.55 129.66,545.93 130.02,544.33 130.37,542.75 130.73,541.19 131.08,539.66 131.44,538.15 131.8,536.67 132.15,535.21 132.51,533.79 132.86,532.39 133.22,531.02 133.57,529.68 133.93,528.38 134.28,527.1 134.64,525.85 134.99,524.63 135.35,523.43 135.7,522.27 136.06,521.14 136.41,520.03 136.77,518.95 137.12,517.9 137.48,516.88 137.83,515.88 138.19,514.91 138.54,513.96 138.9,513.04 139.25,512.15 139.61,511.27 139.97,510.42 140.32,509.6 140.68,508.79 141.03,508.01 141.39,507.24 141.74,506.5 142.1,505.78 142.45,505.07 142.81,504.39 143.16,503.72 143.52,503.07 143.87,502.44 144.23,501.82 144.58,501.23 144.94,500.64 145.29,500.07 145.65,499.52 146,498.98 146.36,498.46 146.71,497.95 147.07,497.45 147.42,496.96 147.78,496.49 148.14,496.03 148.49,495.58 148.85,495.14 149.2,494.72 149.56,494.3 149.91,493.89 150.27,493.5 150.62,493.11 150.98,492.74 151.33,492.37 151.69,492.01 152.04,491.66 152.4,491.32 152.75,490.99 153.11,490.67 153.46,490.35 153.82,490.04 154.17,489.74 154.53,489.44 154.88,489.16 155.24,488.87 155.6,488.6 155.95,488.33 156.31,488.07 156.66,487.81 157.02,487.56 157.37,487.32 157.73,487.08 158.08,486.84 158.44,486.62 158.79,486.39 159.15,486.17 159.5,485.96 159.86,485.75 160.21,485.55 160.57,485.34 160.92,485.15 161.28,484.96 161.63,484.77 161.99,484.59 162.34,484.41 162.7,484.23 163.05,484.06 163.41,483.89 163.77,483.72 164.12,483.56 164.48,483.4 164.83,483.25 165.19,483.09 165.54,482.95 165.9,482.8 166.25,482.66 166.61,482.52 166.96,482.38 167.32,482.24 167.67,482.11 168.03,481.98 168.38,481.85 168.74,481.73 169.09,481.61 169.45,481.49 169.8,481.37 170.16,481.25 170.51,481.14 170.87,481.03 171.22,480.92 171.58,480.81 171.94,480.71 172.29,480.61 172.65,480.5 173,480.41 173.36,480.31 173.71,480.21 174.07,480.12 174.42,480.03 174.78,479.94 175.13,479.85 175.49,479.76 175.84,479.67 176.2,479.59 176.55,479.51 176.91,479.42 177.26,479.34 177.62,479.27 177.97,479.19 178.33,479.11 178.68,479.04 179.04,478.96 179.39,478.89 179.75,478.82 180.11,478.75 180.46,478.68 180.82,478.62 181.17,478.55 181.53,478.49 181.88,478.42 182.24,478.36 182.59,478.3 182.95,478.24 183.3,478.18 183.66,478.12 184.01,478.06 184.37,478 184.72,477.95 185.08,477.89 185.43,477.84 185.79,477.78 186.14,477.73 186.5,477.68 186.85,477.63 187.21,477.58 187.56,477.53 187.92,477.48 188.28,477.43 188.63,477.39 188.99,477.34 189.34,477.29 189.7,477.25 190.05,477.21 190.41,477.16 190.76,477.12 191.12,477.08 191.47,477.04 191.83,477 192.18,476.96 192.54,476.92 192.89,476.88 193.25,476.84 193.6,476.8 193.96,476.76 194.31,476.73 194.67,476.69 195.02,476.66 195.38,476.62 195.73,476.59 196.09,476.55 196.45,476.52 196.8,476.49 197.16,476.45 197.51,476.42 197.87,476.39 198.22,476.36 198.58,476.33 198.93,476.3 199.29,476.27 199.64,476.24 200,476.21 200.35,476.18 200.71,476.15 201.06,476.13 201.42,476.1 201.77,476.07 202.13,476.05 202.48,476.02" fill="none" stroke="#cc1f1f" stroke-width="1.5" stroke-linejoin="round"/>
<rect x="42.6" y="455.2" width="178" height="143.4" fill="none" stroke="#111" stroke-width="1.3"/>
<line x1="60.4" y1="598.6" x2="60.4" y2="601.2" stroke="#111" stroke-width="1.0"/>
<line x1="95.92" y1="598.6" x2="95.92" y2="601.2" stroke="#111" stroke-width="1.0"/>
<line x1="131.44" y1="598.6" x2="131.44" y2="601.2" stroke="#111" stroke-width="1.0"/>
<line x1="166.96" y1="598.6" x2="166.96" y2="601.2" stroke="#111" stroke-width="1.0"/>
<line x1="202.48" y1="598.6" x2="202.48" y2="601.2" stroke="#111" stroke-width="1.0"/>
<line x1="42.64" y1="598.6" x2="42.64" y2="600.16" stroke="#111" stroke-width="1.0"/>
<line x1="78.16" y1="598.6" x2="78.16" y2="600.16" stroke="#111" stroke-width="1.0"/>
<line x1="113.68" y1="598.6" x2="113.68" y2="600.16" stroke="#111" stroke-width="1.0"/>
<line x1="149.2" y1="598.6" x2="149.2" y2="600.16" stroke="#111" stroke-width="1.0"/>
<line x1="184.72" y1="598.6" x2="184.72" y2="600.16" stroke="#111" stroke-width="1.0"/>
<line x1="220.24" y1="598.6" x2="220.24" y2="600.16" stroke="#111" stroke-width="1.0"/>
<text x="60.4" y="611.8" font-size="8.6" text-anchor="middle">30</text>
<text x="95.92" y="611.8" font-size="8.6" text-anchor="middle">35</text>
<text x="131.44" y="611.8" font-size="8.6" text-anchor="middle">40</text>
<text x="166.96" y="611.8" font-size="8.6" text-anchor="middle">45</text>
<text x="202.48" y="611.8" font-size="8.6" text-anchor="middle">50</text>
<line x1="40" y1="468.28" x2="42.6" y2="468.28" stroke="#111" stroke-width="1.0"/>
<line x1="40" y1="494.45" x2="42.6" y2="494.45" stroke="#111" stroke-width="1.0"/>
<line x1="40" y1="520.62" x2="42.6" y2="520.62" stroke="#111" stroke-width="1.0"/>
<line x1="40" y1="546.79" x2="42.6" y2="546.79" stroke="#111" stroke-width="1.0"/>
<line x1="40" y1="572.96" x2="42.6" y2="572.96" stroke="#111" stroke-width="1.0"/>
<line x1="40" y1="599.12" x2="42.6" y2="599.12" stroke="#111" stroke-width="1.0"/>
<line x1="41.04" y1="481.37" x2="42.6" y2="481.37" stroke="#111" stroke-width="1.0"/>
<line x1="41.04" y1="507.54" x2="42.6" y2="507.54" stroke="#111" stroke-width="1.0"/>
<line x1="41.04" y1="533.7" x2="42.6" y2="533.7" stroke="#111" stroke-width="1.0"/>
<line x1="41.04" y1="559.87" x2="42.6" y2="559.87" stroke="#111" stroke-width="1.0"/>
<line x1="41.04" y1="586.04" x2="42.6" y2="586.04" stroke="#111" stroke-width="1.0"/>
<text x="37.4" y="471.29" font-size="8.6" text-anchor="end">0.00</text>
<text x="37.4" y="497.46" font-size="8.6" text-anchor="end">&#8722;0.01</text>
<text x="37.4" y="523.63" font-size="8.6" text-anchor="end">&#8722;0.02</text>
<text x="37.4" y="549.8" font-size="8.6" text-anchor="end">&#8722;0.03</text>
<text x="37.4" y="575.97" font-size="8.6" text-anchor="end">&#8722;0.04</text>
<text x="37.4" y="602.13" font-size="8.6" text-anchor="end">&#8722;0.05</text>
<text x="131.6" y="625.6" font-size="8.8" text-anchor="middle">Frequency (MHz)</text>
<text x="7.8" y="527" font-size="8.8" text-anchor="middle" transform="rotate(-90 7.8 527)">S<tspan font-size="6" dy="2">11</tspan><tspan dy="-2"> (dB)</tspan></text>
<text x="232.9" y="445.4" font-size="14" font-weight="bold" fill="#000">h</text>
<polyline points="292,493.67 292.36,493.72 292.71,493.77 293.07,493.83 293.43,493.89 293.78,493.94 294.14,494 294.5,494.06 294.86,494.12 295.21,494.18 295.57,494.24 295.93,494.3 296.28,494.36 296.64,494.43 297,494.49 297.36,494.56 297.71,494.63 298.07,494.7 298.43,494.77 298.78,494.84 299.14,494.91 299.5,494.98 299.86,495.06 300.21,495.13 300.57,495.21 300.93,495.29 301.28,495.37 301.64,495.45 302,495.53 302.35,495.62 302.71,495.71 303.07,495.79 303.43,495.88 303.78,495.97 304.14,496.07 304.5,496.16 304.85,496.26 305.21,496.35 305.57,496.45 305.93,496.56 306.28,496.66 306.64,496.77 307,496.88 307.35,496.99 307.71,497.1 308.07,497.21 308.43,497.33 308.78,497.45 309.14,497.57 309.5,497.7 309.85,497.83 310.21,497.96 310.57,498.09 310.93,498.23 311.28,498.36 311.64,498.51 312,498.65 312.35,498.8 312.71,498.95 313.07,499.11 313.43,499.27 313.78,499.43 314.14,499.6 314.5,499.77 314.85,499.94 315.21,500.12 315.57,500.31 315.93,500.5 316.28,500.69 316.64,500.89 317,501.09 317.35,501.3 317.71,501.51 318.07,501.73 318.43,501.95 318.78,502.18 319.14,502.42 319.5,502.66 319.85,502.91 320.21,503.16 320.57,503.42 320.92,503.69 321.28,503.97 321.64,504.25 322,504.55 322.35,504.85 322.71,505.16 323.07,505.47 323.42,505.8 323.78,506.14 324.14,506.48 324.5,506.84 324.85,507.21 325.21,507.59 325.57,507.98 325.92,508.38 326.28,508.79 326.64,509.22 327,509.66 327.35,510.11 327.71,510.58 328.07,511.07 328.42,511.56 328.78,512.08 329.14,512.61 329.5,513.16 329.85,513.72 330.21,514.31 330.57,514.91 330.92,515.53 331.28,516.18 331.64,516.85 332,517.53 332.35,518.25 332.71,518.98 333.07,519.74 333.42,520.53 333.78,521.34 334.14,522.18 334.5,523.05 334.85,523.95 335.21,524.88 335.57,525.84 335.92,526.83 336.28,527.86 336.64,528.92 336.99,530.02 337.35,531.15 337.71,532.32 338.07,533.53 338.42,534.77 338.78,536.06 339.14,537.38 339.49,538.75 339.85,540.15 340.21,541.6 340.57,543.09 340.92,544.61 341.28,546.18 341.64,547.79 341.99,549.43 342.35,551.11 342.71,552.82 343.07,554.56 343.42,556.33 343.78,558.13 344.14,559.95 344.49,561.78 344.85,563.62 345.21,565.47 345.57,567.32 345.92,569.16 346.28,570.99 346.64,572.78 346.99,574.55 347.35,576.27 347.71,577.93 348.07,579.53 348.42,581.06 348.78,582.5 349.14,583.84 349.49,585.08 349.85,586.2 350.21,587.19 350.57,588.04 350.92,588.76 351.28,589.32 351.64,589.73 351.99,589.98 352.35,590.06 352.71,590.02 353.07,589.87 353.42,589.63 353.78,589.28 354.14,588.83 354.49,588.29 354.85,587.66 355.21,586.94 355.56,586.14 355.92,585.25 356.28,584.29 356.64,583.27 356.99,582.18 357.35,581.02 357.71,579.82 358.06,578.57 358.42,577.27 358.78,575.94 359.14,574.58 359.49,573.19 359.85,571.77 360.21,570.34 360.56,568.9 360.92,567.44 361.28,565.99 361.64,564.53 361.99,563.07 362.35,561.62 362.71,560.17 363.06,558.74 363.42,557.31 363.78,555.91 364.14,554.52 364.49,553.15 364.85,551.8 365.21,550.47 365.56,549.16 365.92,547.87 366.28,546.61 366.64,545.38 366.99,544.17 367.35,542.98 367.71,541.82 368.06,540.68 368.42,539.57 368.78,538.49 369.14,537.43 369.49,536.4 369.85,535.39 370.21,534.41 370.56,533.45 370.92,532.51 371.28,531.6 371.64,530.72 371.99,529.85 372.35,529.01 372.71,528.19 373.06,527.39 373.42,526.62 373.78,525.86 374.13,525.12 374.49,524.41 374.85,523.71 375.21,523.03 375.56,522.37 375.92,521.72 376.28,521.1 376.63,520.49 376.99,519.9 377.35,519.32 377.71,518.76 378.06,518.21 378.42,517.68 378.78,517.16 379.13,516.65 379.49,516.16 379.85,515.68 380.21,515.22 380.56,514.76 380.92,514.32 381.28,513.89 381.63,513.47 381.99,513.06 382.35,512.67 382.71,512.28 383.06,511.9 383.42,511.53 383.78,511.17 384.13,510.82 384.49,510.48 384.85,510.15 385.21,509.82 385.56,509.51 385.92,509.2 386.28,508.9 386.63,508.6 386.99,508.32 387.35,508.04 387.71,507.76 388.06,507.5 388.42,507.24 388.78,506.98 389.13,506.73 389.49,506.49 389.85,506.26 390.2,506.03 390.56,505.8 390.92,505.58 391.28,505.36 391.63,505.15 391.99,504.95 392.35,504.75 392.7,504.55 393.06,504.36 393.42,504.17 393.78,503.99 394.13,503.81 394.49,503.63 394.85,503.46 395.2,503.29 395.56,503.13 395.92,502.97 396.28,502.81 396.63,502.65 396.99,502.5 397.35,502.36 397.7,502.21 398.06,502.07 398.42,501.93 398.78,501.79 399.13,501.66 399.49,501.53 399.85,501.4 400.2,501.28 400.56,501.16 400.92,501.04 401.28,500.92 401.63,500.8 401.99,500.69 402.35,500.58 402.7,500.47 403.06,500.37 403.42,500.26 403.78,500.16 404.13,500.06 404.49,499.96 404.85,499.87 405.2,499.77 405.56,499.68 405.92,499.59 406.28,499.5 406.63,499.41 406.99,499.33 407.35,499.24 407.7,499.16 408.06,499.08 408.42,499 408.77,498.92 409.13,498.84 409.49,498.77 409.85,498.7 410.2,498.62 410.56,498.55 410.92,498.48 411.27,498.41 411.63,498.35 411.99,498.28 412.35,498.22 412.7,498.15 413.06,498.09 413.42,498.03 413.77,497.97 414.13,497.91 414.49,497.85 414.85,497.79 415.2,497.74 415.56,497.68 415.92,497.63 416.27,497.57 416.63,497.52 416.99,497.47 417.35,497.42 417.7,497.37 418.06,497.32 418.42,497.27 418.77,497.22 419.13,497.18 419.49,497.13 419.85,497.09 420.2,497.04 420.56,497 420.92,496.96 421.27,496.91 421.63,496.87 421.99,496.83 422.35,496.79 422.7,496.75 423.06,496.71 423.42,496.68 423.77,496.64 424.13,496.6 424.49,496.57 424.85,496.53 425.2,496.5 425.56,496.46 425.92,496.43 426.27,496.39 426.63,496.36 426.99,496.33 427.34,496.3 427.7,496.27 428.06,496.24 428.42,496.21 428.77,496.18 429.13,496.15 429.49,496.12 429.84,496.09 430.2,496.06 430.56,496.03 430.92,496.01 431.27,495.98 431.63,495.95 431.99,495.93 432.34,495.9 432.7,495.88 433.06,495.85 433.42,495.83 433.77,495.81 434.13,495.78 434.49,495.76 434.84,495.74" fill="none" stroke="#111111" stroke-width="1.3" stroke-linejoin="round"/>
<polyline points="292,494.08 292.36,494.14 292.71,494.2 293.07,494.26 293.43,494.32 293.78,494.38 294.14,494.44 294.5,494.51 294.86,494.57 295.21,494.64 295.57,494.7 295.93,494.77 296.28,494.84 296.64,494.91 297,494.98 297.36,495.05 297.71,495.12 298.07,495.2 298.43,495.27 298.78,495.35 299.14,495.43 299.5,495.51 299.86,495.59 300.21,495.67 300.57,495.75 300.93,495.84 301.28,495.92 301.64,496.01 302,496.1 302.35,496.19 302.71,496.29 303.07,496.38 303.43,496.48 303.78,496.58 304.14,496.68 304.5,496.78 304.85,496.88 305.21,496.99 305.57,497.1 305.93,497.21 306.28,497.32 306.64,497.43 307,497.55 307.35,497.67 307.71,497.79 308.07,497.91 308.43,498.04 308.78,498.17 309.14,498.3 309.5,498.43 309.85,498.57 310.21,498.71 310.57,498.86 310.93,499 311.28,499.15 311.64,499.3 312,499.46 312.35,499.62 312.71,499.78 313.07,499.95 313.43,500.12 313.78,500.29 314.14,500.47 314.5,500.66 314.85,500.84 315.21,501.03 315.57,501.23 315.93,501.43 316.28,501.64 316.64,501.85 317,502.06 317.35,502.28 317.71,502.51 318.07,502.74 318.43,502.98 318.78,503.22 319.14,503.47 319.5,503.73 319.85,503.99 320.21,504.26 320.57,504.54 320.92,504.83 321.28,505.12 321.64,505.42 322,505.73 322.35,506.04 322.71,506.37 323.07,506.7 323.42,507.04 323.78,507.4 324.14,507.76 324.5,508.13 324.85,508.52 325.21,508.91 325.57,509.32 325.92,509.74 326.28,510.17 326.64,510.61 327,511.07 327.35,511.54 327.71,512.02 328.07,512.52 328.42,513.03 328.78,513.56 329.14,514.11 329.5,514.67 329.85,515.25 330.21,515.84 330.57,516.46 330.92,517.09 331.28,517.75 331.64,518.42 332,519.11 332.35,519.83 332.71,520.57 333.07,521.33 333.42,522.12 333.78,522.93 334.14,523.77 334.5,524.63 334.85,525.52 335.21,526.43 335.57,527.38 335.92,528.35 336.28,529.35 336.64,530.38 336.99,531.45 337.35,532.54 337.71,533.66 338.07,534.82 338.42,536.01 338.78,537.23 339.14,538.49 339.49,539.77 339.85,541.09 340.21,542.44 340.57,543.82 340.92,545.23 341.28,546.67 341.64,548.14 341.99,549.64 342.35,551.15 342.71,552.7 343.07,554.26 343.42,555.83 343.78,557.42 344.14,559.02 344.49,560.63 344.85,562.23 345.21,563.83 345.57,565.42 345.92,567 346.28,568.55 346.64,570.07 346.99,571.55 347.35,572.99 347.71,574.37 348.07,575.7 348.42,576.95 348.78,578.13 349.14,579.23 349.49,580.24 349.85,581.14 350.21,581.94 350.57,582.63 350.92,583.21 351.28,583.66 351.64,583.99 351.99,584.19 352.35,584.26 352.71,584.22 353.07,584.1 353.42,583.88 353.78,583.58 354.14,583.2 354.49,582.74 354.85,582.19 355.21,581.57 355.56,580.87 355.92,580.11 356.28,579.27 356.64,578.38 356.99,577.43 357.35,576.42 357.71,575.37 358.06,574.27 358.42,573.13 358.78,571.96 359.14,570.75 359.49,569.52 359.85,568.27 360.21,566.99 360.56,565.7 360.92,564.4 361.28,563.1 361.64,561.78 361.99,560.47 362.35,559.16 362.71,557.85 363.06,556.55 363.42,555.25 363.78,553.97 364.14,552.7 364.49,551.44 364.85,550.19 365.21,548.97 365.56,547.76 365.92,546.57 366.28,545.4 366.64,544.25 366.99,543.12 367.35,542.01 367.71,540.92 368.06,539.86 368.42,538.82 368.78,537.79 369.14,536.8 369.49,535.82 369.85,534.86 370.21,533.93 370.56,533.02 370.92,532.13 371.28,531.26 371.64,530.41 371.99,529.58 372.35,528.78 372.71,527.99 373.06,527.22 373.42,526.47 373.78,525.74 374.13,525.03 374.49,524.34 374.85,523.66 375.21,523.01 375.56,522.36 375.92,521.74 376.28,521.13 376.63,520.54 376.99,519.96 377.35,519.39 377.71,518.85 378.06,518.31 378.42,517.79 378.78,517.28 379.13,516.79 379.49,516.3 379.85,515.83 380.21,515.37 380.56,514.93 380.92,514.49 381.28,514.07 381.63,513.65 381.99,513.25 382.35,512.86 382.71,512.47 383.06,512.1 383.42,511.73 383.78,511.38 384.13,511.03 384.49,510.69 384.85,510.36 385.21,510.04 385.56,509.72 385.92,509.42 386.28,509.12 386.63,508.82 386.99,508.54 387.35,508.26 387.71,507.99 388.06,507.72 388.42,507.46 388.78,507.21 389.13,506.96 389.49,506.72 389.85,506.48 390.2,506.25 390.56,506.02 390.92,505.8 391.28,505.58 391.63,505.37 391.99,505.17 392.35,504.97 392.7,504.77 393.06,504.57 393.42,504.39 393.78,504.2 394.13,504.02 394.49,503.84 394.85,503.67 395.2,503.5 395.56,503.34 395.92,503.17 396.28,503.01 396.63,502.86 396.99,502.71 397.35,502.56 397.7,502.41 398.06,502.27 398.42,502.13 398.78,501.99 399.13,501.86 399.49,501.73 399.85,501.6 400.2,501.47 400.56,501.35 400.92,501.23 401.28,501.11 401.63,500.99 401.99,500.88 402.35,500.77 402.7,500.66 403.06,500.55 403.42,500.44 403.78,500.34 404.13,500.24 404.49,500.14 404.85,500.04 405.2,499.94 405.56,499.85 405.92,499.76 406.28,499.67 406.63,499.58 406.99,499.49 407.35,499.41 407.7,499.32 408.06,499.24 408.42,499.16 408.77,499.08 409.13,499 409.49,498.93 409.85,498.85 410.2,498.78 410.56,498.71 410.92,498.63 411.27,498.56 411.63,498.5 411.99,498.43 412.35,498.36 412.7,498.3 413.06,498.23 413.42,498.17 413.77,498.11 414.13,498.05 414.49,497.99 414.85,497.93 415.2,497.87 415.56,497.82 415.92,497.76 416.27,497.71 416.63,497.65 416.99,497.6 417.35,497.55 417.7,497.5 418.06,497.45 418.42,497.4 418.77,497.35 419.13,497.3 419.49,497.26 419.85,497.21 420.2,497.16 420.56,497.12 420.92,497.08 421.27,497.03 421.63,496.99 421.99,496.95 422.35,496.91 422.7,496.87 423.06,496.83 423.42,496.79 423.77,496.75 424.13,496.71 424.49,496.68 424.85,496.64 425.2,496.61 425.56,496.57 425.92,496.54 426.27,496.5 426.63,496.47 426.99,496.43 427.34,496.4 427.7,496.37 428.06,496.34 428.42,496.31 428.77,496.28 429.13,496.25 429.49,496.22 429.84,496.19 430.2,496.16 430.56,496.13 430.92,496.1 431.27,496.08 431.63,496.05 431.99,496.02 432.34,496 432.7,495.97 433.06,495.95 433.42,495.92 433.77,495.9 434.13,495.87 434.49,495.85 434.84,495.83" fill="none" stroke="#f0955a" stroke-width="1.3" stroke-linejoin="round"/>
<circle cx="352.35" cy="583.13" r="2" fill="#f05a5a"/>
<rect x="274" y="455.6" width="178.7" height="143" fill="none" stroke="#111" stroke-width="1.3"/>
<line x1="292" y1="598.6" x2="292" y2="601.2" stroke="#111" stroke-width="1.0"/>
<line x1="327.71" y1="598.6" x2="327.71" y2="601.2" stroke="#111" stroke-width="1.0"/>
<line x1="363.42" y1="598.6" x2="363.42" y2="601.2" stroke="#111" stroke-width="1.0"/>
<line x1="399.13" y1="598.6" x2="399.13" y2="601.2" stroke="#111" stroke-width="1.0"/>
<line x1="434.84" y1="598.6" x2="434.84" y2="601.2" stroke="#111" stroke-width="1.0"/>
<line x1="274.14" y1="598.6" x2="274.14" y2="600.16" stroke="#111" stroke-width="1.0"/>
<line x1="309.85" y1="598.6" x2="309.85" y2="600.16" stroke="#111" stroke-width="1.0"/>
<line x1="345.57" y1="598.6" x2="345.57" y2="600.16" stroke="#111" stroke-width="1.0"/>
<line x1="381.28" y1="598.6" x2="381.28" y2="600.16" stroke="#111" stroke-width="1.0"/>
<line x1="416.99" y1="598.6" x2="416.99" y2="600.16" stroke="#111" stroke-width="1.0"/>
<line x1="452.7" y1="598.6" x2="452.7" y2="600.16" stroke="#111" stroke-width="1.0"/>
<text x="292" y="611.8" font-size="8.6" text-anchor="middle">30</text>
<text x="327.71" y="611.8" font-size="8.6" text-anchor="middle">35</text>
<text x="363.42" y="611.8" font-size="8.6" text-anchor="middle">40</text>
<text x="399.13" y="611.8" font-size="8.6" text-anchor="middle">45</text>
<text x="434.84" y="611.8" font-size="8.6" text-anchor="middle">50</text>
<line x1="271.4" y1="487.79" x2="274" y2="487.79" stroke="#111" stroke-width="1.0"/>
<line x1="271.4" y1="532.45" x2="274" y2="532.45" stroke="#111" stroke-width="1.0"/>
<line x1="271.4" y1="577.1" x2="274" y2="577.1" stroke="#111" stroke-width="1.0"/>
<line x1="272.44" y1="465.47" x2="274" y2="465.47" stroke="#111" stroke-width="1.0"/>
<line x1="272.44" y1="510.12" x2="274" y2="510.12" stroke="#111" stroke-width="1.0"/>
<line x1="272.44" y1="554.77" x2="274" y2="554.77" stroke="#111" stroke-width="1.0"/>
<text x="268.8" y="490.8" font-size="8.6" text-anchor="end">0.00</text>
<text x="268.8" y="535.46" font-size="8.6" text-anchor="end">&#8722;0.02</text>
<text x="268.8" y="580.11" font-size="8.6" text-anchor="end">&#8722;0.04</text>
<text x="363.3" y="625.6" font-size="8.8" text-anchor="middle">Frequency (MHz)</text>
<text x="239.5" y="527" font-size="8.8" text-anchor="middle" transform="rotate(-90 239.5 527)">S<tspan font-size="6" dy="2">11</tspan><tspan dy="-2"> (dB)</tspan></text>
<line x1="281" y1="464.2" x2="301.7" y2="464.2" stroke="#111" stroke-width="1.3"/>
<line x1="281" y1="476.4" x2="301.7" y2="476.4" stroke="#f0955a" stroke-width="1.3"/>
<circle cx="291.6" cy="487.8" r="2" fill="#f05a5a"/>
<text x="306" y="467.2" font-size="8.8">Original NA signal</text>
<text x="306" y="478.8" font-size="8.8">Filtered signal</text>
<text x="306" y="490.6" font-size="8.8">Founded resonance</text>
<text x="464.6" y="444.2" font-size="14" font-weight="bold" fill="#000">i</text>
<rect x="491.3" y="454.5" width="150.3" height="143.9" fill="url(#gi_lo)"/>
<rect x="491.3" y="454.5" width="150.3" height="143.9" fill="url(#gi_hi)" mask="url(#mis)"/>
<polyline points="491.9,529.9 492.2,530.12 492.5,530.34 492.79,530.56 493.09,530.78 493.39,531 493.69,531.22 493.99,531.44 494.29,531.66 494.58,531.87 494.88,532.09 495.18,532.31 495.48,532.53 495.78,532.75 496.08,532.97 496.37,533.19 496.67,533.41 496.97,533.63 497.27,533.85 497.57,534.03 497.86,533.81 498.16,533.59 498.46,533.37 498.76,533.16 499.06,532.94 499.36,532.72 499.65,532.5 499.95,532.28 500.25,532.06 500.55,531.84 500.85,531.62 501.14,531.4 501.44,531.18 501.74,530.97 502.04,530.75 502.34,530.53 502.64,530.31 502.93,530.09 503.23,529.94 503.53,530.16 503.83,530.37 504.13,530.59 504.43,530.81 504.72,531.03 505.02,531.25 505.32,531.47 505.62,531.69 505.92,531.91 506.21,532.13 506.51,532.35 506.81,532.56 507.11,532.78 507.41,533 507.71,533.22 508,533.44 508.3,533.66 508.6,533.88 508.9,534 509.2,533.78 509.49,533.56 509.79,533.34 510.09,533.12 510.39,532.9 510.69,532.68 510.99,532.47 511.28,532.25 511.58,532.03 511.88,531.81 512.18,531.59 512.48,531.37 512.78,531.15 513.07,530.93 513.37,530.71 513.67,530.49 513.97,530.28 514.27,530.06 514.56,529.97 514.86,530.19 515.16,530.41 515.46,530.63 515.76,530.85 516.06,531.06 516.35,531.28 516.65,531.5 516.95,531.72 517.25,531.94 517.55,532.16 517.84,532.38 518.14,532.6 518.44,532.82 518.74,533.04 519.04,533.25 519.34,533.47 519.63,533.69 519.93,533.91 520.23,533.97 520.53,533.75 520.83,533.53 521.12,533.31 521.42,533.09 521.72,532.87 522.02,532.65 522.32,532.43 522.62,532.21 522.91,531.99 523.21,531.78 523.51,531.56 523.81,531.34 524.11,531.12 524.41,530.9 524.7,530.68 525,530.46 525.3,530.24 525.6,530.02 525.9,530 526.19,530.22 526.49,530.44 526.79,530.66 527.09,530.88 527.39,531.1 527.69,531.32 527.98,531.54 528.28,531.75 528.58,531.97 528.88,532.19 529.18,532.41 529.48,532.63 529.77,532.85 530.07,533.07 530.37,533.29 530.67,533.51 530.97,533.72 531.26,533.94 531.56,533.93 531.86,533.71 532.16,533.49 532.46,533.28 532.76,533.06 533.05,532.84 533.35,532.62 533.65,532.4 533.95,532.18 534.25,531.96 534.54,531.74 534.84,531.52 535.14,531.31 535.44,531.09 535.74,530.87 536.04,530.65 536.33,530.43 536.63,530.21 536.93,529.99 537.23,530.03 537.53,530.25 537.83,530.47 538.12,530.69 538.42,530.91 538.72,531.13 539.02,531.35 539.32,531.57 539.61,531.79 539.91,532.01 540.21,532.22 540.51,532.44 540.81,532.66 541.11,532.88 541.4,533.1 541.7,533.32 542,533.54 542.3,533.76 542.6,533.98 542.89,533.9 543.19,533.68 543.49,533.46 543.79,533.24 544.09,533.02 544.39,532.81 544.68,532.59 544.98,532.37 545.28,532.15 545.58,531.93 545.88,531.71 546.18,531.49 546.47,531.27 546.77,531.05 547.07,530.83 547.37,530.62 547.67,530.4 547.96,530.18 548.26,529.96 548.56,530.07 548.86,530.29 549.16,530.51 549.46,530.72 549.75,530.94 550.05,531.16 550.35,531.38 550.65,531.6 550.95,531.82 551.24,532.04 551.54,532.26 551.84,532.48 552.14,532.7 552.44,532.91 552.74,533.13 553.03,533.35 553.33,533.57 553.63,533.79 553.93,534.01 554.23,533.87 554.52,533.65 554.82,533.43 555.12,533.21 555.42,532.99 555.72,532.77 556.02,532.55 556.31,532.33 556.61,532.12 556.91,531.9 557.21,531.68 557.51,531.46 557.81,531.24 558.1,531.02 558.4,530.8 558.7,530.58 559,530.36 559.3,530.14 559.59,529.93 559.89,530.1 560.19,530.32 560.49,530.54 560.79,530.76 561.09,530.98 561.38,531.2 561.68,531.41 561.98,531.63 562.28,531.85 562.58,532.07 562.87,532.29 563.17,532.51 563.47,532.73 563.77,532.95 564.07,533.17 564.37,533.39 564.66,533.6 564.96,533.82 565.26,534.04 565.56,533.83 565.86,533.62 566.16,533.4 566.45,533.18 566.75,532.96 567.05,532.74 567.35,532.52 567.65,532.3 567.94,532.08 568.24,531.86 568.54,531.64 568.84,531.43 569.14,531.21 569.44,530.99 569.73,530.77 570.03,530.55 570.33,530.33 570.63,530.11 570.93,529.91 571.22,530.13 571.52,530.35 571.82,530.57 572.12,530.79 572.42,531.01 572.72,531.23 573.01,531.45 573.31,531.67 573.61,531.89 573.91,532.1 574.21,532.32 574.51,532.54 574.8,532.76 575.1,532.98 575.4,533.2 575.7,533.42 576,533.64 576.29,533.86 576.59,534.02 576.89,533.8 577.19,533.58 577.49,533.36 577.79,533.14 578.08,532.93 578.38,532.71 578.68,532.49 578.98,532.27 579.28,532.05 579.57,531.83 579.87,531.61 580.17,531.39 580.47,531.17 580.77,530.95 581.07,530.74 581.36,530.52 581.66,530.3 581.96,530.08 582.26,529.95 582.56,530.17 582.86,530.39 583.15,530.6 583.45,530.82 583.75,531.04 584.05,531.26 584.35,531.48 584.64,531.7 584.94,531.92 585.24,532.14 585.54,532.36 585.84,532.58 586.14,532.79 586.43,533.01 586.73,533.23 587.03,533.45 587.33,533.67 587.63,533.89 587.92,533.99 588.22,533.77 588.52,533.55 588.82,533.33 589.12,533.11 589.42,532.89 589.71,532.67 590.01,532.45 590.31,532.24 590.61,532.02 590.91,531.8 591.21,531.58 591.5,531.36 591.8,531.14 592.1,530.92 592.4,530.7 592.7,530.48 592.99,530.26 593.29,530.05 593.59,529.98 593.89,530.2 594.19,530.42 594.49,530.64 594.78,530.86 595.08,531.08 595.38,531.29 595.68,531.51 595.98,531.73 596.27,531.95 596.57,532.17 596.87,532.39 597.17,532.61 597.47,532.83 597.77,533.05 598.06,533.27 598.36,533.48 598.66,533.7 598.96,533.92 599.26,533.95 599.56,533.74 599.85,533.52 600.15,533.3 600.45,533.08 600.75,532.86 601.05,532.64 601.34,532.42 601.64,532.2 601.94,531.98 602.24,531.76 602.54,531.55 602.84,531.33 603.13,531.11 603.43,530.89 603.73,530.67 604.03,530.45 604.33,530.23 604.62,530.01 604.92,530.01 605.22,530.23 605.52,530.45 605.82,530.67 606.12,530.89 606.41,531.11 606.71,531.33 607.01,531.55 607.31,531.76 607.61,531.98 607.91,532.2 608.2,532.42 608.5,532.64 608.8,532.86 609.1,533.08 609.4,533.3 609.69,533.52 609.99,533.74 610.29,533.95 610.59,533.92 610.89,533.7 611.19,533.48 611.48,533.27 611.78,533.05 612.08,532.83 612.38,532.61 612.68,532.39 612.97,532.17 613.27,531.95 613.57,531.73 613.87,531.51 614.17,531.29 614.47,531.08 614.76,530.86 615.06,530.64 615.36,530.42 615.66,530.2 615.96,529.98 616.26,530.05 616.55,530.26 616.85,530.48 617.15,530.7 617.45,530.92 617.75,531.14 618.04,531.36 618.34,531.58 618.64,531.8 618.94,532.02 619.24,532.24 619.54,532.45 619.83,532.67 620.13,532.89 620.43,533.11 620.73,533.33 621.03,533.55 621.32,533.77 621.62,533.99 621.92,533.89 622.22,533.67 622.52,533.45 622.82,533.23 623.11,533.01 623.41,532.79 623.71,532.58 624.01,532.36 624.31,532.14 624.61,531.92 624.9,531.7 625.2,531.48 625.5,531.26 625.8,531.04 626.1,530.82 626.39,530.6 626.69,530.39 626.99,530.17 627.29,529.95 627.59,530.08 627.89,530.3 628.18,530.52 628.48,530.74 628.78,530.95 629.08,531.17 629.38,531.39 629.67,531.61 629.97,531.83 630.27,532.05 630.57,532.27 630.87,532.49 631.17,532.71 631.46,532.93 631.76,533.14 632.06,533.36 632.36,533.58 632.66,533.8 632.96,534.02 633.25,533.86 633.55,533.64 633.85,533.42 634.15,533.2 634.45,532.98 634.74,532.76 635.04,532.54 635.34,532.32 635.64,532.1 635.94,531.89 636.24,531.67 636.53,531.45 636.83,531.23 637.13,531.01 637.43,530.79 637.73,530.57 638.02,530.35 638.32,530.13 638.62,529.91 638.92,530.11 639.22,530.33 639.52,530.55 639.81,530.77 640.11,530.99 640.41,531.21 640.71,531.43 641.01,531.64 641.31,531.86 641.6,532.08" fill="none" stroke="#c8102e" stroke-width="1.5" stroke-linejoin="round"/>
<rect x="491.3" y="454.5" width="150.3" height="143.9" fill="none" stroke="#111" stroke-width="1.3"/>
<line x1="491.3" y1="598.4" x2="491.3" y2="601" stroke="#111" stroke-width="1.0"/>
<line x1="521.12" y1="598.4" x2="521.12" y2="601" stroke="#111" stroke-width="1.0"/>
<line x1="550.94" y1="598.4" x2="550.94" y2="601" stroke="#111" stroke-width="1.0"/>
<line x1="580.76" y1="598.4" x2="580.76" y2="601" stroke="#111" stroke-width="1.0"/>
<line x1="610.59" y1="598.4" x2="610.59" y2="601" stroke="#111" stroke-width="1.0"/>
<line x1="640.41" y1="598.4" x2="640.41" y2="601" stroke="#111" stroke-width="1.0"/>
<line x1="506.21" y1="598.4" x2="506.21" y2="599.96" stroke="#111" stroke-width="1.0"/>
<line x1="536.03" y1="598.4" x2="536.03" y2="599.96" stroke="#111" stroke-width="1.0"/>
<line x1="565.85" y1="598.4" x2="565.85" y2="599.96" stroke="#111" stroke-width="1.0"/>
<line x1="595.67" y1="598.4" x2="595.67" y2="599.96" stroke="#111" stroke-width="1.0"/>
<line x1="625.5" y1="598.4" x2="625.5" y2="599.96" stroke="#111" stroke-width="1.0"/>
<text x="491.3" y="611.8" font-size="8.6" text-anchor="middle">0</text>
<text x="521.12" y="611.8" font-size="8.6" text-anchor="middle">2</text>
<text x="550.94" y="611.8" font-size="8.6" text-anchor="middle">4</text>
<text x="580.76" y="611.8" font-size="8.6" text-anchor="middle">6</text>
<text x="610.59" y="611.8" font-size="8.6" text-anchor="middle">8</text>
<text x="640.41" y="611.8" font-size="8.6" text-anchor="middle">10</text>
<line x1="488.7" y1="581.48" x2="491.3" y2="581.48" stroke="#111" stroke-width="1.0"/>
<line x1="488.7" y1="558.45" x2="491.3" y2="558.45" stroke="#111" stroke-width="1.0"/>
<line x1="488.7" y1="535.43" x2="491.3" y2="535.43" stroke="#111" stroke-width="1.0"/>
<line x1="488.7" y1="512.41" x2="491.3" y2="512.41" stroke="#111" stroke-width="1.0"/>
<line x1="488.7" y1="489.38" x2="491.3" y2="489.38" stroke="#111" stroke-width="1.0"/>
<line x1="488.7" y1="466.36" x2="491.3" y2="466.36" stroke="#111" stroke-width="1.0"/>
<line x1="489.74" y1="592.99" x2="491.3" y2="592.99" stroke="#111" stroke-width="1.0"/>
<line x1="489.74" y1="569.97" x2="491.3" y2="569.97" stroke="#111" stroke-width="1.0"/>
<line x1="489.74" y1="546.94" x2="491.3" y2="546.94" stroke="#111" stroke-width="1.0"/>
<line x1="489.74" y1="523.92" x2="491.3" y2="523.92" stroke="#111" stroke-width="1.0"/>
<line x1="489.74" y1="500.89" x2="491.3" y2="500.89" stroke="#111" stroke-width="1.0"/>
<line x1="489.74" y1="477.87" x2="491.3" y2="477.87" stroke="#111" stroke-width="1.0"/>
<text x="486.1" y="584.49" font-size="8.6" text-anchor="end">34</text>
<text x="486.1" y="561.46" font-size="8.6" text-anchor="end">36</text>
<text x="486.1" y="538.44" font-size="8.6" text-anchor="end">38</text>
<text x="486.1" y="515.42" font-size="8.6" text-anchor="end">40</text>
<text x="486.1" y="492.39" font-size="8.6" text-anchor="end">42</text>
<text x="486.1" y="469.37" font-size="8.6" text-anchor="end">44</text>
<text x="566.4" y="625.6" font-size="8.8" text-anchor="middle">Time (s)</text>
<text x="467.4" y="527" font-size="8.8" text-anchor="middle" transform="rotate(-90 467.4 527)">Resonance frequency (MHz)</text>
<line x1="499.1" y1="465.6" x2="520.2" y2="465.6" stroke="#c8102e" stroke-width="1.5"/>
<text x="523.3" y="468.8" font-size="8.8">Resonace frequency</text>
<rect x="672.2" y="455.1" width="12.2" height="142.9" fill="url(#gcb)"/>
<rect x="672.2" y="455.1" width="12.2" height="142.9" fill="none" stroke="#111" stroke-width="1.2"/>
<line x1="672.2" y1="476.47" x2="674.8" y2="476.47" stroke="#111" stroke-width="1.0"/>
<text x="667.4" y="479.47" font-size="8.6" text-anchor="end">&#8722;0.01</text>
<line x1="672.2" y1="509.86" x2="674.8" y2="509.86" stroke="#111" stroke-width="1.0"/>
<text x="667.4" y="512.86" font-size="8.6" text-anchor="end">&#8722;0.02</text>
<line x1="672.2" y1="543.24" x2="674.8" y2="543.24" stroke="#111" stroke-width="1.0"/>
<text x="667.4" y="546.24" font-size="8.6" text-anchor="end">&#8722;0.03</text>
<line x1="672.2" y1="576.63" x2="674.8" y2="576.63" stroke="#111" stroke-width="1.0"/>
<text x="667.4" y="579.63" font-size="8.6" text-anchor="end">&#8722;0.04</text>
<text x="670.6" y="447" font-size="8.8">S<tspan font-size="6" dy="2">11</tspan></text>
<text x="0" y="644.5" font-size="14" font-weight="bold" fill="#000">j</text>
<polyline points="56.57,689.97 57.31,702.02 58.05,712.87 58.79,725.26 59.54,738.12 60.28,757.57 61.02,771.12 61.77,779.51 62.51,781.48 63.25,769.18 63.99,754.11 64.74,741.55 65.48,727.24 66.22,708.44 66.97,701.16 67.71,687.63 68.45,694.02 69.2,704.41 69.94,725.94 70.68,739.84 71.42,756.44 72.17,768.53 72.91,775.45 73.65,781.71 74.4,773.06 75.14,757.15 75.88,748.14 76.62,728.51 77.37,713.01 78.11,705.98 78.85,691.81 79.6,701.34 80.34,708.22 81.08,721.91 81.82,734.76 82.57,751.55 83.31,763.77 84.05,774.44 84.8,787.86 85.54,773.56 86.28,764.64 87.02,745.06 87.77,734.5 88.51,718.51 89.25,704.02 90,693.7 90.74,693.78 91.48,705.8 92.22,715.15 92.97,733.41 93.71,752.21 94.45,762.61 95.2,780.45 95.94,787.57 96.68,775.2 97.42,762.71 98.17,748.72 98.91,732.64 99.65,722.54 100.4,705.09 101.14,692.24 101.88,691.73 102.62,706.16 103.37,720.86 104.11,731.66 104.85,747.16 105.6,762.43 106.34,776.42 107.08,781.77 107.82,779.27 108.57,766.81 109.31,752.55 110.05,733.14 110.8,717.29 111.54,704.45 112.28,697.41 113.03,689.54 113.77,701.37 114.51,712.37 115.25,726.15 116,742.04 116.74,763.08 117.48,776.08 118.23,783.12 118.97,775.46 119.71,765.35 120.45,754.5 121.2,741.05 121.94,720.94 122.68,710.56 123.43,698.37 124.17,689.46 124.91,701.27 125.65,711.33 126.4,725.79 127.14,740.29 127.88,758.54 128.63,765.06 129.37,773.48 130.11,780.45 130.85,769.84 131.6,754.53 132.34,742.34 133.08,721.98 133.83,710.2 134.57,699.4 135.31,692.66 136.05,698.91 136.8,709.3 137.54,724.67 138.28,743.41 139.03,758.81 139.77,770.1 140.51,778.37 141.25,780.82 142,775.37 142.74,758.34 143.48,744.06 144.23,722.86 144.97,709.38 145.71,701.52 146.45,691.97 147.2,699.3 147.94,709.01 148.68,722.1 149.43,739.04 150.17,757.09 150.91,767.47 151.65,780.67 152.4,780.13 153.14,774.03 153.88,755.57 154.63,745.67 155.37,731.93 156.11,709.97 156.86,701.31 157.6,691.96 158.34,697.73 159.08,707.08 159.83,718.74 160.57,735.46 161.31,755.03 162.06,768.71 162.8,774.43 163.54,781.69 164.28,772.05 165.03,758.59 165.77,746.44 166.51,728.72 167.26,720.41 168,706.92 168.74,693.83 169.48,698.47 170.23,706.65 170.97,720.27 171.71,732.15 172.46,747.54 173.2,762.58 173.94,776.37 174.68,781.48 175.43,772.26 176.17,757.49 176.91,749.18 177.66,736.09 178.4,721.27 179.14,708.97 179.88,693.41 180.63,696.15 181.37,702.68 182.11,720.13 182.86,729.75 183.6,748.07 184.34,758.03 185.08,772.57 185.83,778.02 186.57,772.03 187.31,763.3 188.06,748.92 188.8,738.2 189.54,718.28 190.28,706.02 191.03,695.33 191.77,695.15 192.51,698.67 193.26,715.33 194,729.64 194.74,746.73 195.48,762.86 196.23,770.3 196.97,782.46 197.71,775.52 198.46,765.29 199.2,748.58 199.94,739.73 200.69,726.79 201.43,709.33 202.17,698.61 202.91,698.54 203.66,700.48 204.4,711.66 205.14,725.09" fill="none" stroke="#222222" stroke-width="1.1" stroke-linejoin="round"/>
<polyline points="56.57,692.46 57.31,700.61 58.05,711.86 58.79,725.41 59.54,740.23 60.28,755.4 61.02,768.84 61.77,779.41 62.51,781.44 63.25,771.14 63.99,757.8 64.74,742.51 65.48,726.61 66.22,711.63 66.97,698.98 67.71,689.62 68.45,696 69.2,707.81 69.94,722.25 70.68,738.07 71.42,753.66 72.17,767.67 72.91,778.91 73.65,782.98 74.4,773.08 75.14,760.01 75.88,744.78 76.62,729.49 77.37,715.57 78.11,703.62 78.85,694.59 79.6,698.16 80.34,708.57 81.08,721.52 81.82,735.92 82.57,751.66 83.31,766.09 84.05,777.87 84.8,785.15 85.54,775.53 86.28,762.56 87.02,747.22 87.77,731.02 88.51,715.58 89.25,702.13 90,691.75 90.74,693.18 91.48,704.1 92.22,717.95 92.97,733.58 93.71,749.78 94.45,764.83 95.2,777.31 95.94,784.7 96.68,775.87 97.42,763.71 98.17,749.08 98.91,733.49 99.65,718.86 100.4,705.93 101.14,695.75 101.88,694.75 102.62,704.54 103.37,717.2 104.11,731.69 104.85,747.22 105.6,762.06 106.34,774.58 107.08,783.83 107.82,778.47 108.57,766.39 109.31,751.64 110.05,735.51 110.8,719.74 111.54,705.58 112.28,694.24 113.03,690.67 113.77,700.65 114.51,713.8 115.25,729.1 116,745.26 116.74,760.75 117.48,774.02 118.23,784.05 118.97,774.1 119.71,764.04 120.45,751.54 121.2,737.65 121.94,721.63 122.68,706.93 123.43,694.95 124.17,688.79 124.91,698.42 125.65,711.39 126.4,726.71 127.14,742.17 127.88,755.75 128.63,767.57 129.37,776.68 130.11,778.18 130.85,767.8 131.6,754.66 132.34,739.84 133.08,725.3 133.83,712 134.57,700.96 135.31,693.26 136.05,701.35 136.8,712.49 137.54,725.87 138.28,740.45 139.03,755.22 139.77,768.28 140.51,778.53 141.25,782.66 142,771.96 142.74,758.15 143.48,742.36 144.23,726.36 144.97,711.52 145.71,699.01 146.45,689.78 147.2,696.47 147.94,708.26 148.68,722.65 149.43,738.43 150.17,754.49 150.91,768.9 151.65,780.42 152.4,781.79 153.14,772.04 153.88,759.2 154.63,744.3 155.37,728.56 156.11,713.5 156.86,700.61 157.6,690.89 158.34,695.12 159.08,706.45 159.83,720.54 160.57,736.16 161.31,751.63 162.06,765.7 162.8,777.15 163.54,784.69 164.28,775.06 165.03,762.12 165.77,746.84 166.51,731.39 167.26,717.68 168,705.77 168.74,696.6 169.48,698.18 170.23,707.96 170.97,720.32 171.71,734.23 172.46,750.02 173.2,764.93 173.94,777.28 174.68,779.93 175.43,771.89 176.17,760.85 176.91,747.62 177.66,733.32 178.4,719.24 179.14,706.81 179.88,697.06 180.63,696.42 181.37,705.92 182.11,718.17 182.86,732.16 183.6,746.5 184.34,759.86 185.08,771.11 185.83,779.4 186.57,775.43 187.31,764.12 188.06,750.34 188.8,735.22 189.54,719.8 190.28,705.99 191.03,694.96 191.77,691.82 192.51,701.65 193.26,714.58 194,729.57 194.74,744.99 195.48,759.39 196.23,771.71 196.97,780.98 197.71,775.33 198.46,764.84 199.2,751.82 199.94,737.39 200.69,723.25 201.43,710.4 202.17,699.96 202.91,694.88 203.66,703.39 204.4,714.8 205.14,728.25" fill="none" stroke="#ec2b2b" stroke-width="1.3" stroke-linejoin="round"/>
<rect x="42.6" y="652.5" width="177.4" height="143.5" fill="none" stroke="#111" stroke-width="1.3"/>
<line x1="220" y1="652.5" x2="220" y2="796" stroke="#ee3333" stroke-width="1.3"/>
<line x1="56.57" y1="796" x2="56.57" y2="798.6" stroke="#111" stroke-width="1.0"/>
<line x1="86.28" y1="796" x2="86.28" y2="798.6" stroke="#111" stroke-width="1.0"/>
<line x1="116" y1="796" x2="116" y2="798.6" stroke="#111" stroke-width="1.0"/>
<line x1="145.71" y1="796" x2="145.71" y2="798.6" stroke="#111" stroke-width="1.0"/>
<line x1="175.43" y1="796" x2="175.43" y2="798.6" stroke="#111" stroke-width="1.0"/>
<line x1="205.14" y1="796" x2="205.14" y2="798.6" stroke="#111" stroke-width="1.0"/>
<line x1="71.42" y1="796" x2="71.42" y2="797.56" stroke="#111" stroke-width="1.0"/>
<line x1="101.14" y1="796" x2="101.14" y2="797.56" stroke="#111" stroke-width="1.0"/>
<line x1="130.85" y1="796" x2="130.85" y2="797.56" stroke="#111" stroke-width="1.0"/>
<line x1="160.57" y1="796" x2="160.57" y2="797.56" stroke="#111" stroke-width="1.0"/>
<line x1="190.28" y1="796" x2="190.28" y2="797.56" stroke="#111" stroke-width="1.0"/>
<text x="56.57" y="809" font-size="8.6" text-anchor="middle">0</text>
<text x="86.28" y="809" font-size="8.6" text-anchor="middle">2</text>
<text x="116" y="809" font-size="8.6" text-anchor="middle">4</text>
<text x="145.71" y="809" font-size="8.6" text-anchor="middle">6</text>
<text x="175.43" y="809" font-size="8.6" text-anchor="middle">8</text>
<text x="205.14" y="809" font-size="8.6" text-anchor="middle">10</text>
<line x1="40" y1="776.56" x2="42.6" y2="776.56" stroke="#111" stroke-width="1.0"/>
<line x1="40" y1="737.67" x2="42.6" y2="737.67" stroke="#111" stroke-width="1.0"/>
<line x1="40" y1="698.78" x2="42.6" y2="698.78" stroke="#111" stroke-width="1.0"/>
<line x1="40" y1="659.89" x2="42.6" y2="659.89" stroke="#111" stroke-width="1.0"/>
<line x1="41.04" y1="757.11" x2="42.6" y2="757.11" stroke="#111" stroke-width="1.0"/>
<line x1="41.04" y1="718.22" x2="42.6" y2="718.22" stroke="#111" stroke-width="1.0"/>
<line x1="41.04" y1="679.33" x2="42.6" y2="679.33" stroke="#111" stroke-width="1.0"/>
<text x="37.4" y="779.57" font-size="8.6" text-anchor="end">38.3</text>
<text x="37.4" y="740.68" font-size="8.6" text-anchor="end">38.4</text>
<text x="37.4" y="701.79" font-size="8.6" text-anchor="end">38.5</text>
<text x="37.4" y="662.9" font-size="8.6" text-anchor="end">38.6</text>
<line x1="220" y1="668.51" x2="222.6" y2="668.51" stroke="#ee3333" stroke-width="1.0"/>
<text x="225.3" y="671.51" font-size="8.6" fill="#ee3333">72</text>
<line x1="220" y1="700.31" x2="222.6" y2="700.31" stroke="#ee3333" stroke-width="1.0"/>
<text x="225.3" y="703.31" font-size="8.6" fill="#ee3333">75</text>
<line x1="220" y1="732.11" x2="222.6" y2="732.11" stroke="#ee3333" stroke-width="1.0"/>
<text x="225.3" y="735.11" font-size="8.6" fill="#ee3333">78</text>
<line x1="220" y1="763.91" x2="222.6" y2="763.91" stroke="#ee3333" stroke-width="1.0"/>
<text x="225.3" y="766.91" font-size="8.6" fill="#ee3333">81</text>
<line x1="220" y1="795.71" x2="222.6" y2="795.71" stroke="#ee3333" stroke-width="1.0"/>
<text x="225.3" y="798.71" font-size="8.6" fill="#ee3333">84</text>
<line x1="220" y1="684.41" x2="221.6" y2="684.41" stroke="#ee3333" stroke-width="1.0"/>
<line x1="220" y1="716.21" x2="221.6" y2="716.21" stroke="#ee3333" stroke-width="1.0"/>
<line x1="220" y1="748.01" x2="221.6" y2="748.01" stroke="#ee3333" stroke-width="1.0"/>
<line x1="220" y1="779.81" x2="221.6" y2="779.81" stroke="#ee3333" stroke-width="1.0"/>
<text x="131.3" y="822.6" font-size="8.8" text-anchor="middle">Time (s)</text>
<text x="7.8" y="724" font-size="8.8" text-anchor="middle" transform="rotate(-90 7.8 724)">Resonance frequency (MHz)</text>
<text x="247.3" y="724" font-size="8.8" text-anchor="middle" fill="#ee3333" transform="rotate(-90 247.3 724)">Reference pressure (mmHg)</text>
<line x1="49" y1="661.6" x2="69.9" y2="661.6" stroke="#222" stroke-width="1.2"/>
<line x1="49" y1="672.7" x2="69.9" y2="672.7" stroke="#ec2b2b" stroke-width="1.3"/>
<text x="72.6" y="664.6" font-size="8.8">Resonance frequency</text>
<text x="72.6" y="675.7" font-size="8.8">Reference pressure</text>
<text x="260.2" y="644.6" font-size="14" font-weight="bold" fill="#000">k</text>
<g fill="#7d8ef2"><circle cx="384.34" cy="716.54" r="2"/><circle cx="394.74" cy="714.13" r="2"/><circle cx="436.55" cy="681.81" r="2"/><circle cx="375.81" cy="731.04" r="2"/><circle cx="381.03" cy="713.75" r="2"/><circle cx="338.1" cy="757.1" r="2"/><circle cx="374.59" cy="732.76" r="2"/><circle cx="365.95" cy="738.16" r="2"/><circle cx="429.96" cy="683.77" r="2"/><circle cx="318.74" cy="772.02" r="2"/><circle cx="335.41" cy="749.44" r="2"/><circle cx="316.31" cy="776.88" r="2"/><circle cx="329.25" cy="754.83" r="2"/><circle cx="338.59" cy="753.81" r="2"/><circle cx="322.12" cy="756.29" r="2"/><circle cx="406.93" cy="698.42" r="2"/><circle cx="316.36" cy="768.03" r="2"/><circle cx="312.64" cy="771.16" r="2"/><circle cx="324.12" cy="768.76" r="2"/><circle cx="370.07" cy="734.35" r="2"/><circle cx="380.35" cy="722.16" r="2"/><circle cx="371.6" cy="726.36" r="2"/><circle cx="424.58" cy="686.22" r="2"/><circle cx="383.81" cy="719.39" r="2"/><circle cx="351.82" cy="744.68" r="2"/><circle cx="374.73" cy="728.88" r="2"/><circle cx="311.95" cy="781.86" r="2"/><circle cx="367.92" cy="736.33" r="2"/><circle cx="376.76" cy="714.45" r="2"/><circle cx="371.75" cy="737.75" r="2"/><circle cx="362.25" cy="736.73" r="2"/><circle cx="335.23" cy="754.44" r="2"/><circle cx="399.23" cy="713.15" r="2"/><circle cx="434.83" cy="685.21" r="2"/><circle cx="366.95" cy="722.26" r="2"/><circle cx="407.32" cy="705.23" r="2"/><circle cx="376.83" cy="730.24" r="2"/><circle cx="327.26" cy="768.99" r="2"/><circle cx="346.08" cy="751.42" r="2"/><circle cx="335.65" cy="757.95" r="2"/><circle cx="320.72" cy="767.08" r="2"/><circle cx="438.58" cy="682.85" r="2"/><circle cx="312.46" cy="784.73" r="2"/><circle cx="428.55" cy="677.57" r="2"/><circle cx="312.09" cy="772.97" r="2"/><circle cx="327.27" cy="772.24" r="2"/><circle cx="358.34" cy="739.26" r="2"/><circle cx="435.07" cy="689.42" r="2"/><circle cx="430.83" cy="671.3" r="2"/><circle cx="398.61" cy="706.72" r="2"/><circle cx="316.7" cy="774.52" r="2"/><circle cx="365.37" cy="727.82" r="2"/><circle cx="313.71" cy="771.82" r="2"/><circle cx="358.45" cy="736.77" r="2"/><circle cx="413.64" cy="702.83" r="2"/><circle cx="328.19" cy="760.3" r="2"/><circle cx="313.53" cy="776.29" r="2"/><circle cx="350.69" cy="741.48" r="2"/><circle cx="311.62" cy="778.39" r="2"/><circle cx="416.77" cy="690.04" r="2"/><circle cx="312.16" cy="769.84" r="2"/><circle cx="326.53" cy="764.17" r="2"/><circle cx="393.87" cy="715.65" r="2"/><circle cx="312.14" cy="766.22" r="2"/><circle cx="412.96" cy="694.65" r="2"/><circle cx="434.4" cy="684.32" r="2"/><circle cx="399.5" cy="702.99" r="2"/><circle cx="366.45" cy="721.74" r="2"/><circle cx="347.82" cy="740.56" r="2"/><circle cx="341.52" cy="755.92" r="2"/><circle cx="432.88" cy="685.46" r="2"/><circle cx="324.17" cy="763.47" r="2"/><circle cx="319.32" cy="765.99" r="2"/><circle cx="352.59" cy="742.46" r="2"/><circle cx="321.02" cy="767.68" r="2"/><circle cx="328.87" cy="764.09" r="2"/><circle cx="426.89" cy="687.19" r="2"/><circle cx="423.05" cy="689.05" r="2"/><circle cx="426.3" cy="690.79" r="2"/><circle cx="412.43" cy="691.56" r="2"/><circle cx="374.56" cy="728.44" r="2"/><circle cx="384.1" cy="712.3" r="2"/><circle cx="370.05" cy="729.12" r="2"/><circle cx="350.45" cy="740.71" r="2"/><circle cx="350.28" cy="735.06" r="2"/><circle cx="427.48" cy="689.33" r="2"/><circle cx="369.05" cy="730.08" r="2"/><circle cx="422.69" cy="681.06" r="2"/><circle cx="346.53" cy="743.27" r="2"/><circle cx="384.78" cy="717.06" r="2"/><circle cx="416.68" cy="700.31" r="2"/><circle cx="353.49" cy="749.36" r="2"/><circle cx="346.57" cy="740.73" r="2"/><circle cx="436.05" cy="671.65" r="2"/><circle cx="415.49" cy="698.03" r="2"/><circle cx="436.2" cy="675.46" r="2"/><circle cx="377.53" cy="723.76" r="2"/><circle cx="312.82" cy="770.21" r="2"/><circle cx="381.77" cy="722.32" r="2"/><circle cx="439.11" cy="679.15" r="2"/><circle cx="361.79" cy="730.07" r="2"/><circle cx="415.27" cy="681.79" r="2"/><circle cx="334.18" cy="760.69" r="2"/><circle cx="337.35" cy="751.78" r="2"/><circle cx="392.94" cy="713.21" r="2"/><circle cx="379.87" cy="722.87" r="2"/><circle cx="352.39" cy="736.22" r="2"/><circle cx="357.9" cy="742.4" r="2"/><circle cx="399.89" cy="702.79" r="2"/><circle cx="337.13" cy="749.52" r="2"/><circle cx="421.83" cy="691.37" r="2"/><circle cx="354.58" cy="744.16" r="2"/><circle cx="438.77" cy="675.63" r="2"/><circle cx="438.04" cy="681.29" r="2"/><circle cx="406.96" cy="708.86" r="2"/><circle cx="428.08" cy="687.37" r="2"/><circle cx="385.28" cy="722.89" r="2"/><circle cx="389.56" cy="719.89" r="2"/><circle cx="406.66" cy="708.83" r="2"/><circle cx="419.08" cy="698.7" r="2"/><circle cx="427.26" cy="679.53" r="2"/><circle cx="425.99" cy="695.47" r="2"/><circle cx="411.62" cy="698.83" r="2"/><circle cx="435.55" cy="670.85" r="2"/><circle cx="338.44" cy="751.12" r="2"/><circle cx="317.59" cy="772.45" r="2"/><circle cx="381.99" cy="720.01" r="2"/><circle cx="312.28" cy="765.15" r="2"/><circle cx="381.34" cy="728.84" r="2"/><circle cx="348.14" cy="746.29" r="2"/><circle cx="379.55" cy="720.53" r="2"/><circle cx="405.46" cy="697.05" r="2"/><circle cx="342.67" cy="754.11" r="2"/><circle cx="411.48" cy="701.58" r="2"/><circle cx="415.79" cy="695.55" r="2"/><circle cx="361.19" cy="738" r="2"/><circle cx="331.14" cy="757.03" r="2"/><circle cx="315.63" cy="774.52" r="2"/><circle cx="320.41" cy="762.52" r="2"/><circle cx="314.99" cy="776.04" r="2"/><circle cx="320.91" cy="753.93" r="2"/><circle cx="362.31" cy="740.56" r="2"/><circle cx="373.94" cy="734.37" r="2"/><circle cx="410.81" cy="691.9" r="2"/><circle cx="439.1" cy="678.42" r="2"/><circle cx="429.5" cy="692.48" r="2"/><circle cx="434.13" cy="684.76" r="2"/><circle cx="316.07" cy="766.51" r="2"/><circle cx="350.21" cy="741.91" r="2"/><circle cx="339.46" cy="746.23" r="2"/><circle cx="413.39" cy="694.27" r="2"/><circle cx="313.77" cy="765.43" r="2"/><circle cx="332.56" cy="768.07" r="2"/><circle cx="395.74" cy="713" r="2"/><circle cx="423.17" cy="687.47" r="2"/><circle cx="420.86" cy="686.61" r="2"/><circle cx="393.96" cy="708.82" r="2"/><circle cx="322.17" cy="771.98" r="2"/><circle cx="428.61" cy="683.07" r="2"/><circle cx="368.57" cy="730.61" r="2"/><circle cx="423.68" cy="684.26" r="2"/><circle cx="423.74" cy="685.99" r="2"/><circle cx="352.31" cy="737.2" r="2"/><circle cx="424.14" cy="686.51" r="2"/><circle cx="435.27" cy="692.34" r="2"/><circle cx="317.04" cy="776.46" r="2"/><circle cx="439.13" cy="674.17" r="2"/><circle cx="344.48" cy="758.29" r="2"/><circle cx="424.6" cy="675.76" r="2"/><circle cx="371.25" cy="729.24" r="2"/><circle cx="411.64" cy="697.05" r="2"/><circle cx="372.77" cy="729.54" r="2"/><circle cx="417.31" cy="695.38" r="2"/><circle cx="370.17" cy="724.21" r="2"/><circle cx="437.76" cy="678.71" r="2"/><circle cx="421.88" cy="690.94" r="2"/><circle cx="426.1" cy="682.68" r="2"/><circle cx="319.78" cy="770.08" r="2"/><circle cx="370.95" cy="733.97" r="2"/><circle cx="418.16" cy="689.91" r="2"/><circle cx="374.64" cy="726.83" r="2"/><circle cx="370.58" cy="730.9" r="2"/><circle cx="398.97" cy="716.33" r="2"/><circle cx="413.32" cy="685.76" r="2"/><circle cx="387.69" cy="716.39" r="2"/><circle cx="435.87" cy="679.02" r="2"/><circle cx="311.64" cy="777.37" r="2"/><circle cx="431.03" cy="678.27" r="2"/><circle cx="436.96" cy="684.59" r="2"/><circle cx="421.12" cy="678.65" r="2"/></g>
<line x1="310.41" y1="776.1" x2="439.81" y2="675.14" stroke="#c0102a" stroke-width="1.3"/>
<rect x="287.6" y="652.5" width="178.9" height="142.8" fill="none" stroke="#111" stroke-width="1.3"/>
<line x1="294.5" y1="795.3" x2="294.5" y2="797.9" stroke="#111" stroke-width="1.0"/>
<line x1="333.95" y1="795.3" x2="333.95" y2="797.9" stroke="#111" stroke-width="1.0"/>
<line x1="373.4" y1="795.3" x2="373.4" y2="797.9" stroke="#111" stroke-width="1.0"/>
<line x1="412.85" y1="795.3" x2="412.85" y2="797.9" stroke="#111" stroke-width="1.0"/>
<line x1="452.3" y1="795.3" x2="452.3" y2="797.9" stroke="#111" stroke-width="1.0"/>
<line x1="314.23" y1="795.3" x2="314.23" y2="796.86" stroke="#111" stroke-width="1.0"/>
<line x1="353.68" y1="795.3" x2="353.68" y2="796.86" stroke="#111" stroke-width="1.0"/>
<line x1="393.13" y1="795.3" x2="393.13" y2="796.86" stroke="#111" stroke-width="1.0"/>
<line x1="432.57" y1="795.3" x2="432.57" y2="796.86" stroke="#111" stroke-width="1.0"/>
<text x="294.5" y="809" font-size="8.6" text-anchor="middle">72</text>
<text x="333.95" y="809" font-size="8.6" text-anchor="middle">75</text>
<text x="373.4" y="809" font-size="8.6" text-anchor="middle">78</text>
<text x="412.85" y="809" font-size="8.6" text-anchor="middle">81</text>
<text x="452.3" y="809" font-size="8.6" text-anchor="middle">84</text>
<line x1="285" y1="791.01" x2="287.6" y2="791.01" stroke="#111" stroke-width="1.0"/>
<line x1="285" y1="758.82" x2="287.6" y2="758.82" stroke="#111" stroke-width="1.0"/>
<line x1="285" y1="726.64" x2="287.6" y2="726.64" stroke="#111" stroke-width="1.0"/>
<line x1="285" y1="694.45" x2="287.6" y2="694.45" stroke="#111" stroke-width="1.0"/>
<line x1="285" y1="662.26" x2="287.6" y2="662.26" stroke="#111" stroke-width="1.0"/>
<line x1="286.04" y1="774.92" x2="287.6" y2="774.92" stroke="#111" stroke-width="1.0"/>
<line x1="286.04" y1="742.73" x2="287.6" y2="742.73" stroke="#111" stroke-width="1.0"/>
<line x1="286.04" y1="710.54" x2="287.6" y2="710.54" stroke="#111" stroke-width="1.0"/>
<line x1="286.04" y1="678.36" x2="287.6" y2="678.36" stroke="#111" stroke-width="1.0"/>
<text x="282.4" y="794.02" font-size="8.6" text-anchor="end">72</text>
<text x="282.4" y="761.83" font-size="8.6" text-anchor="end">75</text>
<text x="282.4" y="729.65" font-size="8.6" text-anchor="end">78</text>
<text x="282.4" y="697.46" font-size="8.6" text-anchor="end">81</text>
<text x="282.4" y="665.27" font-size="8.6" text-anchor="end">84</text>
<text x="377" y="822.6" font-size="8.8" text-anchor="middle">Reference pressure (mmHg)</text>
<text x="266.5" y="724" font-size="8.8" text-anchor="middle" transform="rotate(-90 266.5 724)">Predicted pressure (mmHg)</text>
<text x="302.6" y="672" font-size="8.8"><tspan font-style="italic">R</tspan><tspan font-size="6" dy="-3.5">2</tspan><tspan dy="3.5">&gt;0.97</tspan></text>
<text x="477.7" y="644.3" font-size="14" font-weight="bold" fill="#000">l</text>
<polyline points="519.81,777.26 520.55,769.07 521.29,757.75 522.03,744.14 522.77,729.25 523.51,714 524.25,700.5 524.99,689.87 525.73,687.83 526.47,698.19 527.21,711.59 527.95,726.96 528.69,742.94 529.43,757.99 530.17,770.7 530.91,780.11 531.65,773.69 532.39,761.83 533.13,747.32 533.87,731.42 534.61,715.75 535.35,701.67 536.09,690.38 536.83,686.28 537.57,696.23 538.32,709.38 539.06,724.67 539.8,740.04 540.54,754.03 541.28,766.04 542.02,775.11 542.76,771.52 543.5,761.07 544.24,748.05 544.98,733.58 545.72,717.76 546.46,703.26 547.2,691.42 547.94,684.11 548.68,693.77 549.42,706.81 550.16,722.22 550.9,738.5 551.64,754.02 552.38,767.53 553.12,777.96 553.86,776.53 554.6,765.56 555.34,751.63 556.08,735.93 556.82,719.65 557.56,704.53 558.3,691.98 559.04,684.56 559.78,693.43 560.52,705.66 561.26,720.35 562,736.02 562.74,750.72 563.48,763.72 564.22,773.94 564.96,774.95 565.7,765.11 566.44,752.39 567.18,737.83 567.92,722.22 568.66,707.31 569.4,694.73 570.14,685.43 570.88,690.82 571.62,702.96 572.36,717.78 573.1,733.99 573.84,749.84 574.58,764.07 575.32,775.47 576.06,779.05 576.8,769.02 577.54,755.81 578.28,740.44 579.02,724.19 579.76,708.63 580.5,695.29 581.24,685.21 581.99,695.21 582.73,705.32 583.47,717.88 584.21,731.84 584.95,747.94 585.69,762.71 586.43,774.76 587.17,780.94 587.91,771.26 588.65,758.23 589.39,742.83 590.13,727.3 590.87,713.65 591.61,701.77 592.35,692.62 593.09,691.11 593.83,701.54 594.57,714.75 595.31,729.64 596.05,744.25 596.79,757.62 597.53,768.71 598.27,776.45 599.01,768.32 599.75,757.12 600.49,743.68 601.23,729.03 601.97,714.18 602.71,701.06 603.45,690.76 604.19,686.61 604.93,697.36 605.67,711.23 606.41,727.11 607.15,743.19 607.89,758.1 608.63,770.67 609.37,779.95 610.11,773.22 610.85,761.37 611.59,746.91 612.33,731.05 613.07,714.91 613.81,700.44 614.55,688.86 615.29,687.48 616.03,697.28 616.77,710.18 617.51,725.16 618.25,740.98 618.99,756.11 619.73,769.06 620.47,778.83 621.21,774.58 621.95,763.19 622.69,749.04 623.43,733.34 624.17,717.79 624.91,703.65 625.66,692.15 626.4,684.57 627.14,694.24 627.88,707.25 628.62,722.61 629.36,738.14 630.1,751.91 630.84,763.88 631.58,773.09 632.32,771.5 633.06,761.68 633.8,749.26 634.54,735.27 635.28,719.41 636.02,704.43 636.76,692.02 637.5,689.36 638.24,697.43 638.98,708.52 639.72,721.82 640.46,736.19 641.2,750.34 641.94,762.84 642.68,772.63 643.42,773.28 644.16,763.73 644.9,751.42 645.64,737.35 646.38,722.95 647.12,709.52 647.86,698.21 648.6,689.88 649.34,693.87 650.08,705.24 650.82,719.09 651.56,734.28 652.3,749.77 653.04,763.65 653.78,774.74 654.52,777.9 655.26,768.02 656,755.03 656.74,739.96 657.48,724.47 658.22,709.99 658.96,697.62 659.7,688.3 660.44,693.98 661.18,704.52 661.92,717.6 662.66,732.1 663.4,746.31 664.14,759.22 664.88,769.72 665.62,774.82 666.36,766.27 667.1,754.8 667.84,741.28" fill="none" stroke="#ee3333" stroke-width="1.3" stroke-linejoin="round"/>
<polyline points="519.81,778.13 520.55,768.66 521.29,754.28 522.03,747.24 522.77,731.88 523.51,718.52 524.25,704.18 524.99,694.58 525.73,691.12 526.47,698.05 527.21,706.9 527.95,725.1 528.69,744.11 529.43,758.9 530.17,768.86 530.91,781.78 531.65,777.78 532.39,758.56 533.13,746.19 533.87,735.14 534.61,719.87 535.35,705.56 536.09,685.98 536.83,690.04 537.57,695.03 538.32,704.87 539.06,729.13 539.8,741.13 540.54,754.25 541.28,762.04 542.02,778.1 542.76,773.84 543.5,763.48 544.24,752.37 544.98,731.91 545.72,714.72 546.46,703.87 547.2,695.85 547.94,682.06 548.68,691.5 549.42,705.34 550.16,723.86 550.9,735.33 551.64,752.76 552.38,766.67 553.12,777.58 553.86,779.09 554.6,765.98 555.34,748.81 556.08,734.17 556.82,721.13 557.56,701.47 558.3,688.73 559.04,688.94 559.78,696.72 560.52,708.31 561.26,725.01 562,733.59 562.74,749.31 563.48,763.31 564.22,769.2 564.96,776.32 565.7,768 566.44,756.12 567.18,739.36 567.92,718.98 568.66,706.29 569.4,698.96 570.14,686.07 570.88,695.16 571.62,701.77 572.36,721.4 573.1,737.07 573.84,748.48 574.58,760.86 575.32,774.32 576.06,781.03 576.8,767.63 577.54,757.99 578.28,745.16 579.02,726.36 579.76,706.82 580.5,694.07 581.24,688.16 581.99,691.95 582.73,702.15 583.47,720 584.21,727.42 584.95,750.21 585.69,766.88 586.43,774.64 587.17,777.44 587.91,770.3 588.65,757.78 589.39,742.95 590.13,729.37 590.87,715.57 591.61,702.7 592.35,692.17 593.09,686.86 593.83,705.63 594.57,717.13 595.31,725.38 596.05,742.74 596.79,761.7 597.53,769.27 598.27,775.01 599.01,764.37 599.75,761.11 600.49,739.82 601.23,726.43 601.97,716.3 602.71,700.74 603.45,687.64 604.19,689.07 604.93,695.43 605.67,710.66 606.41,731.2 607.15,745.37 607.89,758.94 608.63,774.12 609.37,775.69 610.11,775.62 610.85,763.95 611.59,745.98 612.33,730.79 613.07,716.65 613.81,702.11 614.55,688.9 615.29,683.56 616.03,701.32 616.77,706.23 617.51,720.96 618.25,739.22 618.99,753.21 619.73,770.19 620.47,774.39 621.21,772.26 621.95,761.4 622.69,749.53 623.43,736.02 624.17,715.96 624.91,701.39 625.66,696.89 626.4,686.38 627.14,693.9 627.88,710.02 628.62,726.16 629.36,741.13 630.1,756.55 630.84,767.52 631.58,774.13 632.32,771.49 633.06,760.36 633.8,751.1 634.54,738.84 635.28,715.38 636.02,703.16 636.76,690.3 637.5,687.54 638.24,699.14 638.98,707.62 639.72,723.56 640.46,734.73 641.2,747.3 641.94,767.47 642.68,769.8 643.42,776.95 644.16,768.37 644.9,755.49 645.64,736.76 646.38,719.52 647.12,705.44 647.86,701.49 648.6,690.56 649.34,689.64 650.08,701.52 650.82,715.96 651.56,736.69 652.3,751.93 653.04,767.02 653.78,777.01 654.52,778.81 655.26,765.17 656,753.49 656.74,743.1 657.48,727.55 658.22,710.47 658.96,693.87 659.7,688.56 660.44,691.21 661.18,702.71 661.92,713.98 662.66,732.14 663.4,747.48 664.14,759.63 664.88,766.82 665.62,776.94 666.36,769.21 667.1,751.57 667.84,741.47" fill="none" stroke="#5b6ef5" stroke-width="1.3" stroke-linejoin="round"/>
<rect x="505.2" y="652.3" width="177.3" height="143.7" fill="none" stroke="#111" stroke-width="1.3"/>
<line x1="519.81" y1="796" x2="519.81" y2="798.6" stroke="#111" stroke-width="1.0"/>
<line x1="549.42" y1="796" x2="549.42" y2="798.6" stroke="#111" stroke-width="1.0"/>
<line x1="579.02" y1="796" x2="579.02" y2="798.6" stroke="#111" stroke-width="1.0"/>
<line x1="608.63" y1="796" x2="608.63" y2="798.6" stroke="#111" stroke-width="1.0"/>
<line x1="638.24" y1="796" x2="638.24" y2="798.6" stroke="#111" stroke-width="1.0"/>
<line x1="667.84" y1="796" x2="667.84" y2="798.6" stroke="#111" stroke-width="1.0"/>
<line x1="534.61" y1="796" x2="534.61" y2="797.56" stroke="#111" stroke-width="1.0"/>
<line x1="564.22" y1="796" x2="564.22" y2="797.56" stroke="#111" stroke-width="1.0"/>
<line x1="593.83" y1="796" x2="593.83" y2="797.56" stroke="#111" stroke-width="1.0"/>
<line x1="623.43" y1="796" x2="623.43" y2="797.56" stroke="#111" stroke-width="1.0"/>
<line x1="653.04" y1="796" x2="653.04" y2="797.56" stroke="#111" stroke-width="1.0"/>
<text x="519.81" y="809" font-size="8.6" text-anchor="middle">0</text>
<text x="549.42" y="809" font-size="8.6" text-anchor="middle">2</text>
<text x="579.02" y="809" font-size="8.6" text-anchor="middle">4</text>
<text x="608.63" y="809" font-size="8.6" text-anchor="middle">6</text>
<text x="638.24" y="809" font-size="8.6" text-anchor="middle">8</text>
<text x="667.84" y="809" font-size="8.6" text-anchor="middle">10</text>
<line x1="502.6" y1="769.37" x2="505.2" y2="769.37" stroke="#111" stroke-width="1.0"/>
<line x1="502.6" y1="737.41" x2="505.2" y2="737.41" stroke="#111" stroke-width="1.0"/>
<line x1="502.6" y1="705.46" x2="505.2" y2="705.46" stroke="#111" stroke-width="1.0"/>
<line x1="502.6" y1="673.5" x2="505.2" y2="673.5" stroke="#111" stroke-width="1.0"/>
<line x1="503.64" y1="785.35" x2="505.2" y2="785.35" stroke="#111" stroke-width="1.0"/>
<line x1="503.64" y1="753.39" x2="505.2" y2="753.39" stroke="#111" stroke-width="1.0"/>
<line x1="503.64" y1="721.43" x2="505.2" y2="721.43" stroke="#111" stroke-width="1.0"/>
<line x1="503.64" y1="689.48" x2="505.2" y2="689.48" stroke="#111" stroke-width="1.0"/>
<line x1="503.64" y1="657.52" x2="505.2" y2="657.52" stroke="#111" stroke-width="1.0"/>
<text x="500" y="772.38" font-size="8.6" text-anchor="end">75</text>
<text x="500" y="740.42" font-size="8.6" text-anchor="end">78</text>
<text x="500" y="708.47" font-size="8.6" text-anchor="end">81</text>
<text x="500" y="676.51" font-size="8.6" text-anchor="end">84</text>
<text x="593.8" y="822.6" font-size="8.8" text-anchor="middle">Time (s)</text>
<text x="485.4" y="724" font-size="8.8" text-anchor="middle" transform="rotate(-90 485.4 724)">Pressure (mmHg)</text>
<line x1="507.7" y1="660.7" x2="528.1" y2="660.7" stroke="#ee3333" stroke-width="1.3"/>
<line x1="507.7" y1="672.4" x2="528.1" y2="672.4" stroke="#5b6ef5" stroke-width="1.3"/>
<text x="531.8" y="663.7" font-size="8.8">Reference pressure</text>
<text x="531.8" y="675.4" font-size="8.8">Predicted pressure from resonance</text>
</svg></body></html>
